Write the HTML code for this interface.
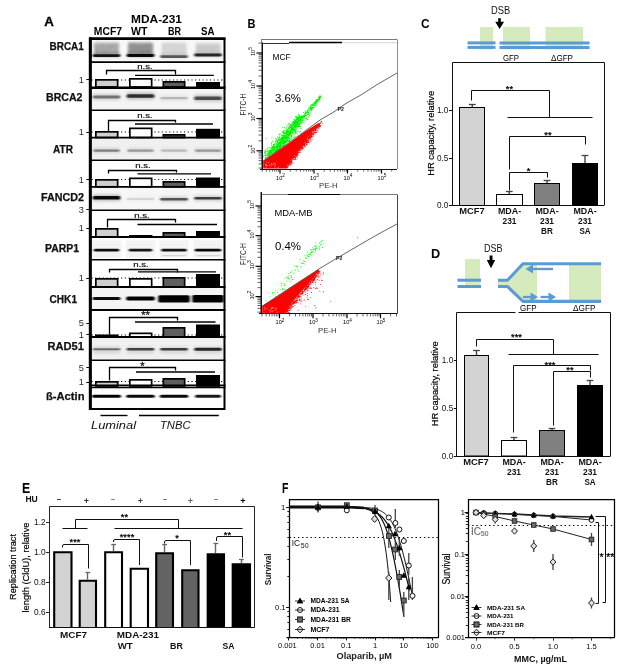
<!DOCTYPE html>
<html lang="en"><head><meta charset="utf-8"><title>Figure</title>
<style>
html,body{margin:0;padding:0;background:#fff;}
body{width:621px;height:668px;overflow:hidden;}
svg{display:block;font-family:"Liberation Sans",sans-serif;}
</style></head><body>
<svg width="621" height="668" viewBox="0 0 621 668">
<defs>
<filter id="b1" x="-20%" y="-100%" width="140%" height="300%"><feGaussianBlur stdDeviation="1.1 0.7"/></filter>
<filter id="b2" x="-20%" y="-100%" width="140%" height="300%"><feGaussianBlur stdDeviation="1.6 1.4"/></filter>
<filter id="nz" x="-5%" y="-10%" width="110%" height="120%"><feTurbulence type="fractalNoise" baseFrequency="0.55 0.9" numOctaves="2" seed="4" result="n"/><feColorMatrix in="n" type="matrix" values="0 0 0 0 0  0 0 0 0 0  0 0 0 0 0  2.6 0 0 0 -0.85" result="a"/><feComposite in="SourceGraphic" in2="a" operator="in"/><feGaussianBlur stdDeviation="0.85"/></filter>
<filter id="b3" x="-5%" y="-5%" width="110%" height="110%"><feGaussianBlur stdDeviation="0.35"/></filter>
</defs>
<rect width="621" height="668" fill="#fff"/>
<g id="panelA">
<text x="44.3" y="26.2" font-size="13.4" font-weight="bold" textLength="9.6" lengthAdjust="spacingAndGlyphs" stroke="#000" stroke-width="0.3">A</text>
<text x="131" y="23" font-size="11" font-weight="bold" textLength="51" lengthAdjust="spacingAndGlyphs">MDA-231</text>
<text x="93.8" y="35" font-size="10.3" font-weight="bold" textLength="28.2" lengthAdjust="spacingAndGlyphs">MCF7</text>
<text x="131" y="35" font-size="10.3" font-weight="bold" textLength="16.5" lengthAdjust="spacingAndGlyphs">WT</text>
<text x="168" y="35" font-size="10.3" font-weight="bold" textLength="13" lengthAdjust="spacingAndGlyphs">BR</text>
<text x="201" y="35" font-size="10.3" font-weight="bold" textLength="13.5" lengthAdjust="spacingAndGlyphs">SA</text>
<text x="49.5" y="50" font-size="10.6" font-weight="bold" fill="#111" textLength="34.3" lengthAdjust="spacingAndGlyphs" stroke="#111" stroke-width="0.25">BRCA1</text>
<rect x="90.5" y="39" width="134" height="22" fill="#f8f8f8"/>
<text x="46" y="101" font-size="10.6" font-weight="bold" fill="#111" textLength="36.5" lengthAdjust="spacingAndGlyphs" stroke="#111" stroke-width="0.25">BRCA2</text>
<rect x="90.5" y="88" width="134" height="21.5" fill="#f4f4f4"/>
<text x="53" y="152.5" font-size="10.6" font-weight="bold" fill="#111" textLength="20" lengthAdjust="spacingAndGlyphs" stroke="#111" stroke-width="0.25">ATR</text>
<rect x="90.5" y="138" width="134" height="21.5" fill="#f0f0f0"/>
<text x="41" y="201" font-size="10.6" font-weight="bold" fill="#111" textLength="43" lengthAdjust="spacingAndGlyphs" stroke="#111" stroke-width="0.25">FANCD2</text>
<rect x="90.5" y="187.5" width="134" height="22" fill="#f6f6f6"/>
<text x="45" y="252" font-size="10.6" font-weight="bold" fill="#111" textLength="34" lengthAdjust="spacingAndGlyphs" stroke="#111" stroke-width="0.25">PARP1</text>
<rect x="90.5" y="238" width="134" height="21" fill="#fcfcfc"/>
<text x="49.5" y="302.5" font-size="10.6" font-weight="bold" fill="#111" textLength="27.5" lengthAdjust="spacingAndGlyphs" stroke="#111" stroke-width="0.25">CHK1</text>
<rect x="90.5" y="288" width="134" height="21" fill="#f4f4f4"/>
<text x="47.5" y="350" font-size="10.6" font-weight="bold" fill="#111" textLength="36.5" lengthAdjust="spacingAndGlyphs" stroke="#111" stroke-width="0.25">RAD51</text>
<rect x="90.5" y="338" width="134" height="21.5" fill="#f0f0f0"/>
<text x="46" y="399.5" font-size="10.6" font-weight="bold" fill="#111" textLength="38.5" lengthAdjust="spacingAndGlyphs" stroke="#111" stroke-width="0.25">ß-Actin</text>
<rect x="90.5" y="387.5" width="134" height="20.5" fill="#fdfdfd"/>
<rect x="94" y="42.8" width="25" height="12" rx="1.5" fill="#000" opacity="0.24" filter="url(#b2)"/>
<rect x="94" y="42.5" width="25" height="12.5" fill="#000" opacity="0.22" filter="url(#nz)"/>
<rect x="92.75" y="54.2" width="27.5" height="2.8" rx="1.4" fill="#000" opacity="0.9" filter="url(#b1)"/>
<rect x="92.5" y="52.85" width="28" height="4.5" rx="1.5" fill="#000" opacity="0.23" filter="url(#b2)"/>
<rect x="128" y="42.8" width="25" height="12" rx="1.5" fill="#000" opacity="0.32" filter="url(#b2)"/>
<rect x="128" y="42.5" width="25" height="12.5" fill="#000" opacity="0.29" filter="url(#nz)"/>
<rect x="126.75" y="54.1" width="27.5" height="2.8" rx="1.4" fill="#000" opacity="0.95" filter="url(#b1)"/>
<rect x="126.5" y="52.75" width="28" height="4.5" rx="1.5" fill="#000" opacity="0.24" filter="url(#b2)"/>
<rect x="161.5" y="42.8" width="25" height="12" rx="1.5" fill="#000" opacity="0.1" filter="url(#b2)"/>
<rect x="161.5" y="42.5" width="25" height="12.5" fill="#000" opacity="0.09" filter="url(#nz)"/>
<rect x="160.25" y="55.2" width="27.5" height="2.8" rx="1.4" fill="#000" opacity="0.6" filter="url(#b1)"/>
<rect x="160" y="53.85" width="28" height="4.5" rx="1.5" fill="#000" opacity="0.15" filter="url(#b2)"/>
<rect x="195.5" y="42.8" width="25" height="12" rx="1.5" fill="#000" opacity="0.08" filter="url(#b2)"/>
<rect x="195.5" y="42.5" width="25" height="12.5" fill="#000" opacity="0.07" filter="url(#nz)"/>
<rect x="194.25" y="53.6" width="27.5" height="2.8" rx="1.4" fill="#000" opacity="0.8" filter="url(#b1)"/>
<rect x="194" y="52.25" width="28" height="4.5" rx="1.5" fill="#000" opacity="0.2" filter="url(#b2)"/>
<rect x="196" y="44.5" width="24" height="7" rx="1.5" fill="#000" opacity="0.08" filter="url(#b2)"/>
<rect x="92.75" y="95.6" width="27.5" height="2.8" rx="1.4" fill="#000" opacity="0.45" filter="url(#b1)"/>
<rect x="92.5" y="93.85" width="28" height="6.3" rx="1.5" fill="#000" opacity="0.14" filter="url(#b2)"/>
<rect x="126.75" y="94.2" width="27.5" height="3.6" rx="1.5" fill="#000" opacity="0.75" filter="url(#b1)"/>
<rect x="126.5" y="92.45" width="28" height="7.1" rx="1.5" fill="#000" opacity="0.22" filter="url(#b2)"/>
<rect x="160.25" y="97.1" width="27.5" height="2.2" rx="1.1" fill="#000" opacity="0.2" filter="url(#b1)"/>
<rect x="160" y="95.35" width="28" height="5.7" rx="1.5" fill="#000" opacity="0.06" filter="url(#b2)"/>
<rect x="194.25" y="96.5" width="27.5" height="3.4" rx="1.5" fill="#000" opacity="0.62" filter="url(#b1)"/>
<rect x="194" y="94.75" width="28" height="6.9" rx="1.5" fill="#000" opacity="0.19" filter="url(#b2)"/>
<rect x="93.5" y="149.4" width="26" height="2.4" rx="1.2" fill="#000" opacity="0.4" filter="url(#b1)"/>
<rect x="93" y="148.1" width="27" height="5" rx="1.5" fill="#000" opacity="0.12" filter="url(#b2)"/>
<rect x="127.5" y="149.4" width="26" height="2.4" rx="1.2" fill="#000" opacity="0.3" filter="url(#b1)"/>
<rect x="127" y="148.1" width="27" height="5" rx="1.5" fill="#000" opacity="0.09" filter="url(#b2)"/>
<rect x="161" y="149.4" width="26" height="2.4" rx="1.2" fill="#000" opacity="0.18" filter="url(#b1)"/>
<rect x="160.5" y="148.1" width="27" height="5" rx="1.5" fill="#000" opacity="0.05" filter="url(#b2)"/>
<rect x="195" y="149.4" width="26" height="2.4" rx="1.2" fill="#000" opacity="0.3" filter="url(#b1)"/>
<rect x="194.5" y="148.1" width="27" height="5" rx="1.5" fill="#000" opacity="0.09" filter="url(#b2)"/>
<rect x="92.75" y="196" width="27.5" height="3.6" rx="1.5" fill="#000" opacity="0.95" filter="url(#b1)"/>
<rect x="92.5" y="194.5" width="28" height="6.6" rx="1.5" fill="#000" opacity="0.24" filter="url(#b2)"/>
<rect x="126.75" y="198.1" width="27.5" height="1.8" rx="0.9" fill="#000" opacity="0.1" filter="url(#b1)"/>
<rect x="126.5" y="196.6" width="28" height="4.8" rx="1.5" fill="#000" opacity="0.03" filter="url(#b2)"/>
<rect x="160.25" y="198.1" width="27.5" height="2.4" rx="1.2" fill="#000" opacity="0.6" filter="url(#b1)"/>
<rect x="160" y="196.6" width="28" height="5.4" rx="1.5" fill="#000" opacity="0.15" filter="url(#b2)"/>
<rect x="194.25" y="196.9" width="27.5" height="2.6" rx="1.3" fill="#000" opacity="0.7" filter="url(#b1)"/>
<rect x="194" y="195.4" width="28" height="5.6" rx="1.5" fill="#000" opacity="0.17" filter="url(#b2)"/>
<rect x="92" y="240.5" width="29" height="17" fill="#f3f3f3"/>
<rect x="126" y="240.5" width="29" height="17" fill="#f3f3f3"/>
<rect x="159.5" y="240.5" width="29" height="17" fill="#f3f3f3"/>
<rect x="193.5" y="240.5" width="29" height="17" fill="#f3f3f3"/>
<rect x="93.75" y="248.8" width="25.5" height="2.8" rx="1.4" fill="#000" opacity="0.95" filter="url(#b1)"/>
<rect x="128.75" y="248.8" width="23.5" height="2.8" rx="1.4" fill="#000" opacity="0.9" filter="url(#b1)"/>
<rect x="161.25" y="248.8" width="25.5" height="2.8" rx="1.4" fill="#000" opacity="0.92" filter="url(#b1)"/>
<rect x="194.75" y="248.8" width="26.5" height="2.8" rx="1.4" fill="#000" opacity="0.97" filter="url(#b1)"/>
<rect x="162" y="255" width="24" height="1.2" rx="0.6" fill="#000" opacity="0.12" filter="url(#b1)"/>
<rect x="196" y="255" width="24" height="1.2" rx="0.6" fill="#000" opacity="0.12" filter="url(#b1)"/>
<rect x="92.5" y="297.1" width="28" height="3" rx="1.5" fill="#000" opacity="0.95" filter="url(#b1)"/>
<rect x="126.25" y="296.6" width="28.5" height="4" rx="1.5" fill="#000" opacity="1" filter="url(#b1)"/>
<rect x="158.25" y="295.2" width="31.5" height="7.2" rx="1.5" fill="#000" opacity="1" filter="url(#b1)"/>
<rect x="192.25" y="295" width="31.5" height="7.6" rx="1.5" fill="#000" opacity="1" filter="url(#b1)"/>
<rect x="92.75" y="348.2" width="27.5" height="2" rx="1" fill="#000" opacity="0.5" filter="url(#b1)"/>
<rect x="92.5" y="346.5" width="28" height="7" rx="1.5" fill="#000" opacity="0.1" filter="url(#b2)"/>
<rect x="126.75" y="347.9" width="27.5" height="2.6" rx="1.3" fill="#000" opacity="0.7" filter="url(#b1)"/>
<rect x="126.5" y="346.5" width="28" height="7" rx="1.5" fill="#000" opacity="0.1" filter="url(#b2)"/>
<rect x="160.25" y="347.9" width="27.5" height="2.6" rx="1.3" fill="#000" opacity="0.72" filter="url(#b1)"/>
<rect x="160" y="346.5" width="28" height="7" rx="1.5" fill="#000" opacity="0.1" filter="url(#b2)"/>
<rect x="194.25" y="347.7" width="27.5" height="3" rx="1.5" fill="#000" opacity="0.82" filter="url(#b1)"/>
<rect x="194" y="346.5" width="28" height="7" rx="1.5" fill="#000" opacity="0.1" filter="url(#b2)"/>
<rect x="92" y="394.8" width="29" height="3" rx="1.5" fill="#000" opacity="0.98" filter="url(#b1)"/>
<rect x="126.25" y="394.8" width="28.5" height="3" rx="1.5" fill="#000" opacity="0.96" filter="url(#b1)"/>
<rect x="159.75" y="394.8" width="28.5" height="3" rx="1.5" fill="#000" opacity="0.96" filter="url(#b1)"/>
<rect x="195" y="394.8" width="26" height="3" rx="1.5" fill="#000" opacity="0.9" filter="url(#b1)"/>
<rect x="90.5" y="62.5" width="134" height="24.5" fill="#fff"/>
<line x1="91.5" y1="80" x2="223.5" y2="80" stroke="#111" stroke-width="1.2" stroke-dasharray="1.2 2.5"/>
<rect x="95.85" y="79.85" width="21.8" height="7.15" fill="#cfcfcf" stroke="#000" stroke-width="1.7"/>
<rect x="129.85" y="78.85" width="21.8" height="8.15" fill="#fff" stroke="#000" stroke-width="1.7"/>
<rect x="163.35" y="81.85" width="21.3" height="5.15" fill="#5e5e5e" stroke="#000" stroke-width="1.7"/>
<rect x="196.85" y="82.85" width="22.3" height="4.15" fill="#000" stroke="#000" stroke-width="1.7"/>
<text x="83.8" y="82.7" font-size="9.2" text-anchor="end" fill="#2a2a2a">1</text>
<line x1="86.3" y1="79.5" x2="89.5" y2="79.5" stroke="#111" stroke-width="1"/>
<text x="145" y="68.8" font-size="7.6" text-anchor="middle" fill="#111" textLength="15.5" lengthAdjust="spacingAndGlyphs" stroke="#111" stroke-width="0.2">n.s.</text>
<path d="M106.5 74.5V70.5H175.5V74.5" fill="none" stroke="#000" stroke-width="1.3"/>
<line x1="135" y1="75.4" x2="213.8" y2="75.4" stroke="#000" stroke-width="1.3"/>
<rect x="90.5" y="111" width="134" height="26.5" fill="#fff"/>
<line x1="91.5" y1="132" x2="223.5" y2="132" stroke="#111" stroke-width="1.2" stroke-dasharray="1.2 2.5"/>
<rect x="95.85" y="131.85" width="21.8" height="5.65" fill="#cfcfcf" stroke="#000" stroke-width="1.7"/>
<rect x="129.85" y="128.35" width="21.8" height="9.15" fill="#fff" stroke="#000" stroke-width="1.7"/>
<rect x="163.35" y="134.85" width="21.3" height="2.65" fill="#5e5e5e" stroke="#000" stroke-width="1.7"/>
<rect x="196.85" y="129.65" width="22.3" height="7.85" fill="#000" stroke="#000" stroke-width="1.7"/>
<text x="83.8" y="135.2" font-size="9.2" text-anchor="end" fill="#2a2a2a">1</text>
<line x1="86.3" y1="132.5" x2="89.5" y2="132.5" stroke="#111" stroke-width="1"/>
<text x="145" y="117.6" font-size="7.6" text-anchor="middle" fill="#111" textLength="15.5" lengthAdjust="spacingAndGlyphs" stroke="#111" stroke-width="0.2">n.s.</text>
<path d="M108.5 131.5V120.5H175.5V122.5" fill="none" stroke="#000" stroke-width="1.3"/>
<line x1="135" y1="124" x2="213" y2="124" stroke="#000" stroke-width="1.3"/>
<rect x="90.5" y="161" width="134" height="25.8" fill="#fff"/>
<line x1="91.5" y1="179.5" x2="223.5" y2="179.5" stroke="#111" stroke-width="1.2" stroke-dasharray="1.2 2.5"/>
<rect x="95.85" y="179.85" width="21.8" height="6.95" fill="#cfcfcf" stroke="#000" stroke-width="1.7"/>
<rect x="129.85" y="178.35" width="21.8" height="8.45" fill="#fff" stroke="#000" stroke-width="1.7"/>
<rect x="163.35" y="181.85" width="21.3" height="4.95" fill="#5e5e5e" stroke="#000" stroke-width="1.7"/>
<rect x="196.85" y="178.35" width="22.3" height="8.45" fill="#000" stroke="#000" stroke-width="1.7"/>
<text x="83.8" y="182.7" font-size="9.2" text-anchor="end" fill="#2a2a2a">1</text>
<line x1="86.3" y1="179.5" x2="89.5" y2="179.5" stroke="#111" stroke-width="1"/>
<text x="143" y="167.6" font-size="7.6" text-anchor="middle" fill="#111" textLength="15.5" lengthAdjust="spacingAndGlyphs" stroke="#111" stroke-width="0.2">n.s.</text>
<path d="M108.5 173.5V170.5H176.5V172.5" fill="none" stroke="#000" stroke-width="1.3"/>
<line x1="137.5" y1="173.8" x2="211" y2="173.8" stroke="#000" stroke-width="1.3"/>
<rect x="90.5" y="211" width="134" height="26" fill="#fff"/>
<rect x="95.85" y="228.85" width="21.8" height="8.15" fill="#cfcfcf" stroke="#000" stroke-width="1.7"/>
<rect x="129.85" y="235.85" width="21.8" height="1.15" fill="#fff" stroke="#000" stroke-width="1.7"/>
<rect x="163.35" y="232.85" width="21.3" height="4.15" fill="#5e5e5e" stroke="#000" stroke-width="1.7"/>
<rect x="196.85" y="231.85" width="22.3" height="5.15" fill="#000" stroke="#000" stroke-width="1.7"/>
<text x="83.8" y="212.7" font-size="9.2" text-anchor="end" fill="#2a2a2a">3</text>
<line x1="86.3" y1="209.5" x2="89.5" y2="209.5" stroke="#111" stroke-width="1"/>
<text x="83.8" y="231.2" font-size="9.2" text-anchor="end" fill="#2a2a2a">1</text>
<line x1="86.3" y1="228.5" x2="89.5" y2="228.5" stroke="#111" stroke-width="1"/>
<text x="142" y="217.6" font-size="7.6" text-anchor="middle" fill="#111" textLength="15.5" lengthAdjust="spacingAndGlyphs" stroke="#111" stroke-width="0.2">n.s.</text>
<path d="M107.5 227.5V219.5H175.5V222.5" fill="none" stroke="#000" stroke-width="1.3"/>
<line x1="137.5" y1="224.5" x2="217" y2="224.5" stroke="#000" stroke-width="1.3"/>
<rect x="90.5" y="260.5" width="134" height="26.5" fill="#fff"/>
<line x1="91.5" y1="278" x2="223.5" y2="278" stroke="#111" stroke-width="1.2" stroke-dasharray="1.2 2.5"/>
<rect x="95.85" y="278.85" width="21.8" height="8.15" fill="#cfcfcf" stroke="#000" stroke-width="1.7"/>
<rect x="129.85" y="278.85" width="21.8" height="8.15" fill="#fff" stroke="#000" stroke-width="1.7"/>
<rect x="163.35" y="277.85" width="21.3" height="9.15" fill="#5e5e5e" stroke="#000" stroke-width="1.7"/>
<rect x="196.85" y="274.85" width="22.3" height="12.15" fill="#000" stroke="#000" stroke-width="1.7"/>
<text x="83.8" y="281.2" font-size="9.2" text-anchor="end" fill="#2a2a2a">1</text>
<line x1="86.3" y1="278.5" x2="89.5" y2="278.5" stroke="#111" stroke-width="1"/>
<text x="141" y="267.2" font-size="7.6" text-anchor="middle" fill="#111" textLength="15.5" lengthAdjust="spacingAndGlyphs" stroke="#111" stroke-width="0.2">n.s.</text>
<path d="M109.5 272.5V269.5H177.5V272.5" fill="none" stroke="#000" stroke-width="1.3"/>
<line x1="138" y1="271.8" x2="216" y2="271.8" stroke="#000" stroke-width="1.3"/>
<rect x="90.5" y="311" width="134" height="26" fill="#fff"/>
<line x1="91.5" y1="335" x2="223.5" y2="335" stroke="#111" stroke-width="1.2" stroke-dasharray="1.2 2.5"/>
<rect x="95.85" y="335.35" width="21.8" height="1.65" fill="#cfcfcf" stroke="#000" stroke-width="1.7"/>
<rect x="129.85" y="333.35" width="21.8" height="3.65" fill="#fff" stroke="#000" stroke-width="1.7"/>
<rect x="163.35" y="327.85" width="21.3" height="9.15" fill="#5e5e5e" stroke="#000" stroke-width="1.7"/>
<rect x="196.85" y="325.35" width="22.3" height="11.65" fill="#000" stroke="#000" stroke-width="1.7"/>
<text x="83.8" y="326.2" font-size="9.2" text-anchor="end" fill="#2a2a2a">5</text>
<line x1="86.3" y1="323.5" x2="89.5" y2="323.5" stroke="#111" stroke-width="1"/>
<text x="83.8" y="337.7" font-size="9.2" text-anchor="end" fill="#2a2a2a">1</text>
<line x1="86.3" y1="334.5" x2="89.5" y2="334.5" stroke="#111" stroke-width="1"/>
<text x="145.5" y="319.3" font-size="11" text-anchor="middle" fill="#111" stroke="#111" stroke-width="0.3">**</text>
<path d="M109.5 334.5V317.5H177.5V320.5" fill="none" stroke="#000" stroke-width="1.3"/>
<line x1="135" y1="322" x2="215.5" y2="322" stroke="#000" stroke-width="1.3"/>
<rect x="90.5" y="361" width="134" height="25" fill="#fff"/>
<line x1="91.5" y1="381.5" x2="223.5" y2="381.5" stroke="#111" stroke-width="1.2" stroke-dasharray="1.2 2.5"/>
<rect x="95.85" y="381.85" width="21.8" height="4.15" fill="#cfcfcf" stroke="#000" stroke-width="1.7"/>
<rect x="129.85" y="379.85" width="21.8" height="6.15" fill="#fff" stroke="#000" stroke-width="1.7"/>
<rect x="163.35" y="378.85" width="21.3" height="7.15" fill="#5e5e5e" stroke="#000" stroke-width="1.7"/>
<rect x="196.85" y="375.85" width="22.3" height="10.15" fill="#000" stroke="#000" stroke-width="1.7"/>
<text x="83.8" y="370.7" font-size="9.2" text-anchor="end" fill="#2a2a2a">5</text>
<line x1="86.3" y1="367.5" x2="89.5" y2="367.5" stroke="#111" stroke-width="1"/>
<text x="83.8" y="385.2" font-size="9.2" text-anchor="end" fill="#2a2a2a">1</text>
<line x1="86.3" y1="382.5" x2="89.5" y2="382.5" stroke="#111" stroke-width="1"/>
<text x="142.3" y="369.6" font-size="11" text-anchor="middle" fill="#111" stroke="#111" stroke-width="0.3">*</text>
<path d="M109.5 380.5V367.5H175.5V370.5" fill="none" stroke="#000" stroke-width="1.3"/>
<line x1="136" y1="372" x2="215" y2="372" stroke="#000" stroke-width="1.3"/>
<line x1="89.5" y1="62.1" x2="225.5" y2="62.1" stroke="#000" stroke-width="1.7"/>
<line x1="89.5" y1="87.7" x2="225.5" y2="87.7" stroke="#000" stroke-width="2.4"/>
<line x1="89.5" y1="110.2" x2="225.5" y2="110.2" stroke="#000" stroke-width="1.6"/>
<line x1="89.5" y1="137.6" x2="225.5" y2="137.6" stroke="#000" stroke-width="1.6"/>
<line x1="89.5" y1="160.2" x2="225.5" y2="160.2" stroke="#000" stroke-width="1.6"/>
<line x1="89.5" y1="186.8" x2="225.5" y2="186.8" stroke="#000" stroke-width="1.8"/>
<line x1="89.5" y1="210.2" x2="225.5" y2="210.2" stroke="#000" stroke-width="1.6"/>
<line x1="89.5" y1="237" x2="225.5" y2="237" stroke="#000" stroke-width="2"/>
<line x1="89.5" y1="259.8" x2="225.5" y2="259.8" stroke="#000" stroke-width="1.6"/>
<line x1="89.5" y1="287" x2="225.5" y2="287" stroke="#000" stroke-width="2"/>
<line x1="89.5" y1="310" x2="225.5" y2="310" stroke="#000" stroke-width="1.8"/>
<line x1="89.5" y1="337" x2="225.5" y2="337" stroke="#000" stroke-width="2"/>
<line x1="89.5" y1="360.2" x2="225.5" y2="360.2" stroke="#000" stroke-width="1.6"/>
<line x1="89.5" y1="385.4" x2="225.5" y2="385.4" stroke="#000" stroke-width="1.6"/>
<line x1="89.5" y1="387.5" x2="225.5" y2="387.5" stroke="#000" stroke-width="1.4"/>
<path d="M90.5 38.4H224.5V409H90.5Z" fill="none" stroke="#000" stroke-width="2"/>
<line x1="89" y1="38.7" x2="225.5" y2="38.7" stroke="#000" stroke-width="2.6"/>
<line x1="90.2" y1="37.4" x2="90.2" y2="410" stroke="#000" stroke-width="2.6"/>
<line x1="90.2" y1="37.4" x2="90.2" y2="410" stroke="#000" stroke-width="2.6"/>
<line x1="100.5" y1="415.5" x2="127.5" y2="415.5" stroke="#000" stroke-width="1.4"/>
<line x1="139" y1="415.5" x2="218.8" y2="415.5" stroke="#000" stroke-width="1.4"/>
<text x="91" y="429" font-size="11.6" fill="#111" textLength="45" lengthAdjust="spacingAndGlyphs" font-style="italic">Luminal</text>
<text x="160" y="428.5" font-size="11.6" fill="#111" textLength="30.5" lengthAdjust="spacingAndGlyphs" font-style="italic">TNBC</text>
</g>
<g id="panelB">
<text x="247.5" y="27.5" font-size="12.8" font-weight="bold" textLength="8" lengthAdjust="spacingAndGlyphs">B</text>
<rect x="261" y="39.5" width="136" height="129.5" fill="#fff"/>
<line x1="261" y1="39.5" x2="397" y2="39.5" stroke="#777" stroke-width="1"/>
<line x1="397.5" y1="39.5" x2="397.5" y2="169" stroke="#8c8c8c" stroke-width="1"/>
<line x1="261.5" y1="39.5" x2="261.5" y2="169" stroke="#8c8c8c" stroke-width="1"/>
<line x1="289" y1="42.7" x2="397" y2="42.7" stroke="#c8c8c8" stroke-width="0.8"/>
<line x1="262.5" y1="43.5" x2="289" y2="43.5" stroke="#333" stroke-width="1"/>
<line x1="289" y1="42.5" x2="342" y2="42.5" stroke="#000" stroke-width="1.4"/>
<line x1="262.5" y1="42.5" x2="262.5" y2="169" stroke="#111" stroke-width="1"/>
<line x1="260" y1="169.5" x2="397" y2="169.5" stroke="#111" stroke-width="1"/>
<line x1="256.5" y1="53" x2="262.5" y2="53" stroke="#000" stroke-width="1.2"/>
<line x1="258.5" y1="43.07" x2="262.5" y2="43.07" stroke="#222" stroke-width="0.7"/>
<text x="255" y="51.5" font-size="5.6" fill="#000" transform="rotate(-90 255 51.5)" text-anchor="middle">10<tspan dy="-2.8" font-size="5">5</tspan></text>
<line x1="256.5" y1="86" x2="262.5" y2="86" stroke="#000" stroke-width="1.2"/>
<line x1="258.5" y1="76.07" x2="262.5" y2="76.07" stroke="#222" stroke-width="0.7"/>
<line x1="258.5" y1="70.25" x2="262.5" y2="70.25" stroke="#222" stroke-width="0.7"/>
<line x1="258.5" y1="66.13" x2="262.5" y2="66.13" stroke="#222" stroke-width="0.7"/>
<line x1="258.5" y1="62.93" x2="262.5" y2="62.93" stroke="#222" stroke-width="0.7"/>
<line x1="258.5" y1="60.32" x2="262.5" y2="60.32" stroke="#222" stroke-width="0.7"/>
<line x1="258.5" y1="58.11" x2="262.5" y2="58.11" stroke="#222" stroke-width="0.7"/>
<line x1="258.5" y1="56.2" x2="262.5" y2="56.2" stroke="#222" stroke-width="0.7"/>
<line x1="258.5" y1="54.51" x2="262.5" y2="54.51" stroke="#222" stroke-width="0.7"/>
<text x="255" y="84.5" font-size="5.6" fill="#000" transform="rotate(-90 255 84.5)" text-anchor="middle">10<tspan dy="-2.8" font-size="5">4</tspan></text>
<line x1="256.5" y1="118.5" x2="262.5" y2="118.5" stroke="#000" stroke-width="1.2"/>
<line x1="258.5" y1="108.57" x2="262.5" y2="108.57" stroke="#222" stroke-width="0.7"/>
<line x1="258.5" y1="102.75" x2="262.5" y2="102.75" stroke="#222" stroke-width="0.7"/>
<line x1="258.5" y1="98.63" x2="262.5" y2="98.63" stroke="#222" stroke-width="0.7"/>
<line x1="258.5" y1="95.43" x2="262.5" y2="95.43" stroke="#222" stroke-width="0.7"/>
<line x1="258.5" y1="92.82" x2="262.5" y2="92.82" stroke="#222" stroke-width="0.7"/>
<line x1="258.5" y1="90.61" x2="262.5" y2="90.61" stroke="#222" stroke-width="0.7"/>
<line x1="258.5" y1="88.7" x2="262.5" y2="88.7" stroke="#222" stroke-width="0.7"/>
<line x1="258.5" y1="87.01" x2="262.5" y2="87.01" stroke="#222" stroke-width="0.7"/>
<text x="255" y="117" font-size="5.6" fill="#000" transform="rotate(-90 255 117)" text-anchor="middle">10<tspan dy="-2.8" font-size="5">3</tspan></text>
<line x1="256.5" y1="150.8" x2="262.5" y2="150.8" stroke="#000" stroke-width="1.2"/>
<line x1="258.5" y1="140.87" x2="262.5" y2="140.87" stroke="#222" stroke-width="0.7"/>
<line x1="258.5" y1="135.05" x2="262.5" y2="135.05" stroke="#222" stroke-width="0.7"/>
<line x1="258.5" y1="130.93" x2="262.5" y2="130.93" stroke="#222" stroke-width="0.7"/>
<line x1="258.5" y1="127.73" x2="262.5" y2="127.73" stroke="#222" stroke-width="0.7"/>
<line x1="258.5" y1="125.12" x2="262.5" y2="125.12" stroke="#222" stroke-width="0.7"/>
<line x1="258.5" y1="122.91" x2="262.5" y2="122.91" stroke="#222" stroke-width="0.7"/>
<line x1="258.5" y1="121" x2="262.5" y2="121" stroke="#222" stroke-width="0.7"/>
<line x1="258.5" y1="119.31" x2="262.5" y2="119.31" stroke="#222" stroke-width="0.7"/>
<text x="255" y="149.3" font-size="5.6" fill="#000" transform="rotate(-90 255 149.3)" text-anchor="middle">10<tspan dy="-2.8" font-size="5">2</tspan></text>
<line x1="258.5" y1="168.05" x2="262.5" y2="168.05" stroke="#222" stroke-width="0.7"/>
<line x1="258.5" y1="163.93" x2="262.5" y2="163.93" stroke="#222" stroke-width="0.7"/>
<line x1="258.5" y1="160.73" x2="262.5" y2="160.73" stroke="#222" stroke-width="0.7"/>
<line x1="258.5" y1="158.12" x2="262.5" y2="158.12" stroke="#222" stroke-width="0.7"/>
<line x1="258.5" y1="155.91" x2="262.5" y2="155.91" stroke="#222" stroke-width="0.7"/>
<line x1="258.5" y1="154" x2="262.5" y2="154" stroke="#222" stroke-width="0.7"/>
<line x1="258.5" y1="152.31" x2="262.5" y2="152.31" stroke="#222" stroke-width="0.7"/>
<line x1="280" y1="169" x2="280" y2="173.5" stroke="#000" stroke-width="1.2"/>
<line x1="290.24" y1="169" x2="290.24" y2="171.6" stroke="#222" stroke-width="0.7"/>
<line x1="296.22" y1="169" x2="296.22" y2="171.6" stroke="#222" stroke-width="0.7"/>
<line x1="300.47" y1="169" x2="300.47" y2="171.6" stroke="#222" stroke-width="0.7"/>
<line x1="303.76" y1="169" x2="303.76" y2="171.6" stroke="#222" stroke-width="0.7"/>
<line x1="306.46" y1="169" x2="306.46" y2="171.6" stroke="#222" stroke-width="0.7"/>
<line x1="308.73" y1="169" x2="308.73" y2="171.6" stroke="#222" stroke-width="0.7"/>
<line x1="310.71" y1="169" x2="310.71" y2="171.6" stroke="#222" stroke-width="0.7"/>
<line x1="312.44" y1="169" x2="312.44" y2="171.6" stroke="#222" stroke-width="0.7"/>
<text x="280.5" y="179.5" font-size="5.6" fill="#000" text-anchor="middle">10<tspan dy="-2.6" font-size="4.6">2</tspan></text>
<line x1="314" y1="169" x2="314" y2="173.5" stroke="#000" stroke-width="1.2"/>
<line x1="324.24" y1="169" x2="324.24" y2="171.6" stroke="#222" stroke-width="0.7"/>
<line x1="330.22" y1="169" x2="330.22" y2="171.6" stroke="#222" stroke-width="0.7"/>
<line x1="334.47" y1="169" x2="334.47" y2="171.6" stroke="#222" stroke-width="0.7"/>
<line x1="337.76" y1="169" x2="337.76" y2="171.6" stroke="#222" stroke-width="0.7"/>
<line x1="340.46" y1="169" x2="340.46" y2="171.6" stroke="#222" stroke-width="0.7"/>
<line x1="342.73" y1="169" x2="342.73" y2="171.6" stroke="#222" stroke-width="0.7"/>
<line x1="344.71" y1="169" x2="344.71" y2="171.6" stroke="#222" stroke-width="0.7"/>
<line x1="346.44" y1="169" x2="346.44" y2="171.6" stroke="#222" stroke-width="0.7"/>
<text x="314.5" y="179.5" font-size="5.6" fill="#000" text-anchor="middle">10<tspan dy="-2.6" font-size="4.6">3</tspan></text>
<line x1="347.5" y1="169" x2="347.5" y2="173.5" stroke="#000" stroke-width="1.2"/>
<line x1="357.74" y1="169" x2="357.74" y2="171.6" stroke="#222" stroke-width="0.7"/>
<line x1="363.72" y1="169" x2="363.72" y2="171.6" stroke="#222" stroke-width="0.7"/>
<line x1="367.97" y1="169" x2="367.97" y2="171.6" stroke="#222" stroke-width="0.7"/>
<line x1="371.26" y1="169" x2="371.26" y2="171.6" stroke="#222" stroke-width="0.7"/>
<line x1="373.96" y1="169" x2="373.96" y2="171.6" stroke="#222" stroke-width="0.7"/>
<line x1="376.23" y1="169" x2="376.23" y2="171.6" stroke="#222" stroke-width="0.7"/>
<line x1="378.21" y1="169" x2="378.21" y2="171.6" stroke="#222" stroke-width="0.7"/>
<line x1="379.94" y1="169" x2="379.94" y2="171.6" stroke="#222" stroke-width="0.7"/>
<text x="348" y="179.5" font-size="5.6" fill="#000" text-anchor="middle">10<tspan dy="-2.6" font-size="4.6">4</tspan></text>
<line x1="381.5" y1="169" x2="381.5" y2="173.5" stroke="#000" stroke-width="1.2"/>
<line x1="391.74" y1="169" x2="391.74" y2="171.6" stroke="#222" stroke-width="0.7"/>
<text x="382" y="179.5" font-size="5.6" fill="#000" text-anchor="middle">10<tspan dy="-2.6" font-size="4.6">5</tspan></text>
<line x1="262.22" y1="169" x2="262.22" y2="171.6" stroke="#222" stroke-width="0.7"/>
<line x1="266.47" y1="169" x2="266.47" y2="171.6" stroke="#222" stroke-width="0.7"/>
<line x1="269.76" y1="169" x2="269.76" y2="171.6" stroke="#222" stroke-width="0.7"/>
<line x1="272.46" y1="169" x2="272.46" y2="171.6" stroke="#222" stroke-width="0.7"/>
<line x1="274.73" y1="169" x2="274.73" y2="171.6" stroke="#222" stroke-width="0.7"/>
<line x1="276.71" y1="169" x2="276.71" y2="171.6" stroke="#222" stroke-width="0.7"/>
<line x1="278.44" y1="169" x2="278.44" y2="171.6" stroke="#222" stroke-width="0.7"/>
<clipPath id="cp39"><rect x="263.2" y="42.5" width="133.5" height="126.1"/></clipPath>
<g clip-path="url(#cp39)">
<path d="M272.75 147.8h0.85v0.85h-0.85zM287.8 136.83h0.85v0.85h-0.85zM284.75 137.78h0.85v0.85h-0.85zM280.06 143.45h0.85v0.85h-0.85zM290.09 126.96h0.85v0.85h-0.85zM280.72 147h0.85v0.85h-0.85zM317.8 97.27h0.85v0.85h-0.85zM272.1 150.45h0.85v0.85h-0.85zM266.05 156.83h0.85v0.85h-0.85zM305.37 112.56h0.85v0.85h-0.85zM287.04 134.73h0.85v0.85h-0.85zM298.06 126.3h0.85v0.85h-0.85zM289.3 131.8h0.85v0.85h-0.85zM284.05 143.53h0.85v0.85h-0.85zM294.45 120.74h0.85v0.85h-0.85zM311.19 108.21h0.85v0.85h-0.85zM301.05 121.83h0.85v0.85h-0.85zM280.39 144.42h0.85v0.85h-0.85zM286.07 141.06h0.85v0.85h-0.85zM293.22 136.63h0.85v0.85h-0.85zM311.27 108.22h0.85v0.85h-0.85zM287.33 129.05h0.85v0.85h-0.85zM294.51 136.81h0.85v0.85h-0.85zM315.77 100.81h0.85v0.85h-0.85zM284.09 141.17h0.85v0.85h-0.85zM298.5 123.72h0.85v0.85h-0.85zM290.15 124.37h0.85v0.85h-0.85zM279.12 146.83h0.85v0.85h-0.85zM283.42 142.04h0.85v0.85h-0.85zM302.26 117.18h0.85v0.85h-0.85zM309.3 107.24h0.85v0.85h-0.85zM310.88 106.65h0.85v0.85h-0.85zM305.68 112.34h0.85v0.85h-0.85zM271.03 142.95h0.85v0.85h-0.85zM282.06 138.24h0.85v0.85h-0.85zM290.49 132.32h0.85v0.85h-0.85zM280.23 144.2h0.85v0.85h-0.85zM299.15 125.79h0.85v0.85h-0.85zM289.06 140.35h0.85v0.85h-0.85zM312.18 105.16h0.85v0.85h-0.85zM307.68 117.22h0.85v0.85h-0.85zM280.35 147.15h0.85v0.85h-0.85zM292.76 128.24h0.85v0.85h-0.85zM276.44 149.26h0.85v0.85h-0.85zM310.39 107.68h0.85v0.85h-0.85zM291 129.48h0.85v0.85h-0.85zM274.75 147.15h0.85v0.85h-0.85zM272.97 144h0.85v0.85h-0.85zM319.56 95.9h0.85v0.85h-0.85zM284.36 142.32h0.85v0.85h-0.85zM277.23 149.66h0.85v0.85h-0.85zM284.39 133.13h0.85v0.85h-0.85zM318.75 97.67h0.85v0.85h-0.85zM310 109.09h0.85v0.85h-0.85zM305.3 118.07h0.85v0.85h-0.85zM274.93 149.03h0.85v0.85h-0.85zM318.64 96.52h0.85v0.85h-0.85zM308.17 109.25h0.85v0.85h-0.85zM303.62 122.44h0.85v0.85h-0.85zM295.79 122.75h0.85v0.85h-0.85zM318.3 100.95h0.85v0.85h-0.85zM319.33 96.56h0.85v0.85h-0.85zM317.2 100.29h0.85v0.85h-0.85zM269.51 153.7h0.85v0.85h-0.85zM268.85 155.49h0.85v0.85h-0.85zM311.4 104.39h0.85v0.85h-0.85zM309.73 112.42h0.85v0.85h-0.85zM304.66 114.47h0.85v0.85h-0.85zM306.48 118.56h0.85v0.85h-0.85zM302.38 119.93h0.85v0.85h-0.85zM304.03 115.53h0.85v0.85h-0.85zM273.22 147.35h0.85v0.85h-0.85zM274.66 141.52h0.85v0.85h-0.85zM302.97 112.05h0.85v0.85h-0.85zM263.45 154.57h0.85v0.85h-0.85zM300.25 131.29h0.85v0.85h-0.85zM318.56 98.79h0.85v0.85h-0.85zM315.9 102.72h0.85v0.85h-0.85zM277.27 140.13h0.85v0.85h-0.85zM288.53 131.06h0.85v0.85h-0.85zM313.13 104.26h0.85v0.85h-0.85zM312.6 104.74h0.85v0.85h-0.85zM277.35 141.65h0.85v0.85h-0.85zM288.52 137.92h0.85v0.85h-0.85zM283.48 134.8h0.85v0.85h-0.85zM285.26 142.2h0.85v0.85h-0.85zM301.08 122.47h0.85v0.85h-0.85zM286.98 138.3h0.85v0.85h-0.85zM288.1 134.65h0.85v0.85h-0.85zM289.87 135.49h0.85v0.85h-0.85zM280.71 134.43h0.85v0.85h-0.85zM288.4 134.1h0.85v0.85h-0.85zM294.79 132.8h0.85v0.85h-0.85zM297.39 124.04h0.85v0.85h-0.85zM316 101.52h0.85v0.85h-0.85zM294.44 120.7h0.85v0.85h-0.85zM283.95 130.73h0.85v0.85h-0.85zM313.71 106.81h0.85v0.85h-0.85zM310.55 106.47h0.85v0.85h-0.85zM316.81 100.38h0.85v0.85h-0.85zM307.07 111.46h0.85v0.85h-0.85zM274.72 147.94h0.85v0.85h-0.85zM288.75 135.35h0.85v0.85h-0.85zM275.85 149.61h0.85v0.85h-0.85zM293.54 130.27h0.85v0.85h-0.85zM319.39 97.1h0.85v0.85h-0.85zM303.41 115.13h0.85v0.85h-0.85zM275.72 140.13h0.85v0.85h-0.85zM264.2 154.98h0.85v0.85h-0.85zM299.07 124.33h0.85v0.85h-0.85zM279.15 142.62h0.85v0.85h-0.85zM305.84 115.14h0.85v0.85h-0.85zM310 109.17h0.85v0.85h-0.85zM284.47 143.81h0.85v0.85h-0.85zM313.87 102.18h0.85v0.85h-0.85zM270.11 150.75h0.85v0.85h-0.85zM268.64 152.04h0.85v0.85h-0.85zM268.41 147.4h0.85v0.85h-0.85zM283.9 137.96h0.85v0.85h-0.85zM266.42 149.21h0.85v0.85h-0.85zM287.69 134.85h0.85v0.85h-0.85zM307.77 114.11h0.85v0.85h-0.85zM306.93 111.02h0.85v0.85h-0.85zM319.18 97.38h0.85v0.85h-0.85zM273.96 146.96h0.85v0.85h-0.85zM296.56 131.14h0.85v0.85h-0.85zM280.38 145.86h0.85v0.85h-0.85zM299.34 128.72h0.85v0.85h-0.85zM280.21 139.67h0.85v0.85h-0.85zM317.34 99.29h0.85v0.85h-0.85zM318.69 98.61h0.85v0.85h-0.85zM317.9 99.11h0.85v0.85h-0.85zM275.17 151.15h0.85v0.85h-0.85zM278.45 146.71h0.85v0.85h-0.85zM285.57 142.32h0.85v0.85h-0.85zM285.36 138.6h0.85v0.85h-0.85zM278.08 144.53h0.85v0.85h-0.85zM294.32 135.92h0.85v0.85h-0.85zM295.58 127.41h0.85v0.85h-0.85zM297.58 120.91h0.85v0.85h-0.85zM318.97 96.82h0.85v0.85h-0.85zM291.1 125.68h0.85v0.85h-0.85zM297.09 132.72h0.85v0.85h-0.85zM299.81 120.18h0.85v0.85h-0.85zM287.84 138.35h0.85v0.85h-0.85zM282.69 136.46h0.85v0.85h-0.85zM308.93 113.91h0.85v0.85h-0.85zM287.2 130.27h0.85v0.85h-0.85zM299.22 125.45h0.85v0.85h-0.85zM269.66 153.57h0.85v0.85h-0.85zM277.16 147.8h0.85v0.85h-0.85zM264.77 158.1h0.85v0.85h-0.85zM295.47 131.34h0.85v0.85h-0.85zM293.98 130.32h0.85v0.85h-0.85zM304.8 114.88h0.85v0.85h-0.85zM290.34 139h0.85v0.85h-0.85zM291.84 124.1h0.85v0.85h-0.85zM270.09 152.09h0.85v0.85h-0.85zM264.46 151.24h0.85v0.85h-0.85zM298.59 118.31h0.85v0.85h-0.85zM279.2 147.23h0.85v0.85h-0.85zM285.87 142.06h0.85v0.85h-0.85zM295.91 133.13h0.85v0.85h-0.85zM292.83 127.16h0.85v0.85h-0.85zM271.65 153.21h0.85v0.85h-0.85zM301.59 120.29h0.85v0.85h-0.85zM294.34 121.6h0.85v0.85h-0.85zM296.78 125.9h0.85v0.85h-0.85zM279.52 138.5h0.85v0.85h-0.85zM278.45 137.43h0.85v0.85h-0.85zM264.9 152.05h0.85v0.85h-0.85zM318.73 97.72h0.85v0.85h-0.85zM282.92 141.95h0.85v0.85h-0.85zM305.01 111.69h0.85v0.85h-0.85zM268.38 154.1h0.85v0.85h-0.85zM290.56 133.37h0.85v0.85h-0.85zM309.21 115.09h0.85v0.85h-0.85zM298.26 123.26h0.85v0.85h-0.85zM268.2 152.25h0.85v0.85h-0.85zM274.52 151.31h0.85v0.85h-0.85zM307.08 110.27h0.85v0.85h-0.85zM315.01 103.16h0.85v0.85h-0.85zM284.83 127.67h0.85v0.85h-0.85zM315.86 102.36h0.85v0.85h-0.85zM265.48 153.22h0.85v0.85h-0.85zM271.45 141.82h0.85v0.85h-0.85zM306.61 114.21h0.85v0.85h-0.85zM288.53 125.23h0.85v0.85h-0.85zM291.24 138h0.85v0.85h-0.85zM296.32 119.36h0.85v0.85h-0.85zM280.73 141.07h0.85v0.85h-0.85zM302.36 119.55h0.85v0.85h-0.85zM314.09 102.35h0.85v0.85h-0.85zM273.88 146.8h0.85v0.85h-0.85zM295.69 127.71h0.85v0.85h-0.85zM275.25 142.75h0.85v0.85h-0.85zM312.53 104.42h0.85v0.85h-0.85zM283.71 138.16h0.85v0.85h-0.85zM319.6 95.37h0.85v0.85h-0.85zM280.92 141.33h0.85v0.85h-0.85zM274.45 147.44h0.85v0.85h-0.85zM271.33 152.57h0.85v0.85h-0.85zM286.01 131.14h0.85v0.85h-0.85zM276.93 149.84h0.85v0.85h-0.85zM278.86 140.1h0.85v0.85h-0.85zM316.16 99.61h0.85v0.85h-0.85zM287.88 130.43h0.85v0.85h-0.85zM314.67 102.82h0.85v0.85h-0.85zM304.73 110.59h0.85v0.85h-0.85zM264.76 157.87h0.85v0.85h-0.85zM294.55 123.19h0.85v0.85h-0.85zM316.01 101.53h0.85v0.85h-0.85zM304.68 119.67h0.85v0.85h-0.85zM283.43 142.55h0.85v0.85h-0.85zM303.79 116.35h0.85v0.85h-0.85zM266.96 151.14h0.85v0.85h-0.85zM294.94 121.2h0.85v0.85h-0.85zM263.14 156.37h0.85v0.85h-0.85zM288.77 131.71h0.85v0.85h-0.85zM278.16 145.8h0.85v0.85h-0.85zM292.7 126.81h0.85v0.85h-0.85zM312 107.51h0.85v0.85h-0.85zM317.51 99.63h0.85v0.85h-0.85zM286.31 140.15h0.85v0.85h-0.85zM294.24 124.97h0.85v0.85h-0.85zM267.62 154.37h0.85v0.85h-0.85zM304.86 115.02h0.85v0.85h-0.85zM318.47 98.89h0.85v0.85h-0.85zM265.16 149.8h0.85v0.85h-0.85zM317.17 100.78h0.85v0.85h-0.85zM284.01 138.57h0.85v0.85h-0.85zM278.32 142.84h0.85v0.85h-0.85zM294.32 125.32h0.85v0.85h-0.85zM279.76 146.54h0.85v0.85h-0.85zM268.9 154.28h0.85v0.85h-0.85zM309.98 105.89h0.85v0.85h-0.85zM295.98 117.2h0.85v0.85h-0.85zM276.12 150.05h0.85v0.85h-0.85zM264 152.32h0.85v0.85h-0.85zM296.87 127.53h0.85v0.85h-0.85zM273.77 147.88h0.85v0.85h-0.85zM266.21 155.29h0.85v0.85h-0.85zM277.01 148.6h0.85v0.85h-0.85zM315.92 99.16h0.85v0.85h-0.85zM263.77 150.51h0.85v0.85h-0.85zM274.56 146.07h0.85v0.85h-0.85zM313.97 103.42h0.85v0.85h-0.85zM278.01 143.25h0.85v0.85h-0.85zM269.55 151.23h0.85v0.85h-0.85zM299.88 118.29h0.85v0.85h-0.85zM317.47 100.07h0.85v0.85h-0.85zM299.94 122.75h0.85v0.85h-0.85zM275.44 150.71h0.85v0.85h-0.85zM301.59 118.47h0.85v0.85h-0.85zM315.12 104.86h0.85v0.85h-0.85zM316.62 99.99h0.85v0.85h-0.85zM278.84 146.52h0.85v0.85h-0.85zM281.61 136.86h0.85v0.85h-0.85zM314.24 102.26h0.85v0.85h-0.85zM297.63 117.72h0.85v0.85h-0.85zM306.39 112.39h0.85v0.85h-0.85zM319.1 97.68h0.85v0.85h-0.85zM310.51 106.33h0.85v0.85h-0.85zM281.99 142.54h0.85v0.85h-0.85zM294.6 124.34h0.85v0.85h-0.85zM299.74 118.08h0.85v0.85h-0.85zM308.43 111.29h0.85v0.85h-0.85zM273.95 143.91h0.85v0.85h-0.85zM300.06 119.78h0.85v0.85h-0.85zM269.58 152.24h0.85v0.85h-0.85zM264.96 155.34h0.85v0.85h-0.85zM275.42 142.71h0.85v0.85h-0.85zM308.01 115.89h0.85v0.85h-0.85zM281.2 138.72h0.85v0.85h-0.85zM315.09 105.17h0.85v0.85h-0.85zM268.24 155.51h0.85v0.85h-0.85zM319.32 99.07h0.85v0.85h-0.85zM310.72 109.24h0.85v0.85h-0.85zM302.95 116.33h0.85v0.85h-0.85zM315.52 100.44h0.85v0.85h-0.85zM290.51 128.31h0.85v0.85h-0.85zM269.09 155.13h0.85v0.85h-0.85zM264.74 152.96h0.85v0.85h-0.85zM273.36 149.41h0.85v0.85h-0.85zM283.39 131.7h0.85v0.85h-0.85zM286.47 133.97h0.85v0.85h-0.85zM292.58 127.44h0.85v0.85h-0.85zM296.86 123.22h0.85v0.85h-0.85zM280.6 145.49h0.85v0.85h-0.85zM316.29 99.85h0.85v0.85h-0.85zM281.6 145.59h0.85v0.85h-0.85zM308.76 107.92h0.85v0.85h-0.85zM299.71 120.93h0.85v0.85h-0.85zM312.6 105.16h0.85v0.85h-0.85zM279.39 142.98h0.85v0.85h-0.85zM312.13 107.77h0.85v0.85h-0.85zM282.54 141.41h0.85v0.85h-0.85zM287.74 134.84h0.85v0.85h-0.85zM292.99 127.58h0.85v0.85h-0.85zM293.13 130.16h0.85v0.85h-0.85zM285.11 136.42h0.85v0.85h-0.85zM285.12 140.1h0.85v0.85h-0.85zM304.4 113.48h0.85v0.85h-0.85zM315.24 100.64h0.85v0.85h-0.85zM315.84 103.88h0.85v0.85h-0.85zM289.21 127.19h0.85v0.85h-0.85zM305.56 111.43h0.85v0.85h-0.85zM265.66 150.91h0.85v0.85h-0.85zM276.29 142.52h0.85v0.85h-0.85zM276.31 144.75h0.85v0.85h-0.85zM310.9 104.46h0.85v0.85h-0.85zM306.58 110.18h0.85v0.85h-0.85zM285.63 133.29h0.85v0.85h-0.85zM293.74 130.01h0.85v0.85h-0.85zM287.61 130.8h0.85v0.85h-0.85zM282.74 145.52h0.85v0.85h-0.85zM301.96 117.62h0.85v0.85h-0.85zM282.29 139.79h0.85v0.85h-0.85zM280.12 142.83h0.85v0.85h-0.85zM290.34 125.97h0.85v0.85h-0.85zM302.07 115.63h0.85v0.85h-0.85zM282.58 135.52h0.85v0.85h-0.85zM277.05 145.95h0.85v0.85h-0.85zM315.83 99.84h0.85v0.85h-0.85zM319.79 95.58h0.85v0.85h-0.85zM299.59 120.25h0.85v0.85h-0.85zM319.35 97.63h0.85v0.85h-0.85zM278.37 134.4h0.85v0.85h-0.85zM303.6 115.29h0.85v0.85h-0.85zM277.57 149.11h0.85v0.85h-0.85zM299.85 116.97h0.85v0.85h-0.85zM266.94 147.53h0.85v0.85h-0.85zM305.13 112.44h0.85v0.85h-0.85zM313.41 102.9h0.85v0.85h-0.85zM271.32 147.08h0.85v0.85h-0.85zM315.07 101.59h0.85v0.85h-0.85zM295.44 124.25h0.85v0.85h-0.85zM304.4 116.47h0.85v0.85h-0.85zM278.4 148.9h0.85v0.85h-0.85zM311.74 109.01h0.85v0.85h-0.85zM311.64 107.41h0.85v0.85h-0.85zM279.42 146.18h0.85v0.85h-0.85zM305.19 115.2h0.85v0.85h-0.85zM282.07 126.92h0.85v0.85h-0.85zM277.16 147.84h0.85v0.85h-0.85zM297.82 117.14h0.85v0.85h-0.85zM270.55 152.34h0.85v0.85h-0.85zM290.75 125.93h0.85v0.85h-0.85zM295.62 126.6h0.85v0.85h-0.85zM274.28 150.12h0.85v0.85h-0.85zM294.76 132.31h0.85v0.85h-0.85zM311.76 105.45h0.85v0.85h-0.85zM276.06 147.25h0.85v0.85h-0.85zM293.93 130.59h0.85v0.85h-0.85zM315.4 101.82h0.85v0.85h-0.85zM271.21 153.72h0.85v0.85h-0.85zM292.83 127.77h0.85v0.85h-0.85zM310.12 107.94h0.85v0.85h-0.85zM299 131.84h0.85v0.85h-0.85zM298.71 119.32h0.85v0.85h-0.85zM271.49 153.54h0.85v0.85h-0.85zM287.38 137.02h0.85v0.85h-0.85zM279.74 145.2h0.85v0.85h-0.85zM302.87 116.11h0.85v0.85h-0.85zM295.53 129.53h0.85v0.85h-0.85zM305.41 113.01h0.85v0.85h-0.85zM271.89 149.31h0.85v0.85h-0.85zM300.97 123.77h0.85v0.85h-0.85zM301.92 120.77h0.85v0.85h-0.85zM268.42 152.35h0.85v0.85h-0.85zM300.93 118.81h0.85v0.85h-0.85zM295.73 122.34h0.85v0.85h-0.85zM292.53 138.49h0.85v0.85h-0.85zM284.52 135.68h0.85v0.85h-0.85zM310.24 106.65h0.85v0.85h-0.85zM298.21 117.41h0.85v0.85h-0.85zM311.36 107.56h0.85v0.85h-0.85zM312.6 104.22h0.85v0.85h-0.85zM294.33 130.01h0.85v0.85h-0.85zM319.48 98.19h0.85v0.85h-0.85zM280.83 139.02h0.85v0.85h-0.85zM310.74 110.6h0.85v0.85h-0.85zM282.14 143.76h0.85v0.85h-0.85zM313.64 104.55h0.85v0.85h-0.85zM314.79 102.56h0.85v0.85h-0.85zM276.21 148.6h0.85v0.85h-0.85zM299.34 125.65h0.85v0.85h-0.85zM302.41 121.89h0.85v0.85h-0.85zM306.94 113.63h0.85v0.85h-0.85zM306.03 112.58h0.85v0.85h-0.85zM310.31 108.64h0.85v0.85h-0.85zM313.33 103.72h0.85v0.85h-0.85zM305.28 113.11h0.85v0.85h-0.85zM291.93 127.57h0.85v0.85h-0.85zM266.93 153.29h0.85v0.85h-0.85zM318.67 100.02h0.85v0.85h-0.85zM292.45 130.12h0.85v0.85h-0.85zM302.11 116.34h0.85v0.85h-0.85zM307.93 107.56h0.85v0.85h-0.85zM265.49 154.62h0.85v0.85h-0.85zM318.07 97.23h0.85v0.85h-0.85zM304.62 114.87h0.85v0.85h-0.85zM307.29 111.74h0.85v0.85h-0.85zM270.06 151.34h0.85v0.85h-0.85zM298.71 124.17h0.85v0.85h-0.85zM293.52 128.57h0.85v0.85h-0.85zM306.25 117.68h0.85v0.85h-0.85zM294.4 130.43h0.85v0.85h-0.85zM276.62 143.85h0.85v0.85h-0.85zM310.13 104.92h0.85v0.85h-0.85zM279 133.81h0.85v0.85h-0.85zM276.64 145.46h0.85v0.85h-0.85zM284.28 142.84h0.85v0.85h-0.85zM286.79 136.53h0.85v0.85h-0.85zM297.86 130.81h0.85v0.85h-0.85zM307.56 110.23h0.85v0.85h-0.85zM295.3 126.56h0.85v0.85h-0.85zM283.48 144.68h0.85v0.85h-0.85zM303.73 117.61h0.85v0.85h-0.85zM283.62 142.17h0.85v0.85h-0.85zM311.35 106.77h0.85v0.85h-0.85zM272.37 149.59h0.85v0.85h-0.85zM297.41 122.59h0.85v0.85h-0.85zM264.84 154.74h0.85v0.85h-0.85zM272.38 147.09h0.85v0.85h-0.85zM295.28 117.19h0.85v0.85h-0.85zM279.06 146.94h0.85v0.85h-0.85zM319.09 97.07h0.85v0.85h-0.85zM275.66 143.72h0.85v0.85h-0.85zM303.98 115.21h0.85v0.85h-0.85zM300.15 126.2h0.85v0.85h-0.85zM282.96 141.48h0.85v0.85h-0.85zM301.75 120.75h0.85v0.85h-0.85zM314.18 105.45h0.85v0.85h-0.85zM300.32 118.39h0.85v0.85h-0.85zM279.95 143.73h0.85v0.85h-0.85zM309.43 105.99h0.85v0.85h-0.85zM304 117.75h0.85v0.85h-0.85zM300.21 128.18h0.85v0.85h-0.85zM295.71 129.69h0.85v0.85h-0.85zM292.42 128.77h0.85v0.85h-0.85zM297.14 120.95h0.85v0.85h-0.85zM293.08 129.13h0.85v0.85h-0.85zM279.3 139.4h0.85v0.85h-0.85zM295.48 132.17h0.85v0.85h-0.85zM314.36 102.02h0.85v0.85h-0.85zM283.66 138.97h0.85v0.85h-0.85zM287.75 135.86h0.85v0.85h-0.85zM267.26 156.73h0.85v0.85h-0.85zM300.06 122.76h0.85v0.85h-0.85zM289.14 140.82h0.85v0.85h-0.85zM277.97 143.27h0.85v0.85h-0.85zM297.18 125.03h0.85v0.85h-0.85zM278.99 146.02h0.85v0.85h-0.85zM319.53 97.32h0.85v0.85h-0.85zM274.69 146.3h0.85v0.85h-0.85zM278.59 144.92h0.85v0.85h-0.85zM296.69 122.69h0.85v0.85h-0.85zM277.32 148.79h0.85v0.85h-0.85zM299.49 118.81h0.85v0.85h-0.85zM316.18 101.92h0.85v0.85h-0.85zM305.23 114.66h0.85v0.85h-0.85zM278.69 145.82h0.85v0.85h-0.85zM302.45 116.09h0.85v0.85h-0.85zM306.7 114.64h0.85v0.85h-0.85zM290.95 136.16h0.85v0.85h-0.85zM268.03 152.54h0.85v0.85h-0.85zM294.15 128.78h0.85v0.85h-0.85zM305.74 112.47h0.85v0.85h-0.85zM284.38 132.49h0.85v0.85h-0.85zM272.64 144.68h0.85v0.85h-0.85zM308.88 110.13h0.85v0.85h-0.85zM269 151.08h0.85v0.85h-0.85zM280.81 143.89h0.85v0.85h-0.85zM299.2 121.41h0.85v0.85h-0.85zM281.37 138.3h0.85v0.85h-0.85zM314.67 102.51h0.85v0.85h-0.85zM307.38 112.41h0.85v0.85h-0.85zM312.92 104.76h0.85v0.85h-0.85zM307.97 112.37h0.85v0.85h-0.85zM292.97 128.56h0.85v0.85h-0.85zM316.66 100.38h0.85v0.85h-0.85zM294.82 127.01h0.85v0.85h-0.85zM312.74 104.89h0.85v0.85h-0.85zM312.42 106.69h0.85v0.85h-0.85zM291.01 130.24h0.85v0.85h-0.85zM313.42 107.07h0.85v0.85h-0.85zM303.55 115.3h0.85v0.85h-0.85zM298.43 124.88h0.85v0.85h-0.85zM287.02 136.81h0.85v0.85h-0.85zM312.26 107.9h0.85v0.85h-0.85zM288.52 135.04h0.85v0.85h-0.85zM265.52 156.7h0.85v0.85h-0.85zM281.62 136.92h0.85v0.85h-0.85zM309.67 108.88h0.85v0.85h-0.85zM291.25 136.34h0.85v0.85h-0.85zM294.34 125.34h0.85v0.85h-0.85zM316.7 98.96h0.85v0.85h-0.85zM292.04 127.41h0.85v0.85h-0.85zM315.73 102.92h0.85v0.85h-0.85zM271.89 146.46h0.85v0.85h-0.85zM284.56 140.32h0.85v0.85h-0.85zM310.97 104.48h0.85v0.85h-0.85zM292.02 128.84h0.85v0.85h-0.85zM274.3 147.64h0.85v0.85h-0.85zM285.74 142.47h0.85v0.85h-0.85zM286.31 136.87h0.85v0.85h-0.85zM283.52 145.11h0.85v0.85h-0.85zM308.27 113.17h0.85v0.85h-0.85zM270.9 151.07h0.85v0.85h-0.85zM281.35 135.11h0.85v0.85h-0.85zM304.7 115.66h0.85v0.85h-0.85zM288.39 130.94h0.85v0.85h-0.85zM293.28 128.6h0.85v0.85h-0.85zM299.9 121.86h0.85v0.85h-0.85zM311.73 107h0.85v0.85h-0.85zM286.73 126.69h0.85v0.85h-0.85zM293.81 125.9h0.85v0.85h-0.85zM296.95 134.67h0.85v0.85h-0.85zM294.76 132.23h0.85v0.85h-0.85zM293.62 133.96h0.85v0.85h-0.85zM295.8 124.37h0.85v0.85h-0.85zM278.27 138.25h0.85v0.85h-0.85zM301.41 117.3h0.85v0.85h-0.85zM301.13 115.32h0.85v0.85h-0.85zM306.25 112.3h0.85v0.85h-0.85zM279.85 142.6h0.85v0.85h-0.85zM293.19 127.59h0.85v0.85h-0.85zM289.46 134.24h0.85v0.85h-0.85zM286.47 130.79h0.85v0.85h-0.85zM314.15 103.71h0.85v0.85h-0.85zM278.66 146.31h0.85v0.85h-0.85zM284.27 126.85h0.85v0.85h-0.85zM276.47 141.82h0.85v0.85h-0.85zM267.65 153.32h0.85v0.85h-0.85zM296.68 124.7h0.85v0.85h-0.85zM310.29 108.35h0.85v0.85h-0.85zM299.94 120.33h0.85v0.85h-0.85zM302.59 116.59h0.85v0.85h-0.85zM296.88 120.68h0.85v0.85h-0.85zM293.66 129.73h0.85v0.85h-0.85zM315.87 102.9h0.85v0.85h-0.85zM266.84 149.26h0.85v0.85h-0.85zM310.2 109.62h0.85v0.85h-0.85zM281.66 137.75h0.85v0.85h-0.85zM288.69 132.66h0.85v0.85h-0.85zM282.35 143.76h0.85v0.85h-0.85zM305.48 115.49h0.85v0.85h-0.85zM276.98 145.07h0.85v0.85h-0.85zM307.37 118.94h0.85v0.85h-0.85zM289.31 134.2h0.85v0.85h-0.85zM318.31 98.07h0.85v0.85h-0.85zM297.23 122.42h0.85v0.85h-0.85zM293.43 132.57h0.85v0.85h-0.85zM318.46 97.61h0.85v0.85h-0.85zM278.7 141.89h0.85v0.85h-0.85zM298.04 125.67h0.85v0.85h-0.85zM287.8 128.47h0.85v0.85h-0.85zM287.72 130.37h0.85v0.85h-0.85zM305.84 112.97h0.85v0.85h-0.85zM307.67 111.84h0.85v0.85h-0.85zM304.63 112.62h0.85v0.85h-0.85zM308.18 109.48h0.85v0.85h-0.85zM314.79 105.02h0.85v0.85h-0.85zM273.07 145.82h0.85v0.85h-0.85zM303.83 114.13h0.85v0.85h-0.85zM292.78 131.89h0.85v0.85h-0.85zM285.7 129.62h0.85v0.85h-0.85zM289.8 140.19h0.85v0.85h-0.85zM285.32 141.89h0.85v0.85h-0.85zM291.26 136.1h0.85v0.85h-0.85zM320.47 95.98h0.85v0.85h-0.85zM292.52 128.25h0.85v0.85h-0.85zM302.9 114.87h0.85v0.85h-0.85zM272.87 145.85h0.85v0.85h-0.85zM285.47 136.93h0.85v0.85h-0.85zM319.8 96.55h0.85v0.85h-0.85zM311.32 109.73h0.85v0.85h-0.85zM306.76 119.25h0.85v0.85h-0.85zM300.82 116.14h0.85v0.85h-0.85zM305.36 112.14h0.85v0.85h-0.85zM286.5 133.09h0.85v0.85h-0.85zM316.8 101.24h0.85v0.85h-0.85zM312.31 103.6h0.85v0.85h-0.85zM277.65 144.4h0.85v0.85h-0.85zM264.83 157.31h0.85v0.85h-0.85zM289.43 134.6h0.85v0.85h-0.85zM290.61 125.62h0.85v0.85h-0.85zM280.48 147.17h0.85v0.85h-0.85zM277.83 138.97h0.85v0.85h-0.85zM319.13 95.79h0.85v0.85h-0.85zM268.48 153.25h0.85v0.85h-0.85zM276.45 148.09h0.85v0.85h-0.85zM311.41 104.01h0.85v0.85h-0.85zM304.5 116.33h0.85v0.85h-0.85zM319.95 97.51h0.85v0.85h-0.85zM314.8 100.88h0.85v0.85h-0.85zM297.06 125.97h0.85v0.85h-0.85zM299.78 116.66h0.85v0.85h-0.85zM265.19 157.36h0.85v0.85h-0.85zM282.91 139.36h0.85v0.85h-0.85zM265.98 156.84h0.85v0.85h-0.85zM293.03 122.56h0.85v0.85h-0.85zM315.46 102.3h0.85v0.85h-0.85zM309.53 108.17h0.85v0.85h-0.85zM283.14 143.45h0.85v0.85h-0.85zM294.9 130.79h0.85v0.85h-0.85zM279.11 136.68h0.85v0.85h-0.85zM291.97 128.41h0.85v0.85h-0.85zM299.75 123.01h0.85v0.85h-0.85zM310.48 108.32h0.85v0.85h-0.85zM272.23 152.21h0.85v0.85h-0.85zM308.28 111.37h0.85v0.85h-0.85zM283.01 138.31h0.85v0.85h-0.85zM274.03 149.41h0.85v0.85h-0.85zM318.97 97.84h0.85v0.85h-0.85zM284.26 140.92h0.85v0.85h-0.85zM267.65 154.13h0.85v0.85h-0.85zM265.74 138.06h0.85v0.85h-0.85zM314.68 103.11h0.85v0.85h-0.85zM265.36 150.74h0.85v0.85h-0.85zM293.44 128.06h0.85v0.85h-0.85zM295.1 124.06h0.85v0.85h-0.85zM296.4 123.38h0.85v0.85h-0.85zM283.33 139.5h0.85v0.85h-0.85zM297.5 119.02h0.85v0.85h-0.85zM270.34 149.18h0.85v0.85h-0.85zM274.64 149.63h0.85v0.85h-0.85zM268.69 151.79h0.85v0.85h-0.85zM283.42 135.65h0.85v0.85h-0.85zM277.14 145.39h0.85v0.85h-0.85zM289.17 126.12h0.85v0.85h-0.85zM295.7 124.21h0.85v0.85h-0.85zM294.66 128.56h0.85v0.85h-0.85zM268.77 153.39h0.85v0.85h-0.85zM296.31 124.72h0.85v0.85h-0.85zM293.89 119.44h0.85v0.85h-0.85zM280.15 133.4h0.85v0.85h-0.85zM283.91 137.24h0.85v0.85h-0.85zM296.73 121.05h0.85v0.85h-0.85zM294.37 121.93h0.85v0.85h-0.85zM279.79 141.31h0.85v0.85h-0.85zM286.4 131.4h0.85v0.85h-0.85zM285.87 136.16h0.85v0.85h-0.85zM299.16 123.27h0.85v0.85h-0.85zM280.13 144.55h0.85v0.85h-0.85zM294.52 127.25h0.85v0.85h-0.85zM266.46 151.31h0.85v0.85h-0.85zM288.78 139.66h0.85v0.85h-0.85zM288.11 137.96h0.85v0.85h-0.85zM299.45 116.86h0.85v0.85h-0.85zM271.01 151.98h0.85v0.85h-0.85zM277.1 146.89h0.85v0.85h-0.85zM291.15 128.16h0.85v0.85h-0.85zM287.83 132.17h0.85v0.85h-0.85zM290.58 135.69h0.85v0.85h-0.85zM296.65 121.15h0.85v0.85h-0.85zM286.65 138.16h0.85v0.85h-0.85zM280.15 139.07h0.85v0.85h-0.85zM294.74 120.29h0.85v0.85h-0.85zM293.75 121.83h0.85v0.85h-0.85zM283.5 140.58h0.85v0.85h-0.85zM297.18 123.48h0.85v0.85h-0.85zM299 118.23h0.85v0.85h-0.85zM294.34 125.45h0.85v0.85h-0.85zM278.45 142.39h0.85v0.85h-0.85zM279.04 136.31h0.85v0.85h-0.85zM298.2 119.49h0.85v0.85h-0.85zM294.56 123.14h0.85v0.85h-0.85zM286.21 136.3h0.85v0.85h-0.85zM298.35 116.67h0.85v0.85h-0.85zM283.38 140.38h0.85v0.85h-0.85zM290.77 132.18h0.85v0.85h-0.85zM269.07 152.71h0.85v0.85h-0.85zM283.49 139.76h0.85v0.85h-0.85zM273.94 151.76h0.85v0.85h-0.85zM299.14 116.49h0.85v0.85h-0.85zM293.68 134.29h0.85v0.85h-0.85zM292.17 121.76h0.85v0.85h-0.85zM289.77 130.86h0.85v0.85h-0.85zM274.26 143.3h0.85v0.85h-0.85zM283.83 132.92h0.85v0.85h-0.85zM279.01 148.29h0.85v0.85h-0.85zM290.48 139.26h0.85v0.85h-0.85zM276.01 143.68h0.85v0.85h-0.85zM279.82 145.33h0.85v0.85h-0.85zM288.83 133.23h0.85v0.85h-0.85zM300.31 118.24h0.85v0.85h-0.85zM284.21 138.12h0.85v0.85h-0.85zM285.51 134.71h0.85v0.85h-0.85zM272.52 151.23h0.85v0.85h-0.85zM280.42 146.54h0.85v0.85h-0.85zM275.96 146.5h0.85v0.85h-0.85zM289.59 132.78h0.85v0.85h-0.85zM288.07 134.24h0.85v0.85h-0.85zM292.59 128.48h0.85v0.85h-0.85zM286.81 140.4h0.85v0.85h-0.85zM285.04 138.57h0.85v0.85h-0.85zM279.14 144.5h0.85v0.85h-0.85zM283.98 134.97h0.85v0.85h-0.85zM281.79 141.74h0.85v0.85h-0.85zM280.72 142.93h0.85v0.85h-0.85zM296.18 121.3h0.85v0.85h-0.85zM282.08 134.93h0.85v0.85h-0.85zM276.32 144.08h0.85v0.85h-0.85zM293.65 125.25h0.85v0.85h-0.85zM269.44 147.2h0.85v0.85h-0.85zM281.38 137.75h0.85v0.85h-0.85zM291.18 125.81h0.85v0.85h-0.85zM271.87 152.19h0.85v0.85h-0.85zM288.15 123.37h0.85v0.85h-0.85zM289.06 128.15h0.85v0.85h-0.85zM286.58 130.15h0.85v0.85h-0.85zM288.84 138.2h0.85v0.85h-0.85zM292.63 126.66h0.85v0.85h-0.85zM288.04 140.37h0.85v0.85h-0.85zM294.88 125.33h0.85v0.85h-0.85zM294.02 119.13h0.85v0.85h-0.85zM287.67 132.93h0.85v0.85h-0.85zM282.3 134.67h0.85v0.85h-0.85zM283.25 140.56h0.85v0.85h-0.85zM292.31 123.52h0.85v0.85h-0.85zM283.68 143.37h0.85v0.85h-0.85zM287.08 141.16h0.85v0.85h-0.85zM277.63 144.52h0.85v0.85h-0.85zM283.88 142.79h0.85v0.85h-0.85zM280.41 144.69h0.85v0.85h-0.85zM292.86 123.7h0.85v0.85h-0.85zM285.51 140.53h0.85v0.85h-0.85zM275.81 150.23h0.85v0.85h-0.85zM286.37 132.64h0.85v0.85h-0.85zM283.78 130.33h0.85v0.85h-0.85zM276.74 141.86h0.85v0.85h-0.85zM293.68 120.65h0.85v0.85h-0.85zM282.54 139.48h0.85v0.85h-0.85zM291.7 137.26h0.85v0.85h-0.85zM293.51 125.07h0.85v0.85h-0.85zM283.78 133.12h0.85v0.85h-0.85zM285.66 135.89h0.85v0.85h-0.85zM292.17 129.8h0.85v0.85h-0.85zM286.84 131.74h0.85v0.85h-0.85zM277.06 140.32h0.85v0.85h-0.85zM286.9 136.29h0.85v0.85h-0.85zM285.53 132.94h0.85v0.85h-0.85zM283.59 130.68h0.85v0.85h-0.85zM288.54 140h0.85v0.85h-0.85zM285.52 134.95h0.85v0.85h-0.85zM280.84 145.26h0.85v0.85h-0.85zM299.2 115.97h0.85v0.85h-0.85zM298.33 120.77h0.85v0.85h-0.85zM302.54 117.67h0.85v0.85h-0.85zM297.89 120.86h0.85v0.85h-0.85zM277.89 144.91h0.85v0.85h-0.85zM286.84 137.13h0.85v0.85h-0.85zM275.31 149.98h0.85v0.85h-0.85zM290.57 132.19h0.85v0.85h-0.85zM301.14 116.4h0.85v0.85h-0.85zM287.43 129.46h0.85v0.85h-0.85zM293.57 124.19h0.85v0.85h-0.85zM279.19 144.78h0.85v0.85h-0.85zM279.24 144.96h0.85v0.85h-0.85zM297.69 123.7h0.85v0.85h-0.85zM286.64 137.87h0.85v0.85h-0.85zM290.14 130.8h0.85v0.85h-0.85zM283.33 133.25h0.85v0.85h-0.85zM282.4 140.37h0.85v0.85h-0.85zM270.75 150.56h0.85v0.85h-0.85zM268.92 150.18h0.85v0.85h-0.85zM271.05 152.17h0.85v0.85h-0.85zM293.42 121.77h0.85v0.85h-0.85zM288.36 131.67h0.85v0.85h-0.85zM294.67 126.11h0.85v0.85h-0.85zM277.15 140.21h0.85v0.85h-0.85zM274.98 150.58h0.85v0.85h-0.85zM296.96 119.15h0.85v0.85h-0.85zM288.93 134.09h0.85v0.85h-0.85zM279.47 139.86h0.85v0.85h-0.85zM268.31 153.1h0.85v0.85h-0.85zM300.49 118.14h0.85v0.85h-0.85zM284.47 140.05h0.85v0.85h-0.85zM297.71 117.95h0.85v0.85h-0.85zM298.47 120.59h0.85v0.85h-0.85zM295.61 123.87h0.85v0.85h-0.85zM297.62 116h0.85v0.85h-0.85zM283.43 135.66h0.85v0.85h-0.85zM282.23 141.63h0.85v0.85h-0.85zM291.6 127.22h0.85v0.85h-0.85zM295.46 119.9h0.85v0.85h-0.85zM284.18 136.94h0.85v0.85h-0.85zM278.23 140.71h0.85v0.85h-0.85zM272.43 140.83h0.85v0.85h-0.85zM285.11 132.62h0.85v0.85h-0.85zM279.64 139.99h0.85v0.85h-0.85zM281.01 139.86h0.85v0.85h-0.85zM294.87 122.67h0.85v0.85h-0.85zM280.44 142.81h0.85v0.85h-0.85zM276.75 144.48h0.85v0.85h-0.85zM273.19 144.86h0.85v0.85h-0.85zM279.4 142.68h0.85v0.85h-0.85zM274.76 151.3h0.85v0.85h-0.85zM279.04 147.07h0.85v0.85h-0.85zM294.3 121.66h0.85v0.85h-0.85zM294.3 121.57h0.85v0.85h-0.85zM293.73 123.19h0.85v0.85h-0.85zM290.61 126.23h0.85v0.85h-0.85zM279.72 140.62h0.85v0.85h-0.85zM299.32 117.84h0.85v0.85h-0.85zM284.91 136.15h0.85v0.85h-0.85zM270.63 149.86h0.85v0.85h-0.85zM291.76 128.12h0.85v0.85h-0.85zM283.53 129.76h0.85v0.85h-0.85zM280.93 142.09h0.85v0.85h-0.85zM272.56 146h0.85v0.85h-0.85zM295.35 120h0.85v0.85h-0.85zM284.68 133.53h0.85v0.85h-0.85zM277.64 145.99h0.85v0.85h-0.85zM291.82 131.34h0.85v0.85h-0.85zM287.95 134.31h0.85v0.85h-0.85zM269.62 152.03h0.85v0.85h-0.85zM273.67 149.12h0.85v0.85h-0.85zM291.47 130.74h0.85v0.85h-0.85zM285.89 137.16h0.85v0.85h-0.85zM276.83 143.67h0.85v0.85h-0.85zM275.71 147.42h0.85v0.85h-0.85zM283.95 142.02h0.85v0.85h-0.85zM297.31 119.08h0.85v0.85h-0.85zM299.42 123.73h0.85v0.85h-0.85zM273.81 152.13h0.85v0.85h-0.85zM290.22 128.73h0.85v0.85h-0.85zM291.32 130.58h0.85v0.85h-0.85zM288.47 128.77h0.85v0.85h-0.85zM291.24 128.21h0.85v0.85h-0.85zM275.85 139.37h0.85v0.85h-0.85zM288.7 130.9h0.85v0.85h-0.85zM297.25 118.79h0.85v0.85h-0.85zM292.47 126.86h0.85v0.85h-0.85zM273.88 150.25h0.85v0.85h-0.85zM279.5 140.21h0.85v0.85h-0.85zM271.59 147.41h0.85v0.85h-0.85zM297.87 124h0.85v0.85h-0.85zM279.24 148.19h0.85v0.85h-0.85zM283.92 139.95h0.85v0.85h-0.85zM295.25 122.4h0.85v0.85h-0.85zM296.45 122h0.85v0.85h-0.85zM277.68 147.71h0.85v0.85h-0.85zM272.55 152.56h0.85v0.85h-0.85zM298.9 119.89h0.85v0.85h-0.85zM290.56 124.44h0.85v0.85h-0.85zM279.95 139.7h0.85v0.85h-0.85zM292.11 125.71h0.85v0.85h-0.85zM301.77 119.94h0.85v0.85h-0.85zM289.11 127.13h0.85v0.85h-0.85zM291.32 125.71h0.85v0.85h-0.85zM286.39 140.62h0.85v0.85h-0.85zM287.6 137.68h0.85v0.85h-0.85zM296.71 117.39h0.85v0.85h-0.85zM267.37 153.12h0.85v0.85h-0.85zM290.9 127.73h0.85v0.85h-0.85zM288.05 135.77h0.85v0.85h-0.85zM300.74 117.69h0.85v0.85h-0.85zM273.7 147.56h0.85v0.85h-0.85zM276.69 142.68h0.85v0.85h-0.85zM288.18 127.82h0.85v0.85h-0.85zM276.81 147.49h0.85v0.85h-0.85zM280.69 136.91h0.85v0.85h-0.85zM299.31 118.81h0.85v0.85h-0.85zM296.02 119.7h0.85v0.85h-0.85zM295.44 123.77h0.85v0.85h-0.85zM286.51 134.51h0.85v0.85h-0.85zM291.4 130.44h0.85v0.85h-0.85zM291.44 134.87h0.85v0.85h-0.85zM294.72 122.21h0.85v0.85h-0.85zM273.56 147.13h0.85v0.85h-0.85zM290.18 127.27h0.85v0.85h-0.85zM281.98 137.67h0.85v0.85h-0.85zM282.85 136.98h0.85v0.85h-0.85zM280.4 142.02h0.85v0.85h-0.85zM300.35 115.93h0.85v0.85h-0.85zM292.58 128.03h0.85v0.85h-0.85zM300.57 116.86h0.85v0.85h-0.85zM285.16 137.37h0.85v0.85h-0.85zM282.01 138.59h0.85v0.85h-0.85zM266.36 154.67h0.85v0.85h-0.85zM299.34 119.89h0.85v0.85h-0.85zM300.14 119.46h0.85v0.85h-0.85zM289.84 130.2h0.85v0.85h-0.85zM271.81 150.24h0.85v0.85h-0.85zM300.41 120.22h0.85v0.85h-0.85zM273.71 149.71h0.85v0.85h-0.85zM295.8 128.78h0.85v0.85h-0.85zM277.9 142.53h0.85v0.85h-0.85zM275.31 141.04h0.85v0.85h-0.85zM283.19 143.72h0.85v0.85h-0.85zM295.85 123.03h0.85v0.85h-0.85zM273.77 145.14h0.85v0.85h-0.85zM288.43 130.74h0.85v0.85h-0.85zM295.97 123.88h0.85v0.85h-0.85zM301.78 120.04h0.85v0.85h-0.85zM286.19 137.77h0.85v0.85h-0.85zM278.88 145.01h0.85v0.85h-0.85zM284.93 131.21h0.85v0.85h-0.85zM272.66 149.24h0.85v0.85h-0.85zM282.38 138.28h0.85v0.85h-0.85zM281.91 138.17h0.85v0.85h-0.85zM265.19 154.16h0.85v0.85h-0.85zM293.98 121.04h0.85v0.85h-0.85zM285.95 142.07h0.85v0.85h-0.85zM279.98 146.89h0.85v0.85h-0.85zM285 141.64h0.85v0.85h-0.85zM294.32 122.25h0.85v0.85h-0.85zM297 119.17h0.85v0.85h-0.85zM281.72 137.79h0.85v0.85h-0.85zM287.84 134.51h0.85v0.85h-0.85zM270.69 152.89h0.85v0.85h-0.85zM296.82 118.74h0.85v0.85h-0.85zM292.59 118.42h0.85v0.85h-0.85zM289.61 132.15h0.85v0.85h-0.85zM292.49 121.87h0.85v0.85h-0.85zM287.4 131.21h0.85v0.85h-0.85zM286.84 139.13h0.85v0.85h-0.85zM290.2 130.8h0.85v0.85h-0.85zM295.74 119.47h0.85v0.85h-0.85zM268.79 155.19h0.85v0.85h-0.85zM280.33 136.5h0.85v0.85h-0.85zM289.25 134.42h0.85v0.85h-0.85zM285.42 142.26h0.85v0.85h-0.85zM282.45 141.37h0.85v0.85h-0.85zM270.64 150.95h0.85v0.85h-0.85zM282.65 131.67h0.85v0.85h-0.85zM271.68 151.85h0.85v0.85h-0.85zM286.08 135.32h0.85v0.85h-0.85zM284.39 132.57h0.85v0.85h-0.85zM277.78 148.94h0.85v0.85h-0.85zM285.97 136.39h0.85v0.85h-0.85zM286.05 131.56h0.85v0.85h-0.85zM270.45 153.46h0.85v0.85h-0.85zM281.36 137.76h0.85v0.85h-0.85zM293.46 128.84h0.85v0.85h-0.85zM289.14 122.91h0.85v0.85h-0.85zM288.4 124.66h0.85v0.85h-0.85zM271.4 152.3h0.85v0.85h-0.85zM301.52 118.87h0.85v0.85h-0.85zM292.51 124.15h0.85v0.85h-0.85zM280.53 141.51h0.85v0.85h-0.85zM279.86 145.72h0.85v0.85h-0.85zM294.89 130.37h0.85v0.85h-0.85zM287.03 130.16h0.85v0.85h-0.85zM299.75 123.27h0.85v0.85h-0.85zM297.89 121.99h0.85v0.85h-0.85zM274.88 150.6h0.85v0.85h-0.85zM294.82 126.67h0.85v0.85h-0.85zM290.27 128.7h0.85v0.85h-0.85zM282.24 142.73h0.85v0.85h-0.85zM289.82 124.69h0.85v0.85h-0.85zM286.3 130.75h0.85v0.85h-0.85zM293.29 122.98h0.85v0.85h-0.85zM269.33 150.07h0.85v0.85h-0.85zM279.24 148.2h0.85v0.85h-0.85zM286.36 132.25h0.85v0.85h-0.85zM271.77 151.83h0.85v0.85h-0.85zM294.32 123.89h0.85v0.85h-0.85zM291.41 129.11h0.85v0.85h-0.85zM278.44 139.41h0.85v0.85h-0.85zM282.94 132.51h0.85v0.85h-0.85zM289.39 127.47h0.85v0.85h-0.85zM278.54 141.99h0.85v0.85h-0.85zM295.22 119.86h0.85v0.85h-0.85zM293.4 123.24h0.85v0.85h-0.85zM294.74 123.07h0.85v0.85h-0.85zM292.3 130.27h0.85v0.85h-0.85zM272.56 149.51h0.85v0.85h-0.85zM298.28 123.93h0.85v0.85h-0.85zM286.06 130.12h0.85v0.85h-0.85zM296.41 119.39h0.85v0.85h-0.85zM286.69 131.99h0.85v0.85h-0.85zM280.4 142.15h0.85v0.85h-0.85zM286.04 139.38h0.85v0.85h-0.85zM281.67 143.56h0.85v0.85h-0.85zM283.17 137.81h0.85v0.85h-0.85zM274.19 151.53h0.85v0.85h-0.85zM290.61 129.57h0.85v0.85h-0.85zM283.4 135.34h0.85v0.85h-0.85zM299.97 117.92h0.85v0.85h-0.85zM298.73 114.73h0.85v0.85h-0.85zM293.04 124.88h0.85v0.85h-0.85zM296.32 120.72h0.85v0.85h-0.85zM291.96 132.93h0.85v0.85h-0.85zM281.69 142.98h0.85v0.85h-0.85zM294.03 119h0.85v0.85h-0.85zM299.19 118.54h0.85v0.85h-0.85zM294.58 126.51h0.85v0.85h-0.85zM294.99 128.36h0.85v0.85h-0.85zM280.65 143.02h0.85v0.85h-0.85zM287.28 134.92h0.85v0.85h-0.85zM279.57 143.08h0.85v0.85h-0.85zM276.81 141.95h0.85v0.85h-0.85zM281.18 142.32h0.85v0.85h-0.85zM276.92 147.21h0.85v0.85h-0.85zM271.24 150.01h0.85v0.85h-0.85zM267.55 155.62h0.85v0.85h-0.85zM285.2 140.21h0.85v0.85h-0.85zM287.63 134.01h0.85v0.85h-0.85zM269.99 153.58h0.85v0.85h-0.85zM280.39 146h0.85v0.85h-0.85zM283.59 132.16h0.85v0.85h-0.85zM300.35 119.48h0.85v0.85h-0.85zM283.87 130.28h0.85v0.85h-0.85zM270.44 153.03h0.85v0.85h-0.85zM298.66 114.98h0.85v0.85h-0.85zM280.28 142.32h0.85v0.85h-0.85zM298.1 122.3h0.85v0.85h-0.85zM277.62 145.62h0.85v0.85h-0.85zM276.06 145.66h0.85v0.85h-0.85zM277.69 146.18h0.85v0.85h-0.85zM291.08 127.75h0.85v0.85h-0.85zM273.17 147.23h0.85v0.85h-0.85zM286.42 130.89h0.85v0.85h-0.85zM290.04 125.07h0.85v0.85h-0.85zM293.65 122.83h0.85v0.85h-0.85zM290.33 131.39h0.85v0.85h-0.85zM297.91 118.62h0.85v0.85h-0.85zM291.34 125.03h0.85v0.85h-0.85zM292.08 132.09h0.85v0.85h-0.85zM278.02 141.9h0.85v0.85h-0.85zM288.71 131.07h0.85v0.85h-0.85zM277.44 146.71h0.85v0.85h-0.85zM278.94 134.43h0.85v0.85h-0.85zM286.69 133.61h0.85v0.85h-0.85zM298.52 114.87h0.85v0.85h-0.85zM291.21 126.57h0.85v0.85h-0.85zM278.62 142.9h0.85v0.85h-0.85zM273.13 150.95h0.85v0.85h-0.85zM290.76 123.45h0.85v0.85h-0.85zM280.48 138.17h0.85v0.85h-0.85zM288.55 136.64h0.85v0.85h-0.85zM291.24 130.92h0.85v0.85h-0.85zM289.83 133.5h0.85v0.85h-0.85zM273.9 144.05h0.85v0.85h-0.85zM291.4 127.53h0.85v0.85h-0.85zM291.72 123.8h0.85v0.85h-0.85zM278.62 146.2h0.85v0.85h-0.85zM284.78 134.85h0.85v0.85h-0.85zM286.47 139.18h0.85v0.85h-0.85zM299.98 115.82h0.85v0.85h-0.85zM267.62 150.31h0.85v0.85h-0.85zM284.59 136.11h0.85v0.85h-0.85zM284.79 132.78h0.85v0.85h-0.85zM275.79 138.45h0.85v0.85h-0.85zM272.24 149.86h0.85v0.85h-0.85zM296.07 117.36h0.85v0.85h-0.85zM269.95 147.35h0.85v0.85h-0.85zM276.3 146.81h0.85v0.85h-0.85zM301.93 117.73h0.85v0.85h-0.85zM280.25 143.13h0.85v0.85h-0.85zM295.82 125.01h0.85v0.85h-0.85zM297.29 119.42h0.85v0.85h-0.85zM290.3 131h0.85v0.85h-0.85zM281.52 140.33h0.85v0.85h-0.85zM287.63 134.3h0.85v0.85h-0.85zM277.45 136.8h0.85v0.85h-0.85zM291.3 132.93h0.85v0.85h-0.85zM276.57 148.21h0.85v0.85h-0.85zM281.28 138.08h0.85v0.85h-0.85zM275.49 146.94h0.85v0.85h-0.85zM286.45 128.33h0.85v0.85h-0.85zM277.11 143.78h0.85v0.85h-0.85zM287.31 133.72h0.85v0.85h-0.85zM270.85 148.35h0.85v0.85h-0.85zM292.28 125.58h0.85v0.85h-0.85zM281.66 144.99h0.85v0.85h-0.85zM283.65 136.47h0.85v0.85h-0.85zM291.46 129.43h0.85v0.85h-0.85zM290.62 134.34h0.85v0.85h-0.85zM296.4 120.1h0.85v0.85h-0.85zM274.24 147.41h0.85v0.85h-0.85zM294.83 125.63h0.85v0.85h-0.85zM295.11 120.41h0.85v0.85h-0.85zM298.08 114.08h0.85v0.85h-0.85zM277.62 144.21h0.85v0.85h-0.85zM299.71 116.6h0.85v0.85h-0.85zM292.94 127.08h0.85v0.85h-0.85zM270.51 151.95h0.85v0.85h-0.85zM268.61 151.02h0.85v0.85h-0.85zM276.76 140.86h0.85v0.85h-0.85zM298.1 121.41h0.85v0.85h-0.85zM299.02 115.76h0.85v0.85h-0.85zM293.91 124.15h0.85v0.85h-0.85zM288.87 127.09h0.85v0.85h-0.85zM276.05 147.33h0.85v0.85h-0.85zM282.58 139.25h0.85v0.85h-0.85zM300.15 115.87h0.85v0.85h-0.85zM278.51 143.64h0.85v0.85h-0.85zM285.47 137.69h0.85v0.85h-0.85zM290.35 128.44h0.85v0.85h-0.85zM274.43 151.56h0.85v0.85h-0.85zM280.31 142.83h0.85v0.85h-0.85zM270.9 144.6h0.85v0.85h-0.85zM293.01 127.42h0.85v0.85h-0.85zM277.18 145.48h0.85v0.85h-0.85zM269.7 153.2h0.85v0.85h-0.85zM286.97 134.31h0.85v0.85h-0.85zM277.2 139.68h0.85v0.85h-0.85zM289.65 130.03h0.85v0.85h-0.85zM289.49 136.99h0.85v0.85h-0.85zM300.66 116.79h0.85v0.85h-0.85zM297 121.11h0.85v0.85h-0.85zM281.91 146.03h0.85v0.85h-0.85zM280.36 138.35h0.85v0.85h-0.85zM281.94 141.7h0.85v0.85h-0.85zM277.16 136.58h0.85v0.85h-0.85zM287.09 131.08h0.85v0.85h-0.85zM289.21 132.44h0.85v0.85h-0.85zM281.19 141.7h0.85v0.85h-0.85zM271.33 151.34h0.85v0.85h-0.85zM295.01 121.66h0.85v0.85h-0.85zM292.3 129.31h0.85v0.85h-0.85zM283.96 132.58h0.85v0.85h-0.85zM279.28 144.27h0.85v0.85h-0.85zM292.75 126.27h0.85v0.85h-0.85zM298.12 123.27h0.85v0.85h-0.85zM300.55 115.9h0.85v0.85h-0.85zM284.18 143.78h0.85v0.85h-0.85zM293.39 128.95h0.85v0.85h-0.85zM287.11 130.77h0.85v0.85h-0.85zM291.73 130h0.85v0.85h-0.85zM283.8 132.85h0.85v0.85h-0.85zM298.51 119.98h0.85v0.85h-0.85zM284.75 138.07h0.85v0.85h-0.85zM287 139.52h0.85v0.85h-0.85zM272.67 145.52h0.85v0.85h-0.85zM282.24 132.62h0.85v0.85h-0.85zM289.65 138.41h0.85v0.85h-0.85zM277.82 148.18h0.85v0.85h-0.85zM273.62 149.39h0.85v0.85h-0.85zM291.36 132.11h0.85v0.85h-0.85zM292.74 121h0.85v0.85h-0.85zM279.27 140h0.85v0.85h-0.85zM274.38 151.15h0.85v0.85h-0.85zM279.54 141.8h0.85v0.85h-0.85zM296.27 125.17h0.85v0.85h-0.85zM278.27 138.33h0.85v0.85h-0.85zM283.59 138.78h0.85v0.85h-0.85zM283.33 136.7h0.85v0.85h-0.85zM292.18 130.14h0.85v0.85h-0.85zM274.62 145.89h0.85v0.85h-0.85zM282.34 142.95h0.85v0.85h-0.85zM267.68 155.03h0.85v0.85h-0.85zM276.66 149.78h0.85v0.85h-0.85zM275.53 150.4h0.85v0.85h-0.85zM292.11 127.61h0.85v0.85h-0.85zM274.82 145.77h0.85v0.85h-0.85zM293.58 121.18h0.85v0.85h-0.85zM295.04 120.65h0.85v0.85h-0.85zM287.15 130.47h0.85v0.85h-0.85zM278.65 140.17h0.85v0.85h-0.85zM280.28 141.66h0.85v0.85h-0.85zM292.2 128.05h0.85v0.85h-0.85zM287.83 129h0.85v0.85h-0.85zM295.69 124.25h0.85v0.85h-0.85zM285.95 132.12h0.85v0.85h-0.85zM296.91 117.76h0.85v0.85h-0.85zM287.23 124.42h0.85v0.85h-0.85zM282.22 142.75h0.85v0.85h-0.85zM294.55 126.97h0.85v0.85h-0.85zM283.18 135.41h0.85v0.85h-0.85zM297.53 119.73h0.85v0.85h-0.85zM288.43 133.04h0.85v0.85h-0.85zM288.06 141.22h0.85v0.85h-0.85zM281.43 139.41h0.85v0.85h-0.85zM282.46 136.36h0.85v0.85h-0.85zM286.31 138.06h0.85v0.85h-0.85zM284.03 135.04h0.85v0.85h-0.85zM294.86 128.2h0.85v0.85h-0.85zM278.66 138.23h0.85v0.85h-0.85zM285.99 133.76h0.85v0.85h-0.85zM293.34 125.21h0.85v0.85h-0.85zM277.75 149.3h0.85v0.85h-0.85zM293.48 126.35h0.85v0.85h-0.85zM290.95 129.18h0.85v0.85h-0.85zM292.24 128.18h0.85v0.85h-0.85zM290.96 128.53h0.85v0.85h-0.85zM297.78 125.4h0.85v0.85h-0.85zM295.8 120.37h0.85v0.85h-0.85zM284.15 134.72h0.85v0.85h-0.85zM267.38 155.57h0.85v0.85h-0.85zM277.88 146.69h0.85v0.85h-0.85zM279.46 144.57h0.85v0.85h-0.85zM282.76 131.26h0.85v0.85h-0.85zM286.05 136.59h0.85v0.85h-0.85zM278.65 144.53h0.85v0.85h-0.85zM295.51 120.49h0.85v0.85h-0.85zM272.73 146.8h0.85v0.85h-0.85zM280.24 141.2h0.85v0.85h-0.85zM286.92 140.26h0.85v0.85h-0.85zM280.72 142.08h0.85v0.85h-0.85zM293.32 123.11h0.85v0.85h-0.85zM282.45 131h0.85v0.85h-0.85zM279.66 138.49h0.85v0.85h-0.85zM287.84 134.41h0.85v0.85h-0.85zM293.11 123.3h0.85v0.85h-0.85zM279.75 146.17h0.85v0.85h-0.85zM291.43 135.3h0.85v0.85h-0.85zM281.47 136.87h0.85v0.85h-0.85zM297.47 121.2h0.85v0.85h-0.85zM269.42 154.29h0.85v0.85h-0.85zM294.49 120.01h0.85v0.85h-0.85zM273.59 148.86h0.85v0.85h-0.85zM300.56 120.61h0.85v0.85h-0.85zM286.49 137.74h0.85v0.85h-0.85zM291.19 129.82h0.85v0.85h-0.85zM293.45 120.82h0.85v0.85h-0.85zM271.3 145.43h0.85v0.85h-0.85zM268.61 150.33h0.85v0.85h-0.85zM297.72 116.66h0.85v0.85h-0.85zM283.42 140.89h0.85v0.85h-0.85zM298.62 120.25h0.85v0.85h-0.85zM290.51 128.53h0.85v0.85h-0.85zM290.65 128h0.85v0.85h-0.85zM269.63 154.91h0.85v0.85h-0.85zM288.72 133.95h0.85v0.85h-0.85zM271.17 148.77h0.85v0.85h-0.85zM299.11 120.22h0.85v0.85h-0.85zM269.59 147.74h0.85v0.85h-0.85zM292.76 122.83h0.85v0.85h-0.85zM282.44 142.43h0.85v0.85h-0.85zM287.66 135.52h0.85v0.85h-0.85zM282.11 138.95h0.85v0.85h-0.85zM288.04 127.16h0.85v0.85h-0.85zM269.92 149.91h0.85v0.85h-0.85zM294.86 116.34h0.85v0.85h-0.85zM286.04 135.58h0.85v0.85h-0.85zM282.06 134.58h0.85v0.85h-0.85zM297.07 117.55h0.85v0.85h-0.85zM295.42 120.6h0.85v0.85h-0.85zM288.96 133.1h0.85v0.85h-0.85zM274.15 143.37h0.85v0.85h-0.85zM296.39 117.38h0.85v0.85h-0.85zM299.22 116.7h0.85v0.85h-0.85zM276.95 140.68h0.85v0.85h-0.85zM281.68 144.9h0.85v0.85h-0.85zM292.21 126.12h0.85v0.85h-0.85zM274.61 149.69h0.85v0.85h-0.85zM284.79 132.53h0.85v0.85h-0.85zM292.84 123.63h0.85v0.85h-0.85zM288.57 132.96h0.85v0.85h-0.85zM285.38 135.94h0.85v0.85h-0.85zM288.37 133.96h0.85v0.85h-0.85zM283.04 144.63h0.85v0.85h-0.85zM271.82 148.61h0.85v0.85h-0.85zM272.58 148.79h0.85v0.85h-0.85zM296.21 122.59h0.85v0.85h-0.85zM297.53 121.54h0.85v0.85h-0.85zM295.55 119.72h0.85v0.85h-0.85zM284.57 133.88h0.85v0.85h-0.85zM285.95 134.92h0.85v0.85h-0.85zM286.26 137.02h0.85v0.85h-0.85zM280.97 139.8h0.85v0.85h-0.85zM274.53 148.04h0.85v0.85h-0.85zM295.82 120.4h0.85v0.85h-0.85zM284.87 136.31h0.85v0.85h-0.85zM299 118.09h0.85v0.85h-0.85zM284.02 136.56h0.85v0.85h-0.85zM293.25 130.36h0.85v0.85h-0.85zM276.71 147.97h0.85v0.85h-0.85zM279.27 147.6h0.85v0.85h-0.85zM276.76 143.95h0.85v0.85h-0.85zM295.53 118.96h0.85v0.85h-0.85zM275.12 146.49h0.85v0.85h-0.85zM287.39 132.11h0.85v0.85h-0.85zM290.04 132.58h0.85v0.85h-0.85zM298.26 126.16h0.85v0.85h-0.85zM268.33 155.96h0.85v0.85h-0.85zM299.96 119h0.85v0.85h-0.85zM270.79 152.77h0.85v0.85h-0.85zM277.59 147.61h0.85v0.85h-0.85zM279.25 142.38h0.85v0.85h-0.85zM275.06 147.38h0.85v0.85h-0.85zM271.55 137.56h0.85v0.85h-0.85zM294.99 124.98h0.85v0.85h-0.85zM288.27 140.26h0.85v0.85h-0.85zM297.71 119.43h0.85v0.85h-0.85zM293.64 126.59h0.85v0.85h-0.85zM289.95 132.06h0.85v0.85h-0.85zM295.66 121.96h0.85v0.85h-0.85zM292.6 128.03h0.85v0.85h-0.85zM277.14 140.51h0.85v0.85h-0.85zM286.35 126.32h0.85v0.85h-0.85zM290.57 124.7h0.85v0.85h-0.85zM296.69 116.79h0.85v0.85h-0.85zM297.74 119.66h0.85v0.85h-0.85zM297.55 126.18h0.85v0.85h-0.85zM291.33 135.33h0.85v0.85h-0.85zM292.69 123.75h0.85v0.85h-0.85zM297.76 121.89h0.85v0.85h-0.85zM280.99 131.51h0.85v0.85h-0.85zM296.21 115.87h0.85v0.85h-0.85zM291.12 122.39h0.85v0.85h-0.85zM276.42 146.29h0.85v0.85h-0.85zM283.58 138.21h0.85v0.85h-0.85zM296.07 118.22h0.85v0.85h-0.85zM291.3 129.15h0.85v0.85h-0.85zM295.51 125.86h0.85v0.85h-0.85zM295.81 125.45h0.85v0.85h-0.85zM298.65 125.47h0.85v0.85h-0.85zM279.32 138.42h0.85v0.85h-0.85zM294.34 121.6h0.85v0.85h-0.85zM295.94 125.59h0.85v0.85h-0.85zM296.7 124.89h0.85v0.85h-0.85zM282.3 137.29h0.85v0.85h-0.85zM279.48 143.13h0.85v0.85h-0.85zM294.36 121.08h0.85v0.85h-0.85zM289.02 131.75h0.85v0.85h-0.85zM276.95 145.44h0.85v0.85h-0.85zM293.82 129.98h0.85v0.85h-0.85zM293.77 123.07h0.85v0.85h-0.85zM295.53 123.35h0.85v0.85h-0.85zM274.88 137.98h0.85v0.85h-0.85zM273.77 146.13h0.85v0.85h-0.85zM298.6 121.01h0.85v0.85h-0.85zM285.3 136.31h0.85v0.85h-0.85z" fill="#00f000"/>
<polygon points="262.5,161.7 275,152.9 290,142.4 305,131.6 318,123.2 319,123.8 314,129.8 308.6,136.6 302.8,145.2 295.6,154 289.8,161.2 284.7,168.3 284,169 262.5,169" fill="#ff0000" stroke="none" stroke-width="1"/>
<path d="M285.01 168.08h0.85v0.85h-0.85zM314.77 132.1h0.85v0.85h-0.85zM300.84 147.38h0.85v0.85h-0.85zM285.69 165.49h0.85v0.85h-0.85zM302.93 143.82h0.85v0.85h-0.85zM306.97 139.65h0.85v0.85h-0.85zM317.04 129.49h0.85v0.85h-0.85zM301.33 146.81h0.85v0.85h-0.85zM307.56 141.84h0.85v0.85h-0.85zM296.39 153.88h0.85v0.85h-0.85zM316.58 127.35h0.85v0.85h-0.85zM286.15 166.76h0.85v0.85h-0.85zM306.69 140.11h0.85v0.85h-0.85zM306.74 141.15h0.85v0.85h-0.85zM301.43 147.48h0.85v0.85h-0.85zM303.42 147.31h0.85v0.85h-0.85zM306.14 139.82h0.85v0.85h-0.85zM289.55 160.61h0.85v0.85h-0.85zM295.92 154.74h0.85v0.85h-0.85zM292.83 157.18h0.85v0.85h-0.85zM287.81 163.28h0.85v0.85h-0.85zM319.04 126.33h0.85v0.85h-0.85zM308.98 139.26h0.85v0.85h-0.85zM289.76 164.81h0.85v0.85h-0.85zM314.63 130.73h0.85v0.85h-0.85zM317.49 125.96h0.85v0.85h-0.85zM304.78 140.8h0.85v0.85h-0.85zM310.3 137.12h0.85v0.85h-0.85zM292.36 157.63h0.85v0.85h-0.85zM305.21 143.17h0.85v0.85h-0.85zM285.82 167.96h0.85v0.85h-0.85zM296.68 154.82h0.85v0.85h-0.85zM306.98 141.66h0.85v0.85h-0.85zM294.88 154.46h0.85v0.85h-0.85zM309.53 136.28h0.85v0.85h-0.85zM291.12 161.19h0.85v0.85h-0.85zM291.28 159.02h0.85v0.85h-0.85zM301.02 146.73h0.85v0.85h-0.85zM289.04 163.26h0.85v0.85h-0.85zM314.05 132.16h0.85v0.85h-0.85zM308.47 137.92h0.85v0.85h-0.85zM305.4 140.62h0.85v0.85h-0.85zM285.67 167.05h0.85v0.85h-0.85zM307.79 137.22h0.85v0.85h-0.85zM286.07 165.7h0.85v0.85h-0.85zM304.15 143.6h0.85v0.85h-0.85zM314.62 128.16h0.85v0.85h-0.85zM306.17 141.4h0.85v0.85h-0.85zM285.13 166.39h0.85v0.85h-0.85zM287.73 164.49h0.85v0.85h-0.85zM303.63 144.05h0.85v0.85h-0.85zM292.87 159.17h0.85v0.85h-0.85zM308.58 138.21h0.85v0.85h-0.85zM303.7 145.53h0.85v0.85h-0.85zM299.96 148.96h0.85v0.85h-0.85zM310.53 136.91h0.85v0.85h-0.85zM307.04 140.44h0.85v0.85h-0.85zM309.06 136.7h0.85v0.85h-0.85zM296.67 151.52h0.85v0.85h-0.85zM318.9 126.67h0.85v0.85h-0.85zM290.78 160.98h0.85v0.85h-0.85zM286.31 165.61h0.85v0.85h-0.85zM309.15 135.13h0.85v0.85h-0.85zM299.81 148.12h0.85v0.85h-0.85zM292.82 157.36h0.85v0.85h-0.85zM291.52 160.21h0.85v0.85h-0.85zM315.05 128.69h0.85v0.85h-0.85zM286.52 167.72h0.85v0.85h-0.85zM297.15 152.15h0.85v0.85h-0.85zM306.59 142.36h0.85v0.85h-0.85zM285.9 165.32h0.85v0.85h-0.85zM305.83 141.64h0.85v0.85h-0.85zM290.94 159.61h0.85v0.85h-0.85zM288.83 162.69h0.85v0.85h-0.85zM301.69 148.37h0.85v0.85h-0.85zM287.42 163.73h0.85v0.85h-0.85zM313.91 129.4h0.85v0.85h-0.85zM304.4 142.01h0.85v0.85h-0.85zM302.02 146.51h0.85v0.85h-0.85zM299.77 150.17h0.85v0.85h-0.85zM305.21 141.95h0.85v0.85h-0.85zM289.57 161.34h0.85v0.85h-0.85zM291.44 158.77h0.85v0.85h-0.85zM295.7 153.71h0.85v0.85h-0.85zM294.81 158.92h0.85v0.85h-0.85zM287.29 163.43h0.85v0.85h-0.85zM293.39 157.03h0.85v0.85h-0.85zM289.52 163.72h0.85v0.85h-0.85zM314.29 129.52h0.85v0.85h-0.85zM298.94 151.99h0.85v0.85h-0.85zM310.27 136.68h0.85v0.85h-0.85zM290.51 160.61h0.85v0.85h-0.85zM309.06 135.6h0.85v0.85h-0.85zM315.87 128.08h0.85v0.85h-0.85zM297.08 155.1h0.85v0.85h-0.85zM306.21 139.59h0.85v0.85h-0.85zM296.2 156.09h0.85v0.85h-0.85zM308.06 138.55h0.85v0.85h-0.85zM318.62 123.75h0.85v0.85h-0.85zM309.27 135.91h0.85v0.85h-0.85zM317.67 126.99h0.85v0.85h-0.85zM290.94 159.73h0.85v0.85h-0.85zM317.19 125.23h0.85v0.85h-0.85zM311.05 133.68h0.85v0.85h-0.85zM297.14 151.83h0.85v0.85h-0.85zM299.57 149.35h0.85v0.85h-0.85zM310.99 133.16h0.85v0.85h-0.85zM290.11 161.38h0.85v0.85h-0.85zM290.67 159.62h0.85v0.85h-0.85zM291.51 158.08h0.85v0.85h-0.85zM318.56 125.48h0.85v0.85h-0.85zM316.15 126.1h0.85v0.85h-0.85zM296.8 151.61h0.85v0.85h-0.85zM306.04 142.34h0.85v0.85h-0.85zM301.34 146.7h0.85v0.85h-0.85zM288.8 162.38h0.85v0.85h-0.85zM284.95 168.54h0.85v0.85h-0.85zM309.78 140.18h0.85v0.85h-0.85zM285.48 168.28h0.85v0.85h-0.85zM314.26 129.68h0.85v0.85h-0.85zM303.39 144.13h0.85v0.85h-0.85zM304.3 144.89h0.85v0.85h-0.85zM306.94 138.87h0.85v0.85h-0.85zM309.66 136.75h0.85v0.85h-0.85zM311.71 132.03h0.85v0.85h-0.85zM304.58 143.96h0.85v0.85h-0.85zM311.69 132.26h0.85v0.85h-0.85zM309.88 135.7h0.85v0.85h-0.85zM299.92 149.04h0.85v0.85h-0.85zM295.54 159.02h0.85v0.85h-0.85zM287.24 166.93h0.85v0.85h-0.85zM294.38 156.12h0.85v0.85h-0.85zM316.18 126.09h0.85v0.85h-0.85zM288.68 161.99h0.85v0.85h-0.85zM294.01 156.01h0.85v0.85h-0.85zM306.71 139.66h0.85v0.85h-0.85zM315.11 132.47h0.85v0.85h-0.85zM310.45 139.01h0.85v0.85h-0.85zM317.27 125.62h0.85v0.85h-0.85zM288.26 164.2h0.85v0.85h-0.85zM291.06 159.62h0.85v0.85h-0.85zM314.76 128.14h0.85v0.85h-0.85zM313.21 130.31h0.85v0.85h-0.85zM285.43 168.55h0.85v0.85h-0.85zM287.21 164.29h0.85v0.85h-0.85zM291.23 160.99h0.85v0.85h-0.85zM315.05 129.9h0.85v0.85h-0.85zM301.73 146.7h0.85v0.85h-0.85zM311.07 132.61h0.85v0.85h-0.85zM287.18 164.07h0.85v0.85h-0.85zM296.92 157.42h0.85v0.85h-0.85zM304.34 143.64h0.85v0.85h-0.85zM294.64 157.24h0.85v0.85h-0.85zM290.7 161.97h0.85v0.85h-0.85zM314.49 129.87h0.85v0.85h-0.85zM298.16 149.47h0.85v0.85h-0.85zM307.45 141.91h0.85v0.85h-0.85zM291.3 158.49h0.85v0.85h-0.85zM304.69 145.83h0.85v0.85h-0.85zM300.53 147.64h0.85v0.85h-0.85zM316.58 126.99h0.85v0.85h-0.85zM289.23 163.97h0.85v0.85h-0.85zM302.09 145.31h0.85v0.85h-0.85zM310.51 134.61h0.85v0.85h-0.85zM287.45 164.06h0.85v0.85h-0.85zM298.26 149.97h0.85v0.85h-0.85zM314.34 129.21h0.85v0.85h-0.85zM299.33 150.39h0.85v0.85h-0.85zM296.67 151.96h0.85v0.85h-0.85zM317.19 127.22h0.85v0.85h-0.85zM294.56 156.61h0.85v0.85h-0.85zM304.92 141.48h0.85v0.85h-0.85zM295.27 153.48h0.85v0.85h-0.85zM296.74 152.95h0.85v0.85h-0.85zM295.06 154.68h0.85v0.85h-0.85zM287.04 163.97h0.85v0.85h-0.85zM298.43 150.65h0.85v0.85h-0.85zM284.58 167.62h0.85v0.85h-0.85zM312.03 134.73h0.85v0.85h-0.85zM291.18 161.09h0.85v0.85h-0.85zM296.44 151.6h0.85v0.85h-0.85zM315.38 127.7h0.85v0.85h-0.85zM284.72 166.97h0.85v0.85h-0.85zM316.92 125.67h0.85v0.85h-0.85zM310.75 134.58h0.85v0.85h-0.85zM295.46 153.56h0.85v0.85h-0.85zM287.91 166.16h0.85v0.85h-0.85zM311.25 136.58h0.85v0.85h-0.85zM314.98 131.64h0.85v0.85h-0.85zM314.93 128.07h0.85v0.85h-0.85zM284.9 166.9h0.85v0.85h-0.85zM291.18 159.9h0.85v0.85h-0.85zM313.23 130.96h0.85v0.85h-0.85zM291.18 158.46h0.85v0.85h-0.85zM287.66 163.07h0.85v0.85h-0.85zM288.95 161.34h0.85v0.85h-0.85zM299.72 148.57h0.85v0.85h-0.85zM298.17 151.93h0.85v0.85h-0.85zM297.92 149.94h0.85v0.85h-0.85zM316.87 126.03h0.85v0.85h-0.85zM299.77 147.87h0.85v0.85h-0.85zM319.18 124.48h0.85v0.85h-0.85zM294.79 158.26h0.85v0.85h-0.85zM290.63 159.79h0.85v0.85h-0.85zM303.73 144.68h0.85v0.85h-0.85zM312.34 133.43h0.85v0.85h-0.85zM305.99 144.36h0.85v0.85h-0.85zM301.53 149.27h0.85v0.85h-0.85zM307.72 140.24h0.85v0.85h-0.85zM290.04 162.06h0.85v0.85h-0.85zM289.93 161.88h0.85v0.85h-0.85zM308.52 137.3h0.85v0.85h-0.85zM292.96 158.08h0.85v0.85h-0.85zM285.83 167.99h0.85v0.85h-0.85zM292.23 157.98h0.85v0.85h-0.85zM314.39 128.35h0.85v0.85h-0.85zM295.57 155.11h0.85v0.85h-0.85zM303.41 144.26h0.85v0.85h-0.85zM305.55 142.48h0.85v0.85h-0.85zM287.77 165.06h0.85v0.85h-0.85zM293.77 156.59h0.85v0.85h-0.85zM291.92 162.61h0.85v0.85h-0.85zM295.32 156.64h0.85v0.85h-0.85zM289.31 161.51h0.85v0.85h-0.85zM303.96 142.92h0.85v0.85h-0.85zM286.28 165.79h0.85v0.85h-0.85zM303.29 143.18h0.85v0.85h-0.85zM308.79 137.36h0.85v0.85h-0.85zM306.5 139.01h0.85v0.85h-0.85zM303.48 143.41h0.85v0.85h-0.85zM286.01 168.3h0.85v0.85h-0.85zM294.26 159.08h0.85v0.85h-0.85zM291.4 162.19h0.85v0.85h-0.85zM308.9 135.56h0.85v0.85h-0.85zM309.88 134.57h0.85v0.85h-0.85zM310.45 133.66h0.85v0.85h-0.85zM288.64 163.59h0.85v0.85h-0.85zM292.21 158.08h0.85v0.85h-0.85zM293.18 159.15h0.85v0.85h-0.85zM301.28 148.07h0.85v0.85h-0.85zM315.14 128.3h0.85v0.85h-0.85zM297.57 151.98h0.85v0.85h-0.85zM308.62 141.98h0.85v0.85h-0.85zM313.44 131h0.85v0.85h-0.85zM300.84 147.65h0.85v0.85h-0.85zM287.12 166.1h0.85v0.85h-0.85zM305.79 142.67h0.85v0.85h-0.85zM285.85 167.22h0.85v0.85h-0.85zM315.42 127.43h0.85v0.85h-0.85zM287.96 164.51h0.85v0.85h-0.85zM317.94 123.95h0.85v0.85h-0.85zM286.02 168.94h0.85v0.85h-0.85zM313.88 132.42h0.85v0.85h-0.85zM295.15 154.65h0.85v0.85h-0.85zM292.57 156.61h0.85v0.85h-0.85zM310.31 135.44h0.85v0.85h-0.85zM317.63 124.71h0.85v0.85h-0.85zM310.09 135.44h0.85v0.85h-0.85zM286.01 167.12h0.85v0.85h-0.85zM296.9 153.54h0.85v0.85h-0.85zM298 150.24h0.85v0.85h-0.85zM317.03 126.84h0.85v0.85h-0.85zM317.1 127.11h0.85v0.85h-0.85zM313.48 129.69h0.85v0.85h-0.85zM317.53 130.72h0.85v0.85h-0.85zM294.69 154.08h0.85v0.85h-0.85zM308.94 135.54h0.85v0.85h-0.85zM315.57 128.29h0.85v0.85h-0.85zM309.36 137.98h0.85v0.85h-0.85zM303.92 143.9h0.85v0.85h-0.85zM295.44 157.57h0.85v0.85h-0.85zM308.02 139.75h0.85v0.85h-0.85zM291.76 162.14h0.85v0.85h-0.85zM310.91 133.69h0.85v0.85h-0.85zM289.37 161.91h0.85v0.85h-0.85zM310.38 136.95h0.85v0.85h-0.85zM318.9 124.42h0.85v0.85h-0.85zM315.23 132.16h0.85v0.85h-0.85zM297.04 153.87h0.85v0.85h-0.85zM312.96 132.02h0.85v0.85h-0.85zM316.1 131.81h0.85v0.85h-0.85zM307.01 141.87h0.85v0.85h-0.85zM296.55 152.99h0.85v0.85h-0.85zM316.41 126.42h0.85v0.85h-0.85zM318.15 124.2h0.85v0.85h-0.85zM285.56 166.69h0.85v0.85h-0.85zM305.85 139.59h0.85v0.85h-0.85zM291.74 158.97h0.85v0.85h-0.85zM310.57 135.24h0.85v0.85h-0.85zM315.52 129.06h0.85v0.85h-0.85zM310 134.56h0.85v0.85h-0.85zM306.08 140.99h0.85v0.85h-0.85zM292.03 157.53h0.85v0.85h-0.85zM311.5 133.63h0.85v0.85h-0.85zM306.16 141.29h0.85v0.85h-0.85zM303.28 145.32h0.85v0.85h-0.85zM289.95 163.41h0.85v0.85h-0.85zM289.98 161.06h0.85v0.85h-0.85zM311.44 134.71h0.85v0.85h-0.85zM314.53 128.61h0.85v0.85h-0.85zM302.55 143.91h0.85v0.85h-0.85zM314.74 128.91h0.85v0.85h-0.85zM302.14 144.99h0.85v0.85h-0.85zM303.86 143.52h0.85v0.85h-0.85zM315.23 129.33h0.85v0.85h-0.85zM302.57 144.58h0.85v0.85h-0.85zM286.41 165.45h0.85v0.85h-0.85zM310.77 133.31h0.85v0.85h-0.85zM294.83 158.23h0.85v0.85h-0.85zM286.01 166.98h0.85v0.85h-0.85zM290.88 163.29h0.85v0.85h-0.85zM302 148.11h0.85v0.85h-0.85zM311.15 134.84h0.85v0.85h-0.85zM313.05 134.35h0.85v0.85h-0.85zM315.68 127.16h0.85v0.85h-0.85zM305.07 145.93h0.85v0.85h-0.85zM294.22 156.84h0.85v0.85h-0.85zM307.91 137.91h0.85v0.85h-0.85zM311.79 132.88h0.85v0.85h-0.85zM315.12 129.34h0.85v0.85h-0.85zM285.08 167.82h0.85v0.85h-0.85zM318 123.8h0.85v0.85h-0.85zM296.02 152.64h0.85v0.85h-0.85zM302.09 144.29h0.85v0.85h-0.85zM293.59 157h0.85v0.85h-0.85zM301.27 145.71h0.85v0.85h-0.85zM297.8 150.59h0.85v0.85h-0.85zM291.1 159.59h0.85v0.85h-0.85zM285.81 165.63h0.85v0.85h-0.85zM307.94 141.49h0.85v0.85h-0.85zM287.5 163.88h0.85v0.85h-0.85zM298.43 150.58h0.85v0.85h-0.85zM287.91 164.11h0.85v0.85h-0.85zM317.46 125.17h0.85v0.85h-0.85zM303.63 143.25h0.85v0.85h-0.85zM293.05 157.19h0.85v0.85h-0.85zM299.28 150.19h0.85v0.85h-0.85zM295.31 153.95h0.85v0.85h-0.85zM318.67 124.45h0.85v0.85h-0.85zM302.1 144.79h0.85v0.85h-0.85zM301.95 147.13h0.85v0.85h-0.85zM284.51 167.93h0.85v0.85h-0.85zM297.33 151.38h0.85v0.85h-0.85zM313.52 133.97h0.85v0.85h-0.85zM284.62 168.56h0.85v0.85h-0.85zM285.35 166.39h0.85v0.85h-0.85zM308.09 138.33h0.85v0.85h-0.85zM295.82 153.6h0.85v0.85h-0.85zM317.99 124.66h0.85v0.85h-0.85zM290.22 160.65h0.85v0.85h-0.85zM319 123.81h0.85v0.85h-0.85zM303.19 143.99h0.85v0.85h-0.85zM299.06 148.48h0.85v0.85h-0.85zM310.62 134.48h0.85v0.85h-0.85zM314.78 129.14h0.85v0.85h-0.85zM313.73 129.51h0.85v0.85h-0.85zM302.43 148.26h0.85v0.85h-0.85zM317.54 126.73h0.85v0.85h-0.85zM310.98 134.33h0.85v0.85h-0.85zM304.05 144.53h0.85v0.85h-0.85zM305.52 142.56h0.85v0.85h-0.85zM289.74 162.57h0.85v0.85h-0.85zM285.61 166.28h0.85v0.85h-0.85zM307.03 143.65h0.85v0.85h-0.85zM316.99 125.93h0.85v0.85h-0.85zM317.97 124.25h0.85v0.85h-0.85zM309.05 136.78h0.85v0.85h-0.85zM291.26 164.48h0.85v0.85h-0.85zM306.06 143.78h0.85v0.85h-0.85zM290.87 159.65h0.85v0.85h-0.85zM296.33 152.91h0.85v0.85h-0.85zM309.93 134.18h0.85v0.85h-0.85zM297.41 154.08h0.85v0.85h-0.85zM288.38 164.28h0.85v0.85h-0.85zM285.25 166.4h0.85v0.85h-0.85zM287.76 163.71h0.85v0.85h-0.85zM299.37 149.33h0.85v0.85h-0.85zM311.12 135.96h0.85v0.85h-0.85zM311.09 134.57h0.85v0.85h-0.85zM295.99 154.36h0.85v0.85h-0.85zM315.85 126.6h0.85v0.85h-0.85zM303.67 145.61h0.85v0.85h-0.85zM295.15 153.33h0.85v0.85h-0.85zM302.05 144.62h0.85v0.85h-0.85zM295.33 153.89h0.85v0.85h-0.85zM313.73 132.59h0.85v0.85h-0.85zM285.41 166.24h0.85v0.85h-0.85zM304.27 143.15h0.85v0.85h-0.85zM285.56 166.32h0.85v0.85h-0.85zM286.29 167.14h0.85v0.85h-0.85zM287.45 163.65h0.85v0.85h-0.85zM307.8 140.81h0.85v0.85h-0.85zM295.47 152.95h0.85v0.85h-0.85zM311.23 133.68h0.85v0.85h-0.85zM310.9 132.88h0.85v0.85h-0.85zM313.91 129.57h0.85v0.85h-0.85zM304.7 141.73h0.85v0.85h-0.85zM298.42 149.46h0.85v0.85h-0.85zM286.76 166.14h0.85v0.85h-0.85zM294.5 155.14h0.85v0.85h-0.85zM303.82 143.27h0.85v0.85h-0.85zM318.89 124.97h0.85v0.85h-0.85zM295.57 153.93h0.85v0.85h-0.85zM286.05 167.02h0.85v0.85h-0.85zM292.71 158.2h0.85v0.85h-0.85zM297.86 152.74h0.85v0.85h-0.85zM294.74 155.35h0.85v0.85h-0.85zM292.02 157.63h0.85v0.85h-0.85zM307.99 136.76h0.85v0.85h-0.85zM299.75 151.82h0.85v0.85h-0.85zM290.09 162.09h0.85v0.85h-0.85zM312.56 132.98h0.85v0.85h-0.85zM319.63 125.36h0.85v0.85h-0.85zM309.3 135.75h0.85v0.85h-0.85zM316.6 126.95h0.85v0.85h-0.85zM294.3 154.37h0.85v0.85h-0.85zM318.27 123.52h0.85v0.85h-0.85zM294.68 155.75h0.85v0.85h-0.85zM284.81 167.83h0.85v0.85h-0.85zM286.11 165.08h0.85v0.85h-0.85zM306.71 141.51h0.85v0.85h-0.85zM314.21 131.9h0.85v0.85h-0.85zM317.91 127.8h0.85v0.85h-0.85zM318.14 125.89h0.85v0.85h-0.85zM321.31 121.35h0.85v0.85h-0.85zM320.34 121.87h0.85v0.85h-0.85zM311.74 133.53h0.85v0.85h-0.85zM309.92 137.84h0.85v0.85h-0.85zM310.74 136.32h0.85v0.85h-0.85zM319.99 124.88h0.85v0.85h-0.85zM306.94 140.3h0.85v0.85h-0.85zM319.02 123.01h0.85v0.85h-0.85zM312.31 136.25h0.85v0.85h-0.85zM319.47 125.88h0.85v0.85h-0.85zM308.77 137.19h0.85v0.85h-0.85zM312.64 132.91h0.85v0.85h-0.85zM319.05 124.29h0.85v0.85h-0.85zM311.71 139.13h0.85v0.85h-0.85zM319.76 126.15h0.85v0.85h-0.85zM313.68 132.96h0.85v0.85h-0.85zM319.89 123.11h0.85v0.85h-0.85zM321.75 123.45h0.85v0.85h-0.85zM311.21 133.47h0.85v0.85h-0.85zM315.87 129.79h0.85v0.85h-0.85zM312.81 131.25h0.85v0.85h-0.85zM310.12 135.73h0.85v0.85h-0.85zM318.38 124.8h0.85v0.85h-0.85zM312.67 136.47h0.85v0.85h-0.85zM312.42 133.71h0.85v0.85h-0.85zM316.99 126.82h0.85v0.85h-0.85zM310.74 134.1h0.85v0.85h-0.85zM318.69 125.2h0.85v0.85h-0.85zM310.24 137.4h0.85v0.85h-0.85zM308.43 142.38h0.85v0.85h-0.85zM309.13 137.36h0.85v0.85h-0.85zM311.17 136.39h0.85v0.85h-0.85zM320.98 121.13h0.85v0.85h-0.85zM320.97 120.9h0.85v0.85h-0.85zM315.45 132.52h0.85v0.85h-0.85zM310.59 141.21h0.85v0.85h-0.85z" fill="#ff0000"/>
<path d="M270.96 163.19h0.7v0.7h-0.7zM266.17 165.04h0.7v0.7h-0.7zM271.8 164.18h0.7v0.7h-0.7zM274.53 165.18h0.7v0.7h-0.7zM275.36 162.64h0.7v0.7h-0.7zM265.48 164.32h0.7v0.7h-0.7zM271.27 163.52h0.7v0.7h-0.7zM273.86 163.33h0.7v0.7h-0.7zM268.96 164.86h0.7v0.7h-0.7zM274.47 166.62h0.7v0.7h-0.7zM269.7 164.68h0.7v0.7h-0.7zM277.49 167.6h0.7v0.7h-0.7zM273.16 162.63h0.7v0.7h-0.7zM270.88 165.82h0.7v0.7h-0.7zM268.4 162.22h0.7v0.7h-0.7zM278.24 167.46h0.7v0.7h-0.7zM266.31 164.8h0.7v0.7h-0.7zM273.17 163.8h0.7v0.7h-0.7zM265.46 166.5h0.7v0.7h-0.7zM275.29 164.62h0.7v0.7h-0.7zM265.7 164.36h0.7v0.7h-0.7zM265.82 167.78h0.7v0.7h-0.7zM265.22 163.73h0.7v0.7h-0.7zM275.25 162.81h0.7v0.7h-0.7zM265.99 162.42h0.7v0.7h-0.7zM266.8 165.19h0.7v0.7h-0.7z" fill="#ffd0d0"/>
</g>
<path d="M261 162.5L275 152.5L290 142L305 131L320 120L333 112.5L345 104L360 95.5L378 84L397 73" fill="none" stroke="#222" stroke-width="0.7"/>
<text x="337.5" y="111" font-size="5.2" font-weight="bold" fill="#111">P2</text>
<text x="272.5" y="60" font-size="8.3" textLength="18" lengthAdjust="spacingAndGlyphs">MCF</text>
<text x="275" y="102" font-size="11.4" textLength="26" lengthAdjust="spacingAndGlyphs">3.6%</text>
<text x="246" y="104.5" font-size="8.8" text-anchor="middle" fill="#333" textLength="21.8" lengthAdjust="spacingAndGlyphs" transform="rotate(-90 246 104.5)">FITC-H</text>
<text x="319" y="187.5" font-size="7.2" fill="#333" textLength="18.5" lengthAdjust="spacingAndGlyphs">PE-H</text>
<rect x="260" y="194.5" width="137" height="119.3" fill="#fff"/>
<line x1="260" y1="194.5" x2="397" y2="194.5" stroke="#777" stroke-width="1"/>
<line x1="288" y1="194.5" x2="340" y2="194.5" stroke="#000" stroke-width="1.2"/>
<line x1="397.5" y1="194.5" x2="397.5" y2="313.8" stroke="#444" stroke-width="1"/>
<line x1="260.5" y1="192" x2="260.5" y2="313.8" stroke="#8c8c8c" stroke-width="1"/>
<line x1="261.5" y1="192" x2="261.5" y2="313.8" stroke="#111" stroke-width="1"/>
<line x1="259" y1="313.5" x2="397" y2="313.5" stroke="#111" stroke-width="1"/>
<line x1="255.5" y1="206" x2="261.5" y2="206" stroke="#000" stroke-width="1.2"/>
<text x="254" y="204.5" font-size="5.6" fill="#000" transform="rotate(-90 254 204.5)" text-anchor="middle">10<tspan dy="-2.8" font-size="5">5</tspan></text>
<line x1="255.5" y1="235.7" x2="261.5" y2="235.7" stroke="#000" stroke-width="1.2"/>
<line x1="257.5" y1="226.76" x2="261.5" y2="226.76" stroke="#222" stroke-width="0.7"/>
<line x1="257.5" y1="221.53" x2="261.5" y2="221.53" stroke="#222" stroke-width="0.7"/>
<line x1="257.5" y1="217.82" x2="261.5" y2="217.82" stroke="#222" stroke-width="0.7"/>
<line x1="257.5" y1="214.94" x2="261.5" y2="214.94" stroke="#222" stroke-width="0.7"/>
<line x1="257.5" y1="212.59" x2="261.5" y2="212.59" stroke="#222" stroke-width="0.7"/>
<line x1="257.5" y1="210.6" x2="261.5" y2="210.6" stroke="#222" stroke-width="0.7"/>
<line x1="257.5" y1="208.88" x2="261.5" y2="208.88" stroke="#222" stroke-width="0.7"/>
<line x1="257.5" y1="207.36" x2="261.5" y2="207.36" stroke="#222" stroke-width="0.7"/>
<text x="254" y="234.2" font-size="5.6" fill="#000" transform="rotate(-90 254 234.2)" text-anchor="middle">10<tspan dy="-2.8" font-size="5">4</tspan></text>
<line x1="255.5" y1="266.3" x2="261.5" y2="266.3" stroke="#000" stroke-width="1.2"/>
<line x1="257.5" y1="257.36" x2="261.5" y2="257.36" stroke="#222" stroke-width="0.7"/>
<line x1="257.5" y1="252.13" x2="261.5" y2="252.13" stroke="#222" stroke-width="0.7"/>
<line x1="257.5" y1="248.42" x2="261.5" y2="248.42" stroke="#222" stroke-width="0.7"/>
<line x1="257.5" y1="245.54" x2="261.5" y2="245.54" stroke="#222" stroke-width="0.7"/>
<line x1="257.5" y1="243.19" x2="261.5" y2="243.19" stroke="#222" stroke-width="0.7"/>
<line x1="257.5" y1="241.2" x2="261.5" y2="241.2" stroke="#222" stroke-width="0.7"/>
<line x1="257.5" y1="239.48" x2="261.5" y2="239.48" stroke="#222" stroke-width="0.7"/>
<line x1="257.5" y1="237.96" x2="261.5" y2="237.96" stroke="#222" stroke-width="0.7"/>
<text x="254" y="264.8" font-size="5.6" fill="#000" transform="rotate(-90 254 264.8)" text-anchor="middle">10<tspan dy="-2.8" font-size="5">3</tspan></text>
<line x1="255.5" y1="296.6" x2="261.5" y2="296.6" stroke="#000" stroke-width="1.2"/>
<line x1="257.5" y1="287.66" x2="261.5" y2="287.66" stroke="#222" stroke-width="0.7"/>
<line x1="257.5" y1="282.43" x2="261.5" y2="282.43" stroke="#222" stroke-width="0.7"/>
<line x1="257.5" y1="278.72" x2="261.5" y2="278.72" stroke="#222" stroke-width="0.7"/>
<line x1="257.5" y1="275.84" x2="261.5" y2="275.84" stroke="#222" stroke-width="0.7"/>
<line x1="257.5" y1="273.49" x2="261.5" y2="273.49" stroke="#222" stroke-width="0.7"/>
<line x1="257.5" y1="271.5" x2="261.5" y2="271.5" stroke="#222" stroke-width="0.7"/>
<line x1="257.5" y1="269.78" x2="261.5" y2="269.78" stroke="#222" stroke-width="0.7"/>
<line x1="257.5" y1="268.26" x2="261.5" y2="268.26" stroke="#222" stroke-width="0.7"/>
<text x="254" y="295.1" font-size="5.6" fill="#000" transform="rotate(-90 254 295.1)" text-anchor="middle">10<tspan dy="-2.8" font-size="5">2</tspan></text>
<line x1="257.5" y1="312.13" x2="261.5" y2="312.13" stroke="#222" stroke-width="0.7"/>
<line x1="257.5" y1="308.42" x2="261.5" y2="308.42" stroke="#222" stroke-width="0.7"/>
<line x1="257.5" y1="305.54" x2="261.5" y2="305.54" stroke="#222" stroke-width="0.7"/>
<line x1="257.5" y1="303.19" x2="261.5" y2="303.19" stroke="#222" stroke-width="0.7"/>
<line x1="257.5" y1="301.2" x2="261.5" y2="301.2" stroke="#222" stroke-width="0.7"/>
<line x1="257.5" y1="299.48" x2="261.5" y2="299.48" stroke="#222" stroke-width="0.7"/>
<line x1="257.5" y1="297.96" x2="261.5" y2="297.96" stroke="#222" stroke-width="0.7"/>
<line x1="279.5" y1="313.8" x2="279.5" y2="318.3" stroke="#000" stroke-width="1.2"/>
<line x1="289.58" y1="313.8" x2="289.58" y2="316.4" stroke="#222" stroke-width="0.7"/>
<line x1="295.48" y1="313.8" x2="295.48" y2="316.4" stroke="#222" stroke-width="0.7"/>
<line x1="299.67" y1="313.8" x2="299.67" y2="316.4" stroke="#222" stroke-width="0.7"/>
<line x1="302.92" y1="313.8" x2="302.92" y2="316.4" stroke="#222" stroke-width="0.7"/>
<line x1="305.57" y1="313.8" x2="305.57" y2="316.4" stroke="#222" stroke-width="0.7"/>
<line x1="307.81" y1="313.8" x2="307.81" y2="316.4" stroke="#222" stroke-width="0.7"/>
<line x1="309.75" y1="313.8" x2="309.75" y2="316.4" stroke="#222" stroke-width="0.7"/>
<line x1="311.47" y1="313.8" x2="311.47" y2="316.4" stroke="#222" stroke-width="0.7"/>
<text x="280" y="324.3" font-size="5.6" fill="#000" text-anchor="middle">10<tspan dy="-2.6" font-size="4.6">2</tspan></text>
<line x1="313" y1="313.8" x2="313" y2="318.3" stroke="#000" stroke-width="1.2"/>
<line x1="323.08" y1="313.8" x2="323.08" y2="316.4" stroke="#222" stroke-width="0.7"/>
<line x1="328.98" y1="313.8" x2="328.98" y2="316.4" stroke="#222" stroke-width="0.7"/>
<line x1="333.17" y1="313.8" x2="333.17" y2="316.4" stroke="#222" stroke-width="0.7"/>
<line x1="336.42" y1="313.8" x2="336.42" y2="316.4" stroke="#222" stroke-width="0.7"/>
<line x1="339.07" y1="313.8" x2="339.07" y2="316.4" stroke="#222" stroke-width="0.7"/>
<line x1="341.31" y1="313.8" x2="341.31" y2="316.4" stroke="#222" stroke-width="0.7"/>
<line x1="343.25" y1="313.8" x2="343.25" y2="316.4" stroke="#222" stroke-width="0.7"/>
<line x1="344.97" y1="313.8" x2="344.97" y2="316.4" stroke="#222" stroke-width="0.7"/>
<text x="313.5" y="324.3" font-size="5.6" fill="#000" text-anchor="middle">10<tspan dy="-2.6" font-size="4.6">3</tspan></text>
<line x1="347" y1="313.8" x2="347" y2="318.3" stroke="#000" stroke-width="1.2"/>
<line x1="357.08" y1="313.8" x2="357.08" y2="316.4" stroke="#222" stroke-width="0.7"/>
<line x1="362.98" y1="313.8" x2="362.98" y2="316.4" stroke="#222" stroke-width="0.7"/>
<line x1="367.17" y1="313.8" x2="367.17" y2="316.4" stroke="#222" stroke-width="0.7"/>
<line x1="370.42" y1="313.8" x2="370.42" y2="316.4" stroke="#222" stroke-width="0.7"/>
<line x1="373.07" y1="313.8" x2="373.07" y2="316.4" stroke="#222" stroke-width="0.7"/>
<line x1="375.31" y1="313.8" x2="375.31" y2="316.4" stroke="#222" stroke-width="0.7"/>
<line x1="377.25" y1="313.8" x2="377.25" y2="316.4" stroke="#222" stroke-width="0.7"/>
<line x1="378.97" y1="313.8" x2="378.97" y2="316.4" stroke="#222" stroke-width="0.7"/>
<text x="347.5" y="324.3" font-size="5.6" fill="#000" text-anchor="middle">10<tspan dy="-2.6" font-size="4.6">4</tspan></text>
<line x1="380.5" y1="313.8" x2="380.5" y2="318.3" stroke="#000" stroke-width="1.2"/>
<line x1="390.58" y1="313.8" x2="390.58" y2="316.4" stroke="#222" stroke-width="0.7"/>
<line x1="396.48" y1="313.8" x2="396.48" y2="316.4" stroke="#222" stroke-width="0.7"/>
<text x="381" y="324.3" font-size="5.6" fill="#000" text-anchor="middle">10<tspan dy="-2.6" font-size="4.6">5</tspan></text>
<line x1="261.98" y1="313.8" x2="261.98" y2="316.4" stroke="#222" stroke-width="0.7"/>
<line x1="266.17" y1="313.8" x2="266.17" y2="316.4" stroke="#222" stroke-width="0.7"/>
<line x1="269.42" y1="313.8" x2="269.42" y2="316.4" stroke="#222" stroke-width="0.7"/>
<line x1="272.07" y1="313.8" x2="272.07" y2="316.4" stroke="#222" stroke-width="0.7"/>
<line x1="274.31" y1="313.8" x2="274.31" y2="316.4" stroke="#222" stroke-width="0.7"/>
<line x1="276.25" y1="313.8" x2="276.25" y2="316.4" stroke="#222" stroke-width="0.7"/>
<line x1="277.97" y1="313.8" x2="277.97" y2="316.4" stroke="#222" stroke-width="0.7"/>
<clipPath id="cp194"><rect x="262.2" y="197.5" width="134.5" height="115.9"/></clipPath>
<g clip-path="url(#cp194)">
<path d="M313.34 249.39h0.85v0.85h-0.85zM309.7 252.7h0.85v0.85h-0.85zM293.34 272.94h0.85v0.85h-0.85zM281.48 283.39h0.85v0.85h-0.85zM319.63 241.94h0.85v0.85h-0.85zM308.52 254.02h0.85v0.85h-0.85zM315.4 245.64h0.85v0.85h-0.85zM320.3 244h0.85v0.85h-0.85zM302.75 262.54h0.85v0.85h-0.85zM306.51 254.63h0.85v0.85h-0.85zM308.28 254.46h0.85v0.85h-0.85zM319.11 242.73h0.85v0.85h-0.85zM272.59 293.32h0.85v0.85h-0.85zM284.16 285.21h0.85v0.85h-0.85zM275.06 289.73h0.85v0.85h-0.85zM315.08 248.91h0.85v0.85h-0.85zM308.67 253.76h0.85v0.85h-0.85zM287.47 277.07h0.85v0.85h-0.85zM311.95 249.22h0.85v0.85h-0.85zM315.31 248.3h0.85v0.85h-0.85zM310.42 253.51h0.85v0.85h-0.85zM299.55 259.36h0.85v0.85h-0.85zM289.89 280.97h0.85v0.85h-0.85zM314.05 248.55h0.85v0.85h-0.85zM290.77 277.32h0.85v0.85h-0.85zM291.05 276.57h0.85v0.85h-0.85zM271.96 292.28h0.85v0.85h-0.85zM279.69 283.71h0.85v0.85h-0.85zM304.77 261.13h0.85v0.85h-0.85zM316.28 246.86h0.85v0.85h-0.85zM318.72 246.03h0.85v0.85h-0.85zM310.25 249.37h0.85v0.85h-0.85zM310.04 254.01h0.85v0.85h-0.85zM312.79 250.83h0.85v0.85h-0.85zM287.9 273h0.85v0.85h-0.85zM312.99 248.43h0.85v0.85h-0.85zM286.24 276.56h0.85v0.85h-0.85zM314.49 251.65h0.85v0.85h-0.85zM312.45 247.14h0.85v0.85h-0.85zM314.06 245.65h0.85v0.85h-0.85zM306.97 252.25h0.85v0.85h-0.85zM306.3 258.36h0.85v0.85h-0.85zM315.81 248.07h0.85v0.85h-0.85zM300.77 266.59h0.85v0.85h-0.85zM310.96 252.09h0.85v0.85h-0.85zM310.63 251.86h0.85v0.85h-0.85zM288.98 278.59h0.85v0.85h-0.85zM281.36 282.48h0.85v0.85h-0.85zM265.6 300.14h0.85v0.85h-0.85zM311.88 251.6h0.85v0.85h-0.85zM269.53 296.52h0.85v0.85h-0.85zM308.76 254.2h0.85v0.85h-0.85zM289.79 272.36h0.85v0.85h-0.85zM311.17 250.38h0.85v0.85h-0.85zM304.15 260.92h0.85v0.85h-0.85zM319.19 248.82h0.85v0.85h-0.85zM308.34 254.54h0.85v0.85h-0.85zM284.78 278.13h0.85v0.85h-0.85zM275.11 295.79h0.85v0.85h-0.85zM300.64 262.32h0.85v0.85h-0.85zM297.75 270.61h0.85v0.85h-0.85zM290.58 271.45h0.85v0.85h-0.85zM282.03 288.28h0.85v0.85h-0.85zM292.19 279.01h0.85v0.85h-0.85zM304.35 254.67h0.85v0.85h-0.85zM274.12 292.16h0.85v0.85h-0.85zM301.88 263.1h0.85v0.85h-0.85zM293.61 272.46h0.85v0.85h-0.85zM296.99 265.68h0.85v0.85h-0.85zM291.78 279.29h0.85v0.85h-0.85zM281.13 285.63h0.85v0.85h-0.85zM284.2 288.86h0.85v0.85h-0.85zM314.82 245.93h0.85v0.85h-0.85zM290.47 275.36h0.85v0.85h-0.85zM306.86 255.57h0.85v0.85h-0.85zM286.35 280.72h0.85v0.85h-0.85zM287.56 278.62h0.85v0.85h-0.85zM300.37 266.31h0.85v0.85h-0.85zM297.36 268.5h0.85v0.85h-0.85zM320.14 243.82h0.85v0.85h-0.85zM323.43 242.77h0.85v0.85h-0.85zM279.82 289.43h0.85v0.85h-0.85zM319.3 247.44h0.85v0.85h-0.85zM316.07 248.47h0.85v0.85h-0.85zM288.27 275.5h0.85v0.85h-0.85zM294.32 265.5h0.85v0.85h-0.85zM320.97 244.74h0.85v0.85h-0.85zM295.65 265.83h0.85v0.85h-0.85zM276.93 292.1h0.85v0.85h-0.85zM303.23 260.2h0.85v0.85h-0.85zM303.72 263.62h0.85v0.85h-0.85zM283.6 283.33h0.85v0.85h-0.85zM296 265.89h0.85v0.85h-0.85zM295.07 269.86h0.85v0.85h-0.85zM287.98 277.7h0.85v0.85h-0.85zM308.05 255.95h0.85v0.85h-0.85zM284.43 284.52h0.85v0.85h-0.85zM296.84 266.28h0.85v0.85h-0.85zM315.66 244.7h0.85v0.85h-0.85zM282.35 289.33h0.85v0.85h-0.85zM310.73 255.19h0.85v0.85h-0.85zM308.07 256.45h0.85v0.85h-0.85zM314.94 250.34h0.85v0.85h-0.85zM315.43 242.5h0.85v0.85h-0.85zM292.54 270.35h0.85v0.85h-0.85zM268.44 292.61h0.85v0.85h-0.85zM305.02 257.12h0.85v0.85h-0.85zM278.52 293.77h0.85v0.85h-0.85zM321.1 240.86h0.85v0.85h-0.85zM287.7 277.94h0.85v0.85h-0.85z" fill="#00f000"/>
<polygon points="261.5,306.7 275,297.9 290,288 305,278.2 318.5,269.5 319.2,270.6 313,277.9 304.3,288 295.6,298.2 291.2,304 286.2,311 284,313.8 261.5,313.8" fill="#ff0000" stroke="none" stroke-width="1"/>
<path d="M312.37 279.33h0.85v0.85h-0.85zM314.19 278.11h0.85v0.85h-0.85zM308.69 283.83h0.85v0.85h-0.85zM312.9 277.11h0.85v0.85h-0.85zM312.18 278.77h0.85v0.85h-0.85zM308.13 284.28h0.85v0.85h-0.85zM301.64 290.77h0.85v0.85h-0.85zM304.34 290.11h0.85v0.85h-0.85zM285.47 311.03h0.85v0.85h-0.85zM302.41 290.8h0.85v0.85h-0.85zM314.89 277.48h0.85v0.85h-0.85zM314.17 278.66h0.85v0.85h-0.85zM285.27 312.46h0.85v0.85h-0.85zM305.05 288.06h0.85v0.85h-0.85zM307.08 286.03h0.85v0.85h-0.85zM294.71 300.29h0.85v0.85h-0.85zM288.5 307.71h0.85v0.85h-0.85zM300.61 296.61h0.85v0.85h-0.85zM292.95 301.58h0.85v0.85h-0.85zM307.82 286.8h0.85v0.85h-0.85zM306.27 288.94h0.85v0.85h-0.85zM303.72 289.08h0.85v0.85h-0.85zM296.58 299.81h0.85v0.85h-0.85zM293.25 302.29h0.85v0.85h-0.85zM305.83 286h0.85v0.85h-0.85zM288.92 307.14h0.85v0.85h-0.85zM296.16 300.51h0.85v0.85h-0.85zM307.91 285.85h0.85v0.85h-0.85zM304.83 287.83h0.85v0.85h-0.85zM313.94 279.43h0.85v0.85h-0.85zM291.97 305.95h0.85v0.85h-0.85zM318.15 271.67h0.85v0.85h-0.85zM302.24 292.42h0.85v0.85h-0.85zM306.56 286.43h0.85v0.85h-0.85zM300.44 293.55h0.85v0.85h-0.85zM286.64 310.87h0.85v0.85h-0.85zM307.81 285.23h0.85v0.85h-0.85zM306.46 288.04h0.85v0.85h-0.85zM310.62 282.34h0.85v0.85h-0.85zM306.3 286.72h0.85v0.85h-0.85zM287.08 310.06h0.85v0.85h-0.85zM299.7 293.45h0.85v0.85h-0.85zM290.62 306.36h0.85v0.85h-0.85zM312.95 277.03h0.85v0.85h-0.85zM311.93 278.56h0.85v0.85h-0.85zM316.63 272.78h0.85v0.85h-0.85zM311.09 280.38h0.85v0.85h-0.85zM316.64 272.65h0.85v0.85h-0.85zM295.04 302.68h0.85v0.85h-0.85zM287.85 310.49h0.85v0.85h-0.85zM286.53 310.25h0.85v0.85h-0.85zM316.45 274.8h0.85v0.85h-0.85zM312.27 278.82h0.85v0.85h-0.85zM292.89 302.94h0.85v0.85h-0.85zM316.11 274.78h0.85v0.85h-0.85zM287.81 307.77h0.85v0.85h-0.85zM285.69 313.51h0.85v0.85h-0.85zM317.72 272.14h0.85v0.85h-0.85zM317.94 271.14h0.85v0.85h-0.85zM293.96 300.95h0.85v0.85h-0.85zM313.21 277.37h0.85v0.85h-0.85zM313.48 278.94h0.85v0.85h-0.85zM285.48 312.81h0.85v0.85h-0.85zM307.04 286.61h0.85v0.85h-0.85zM304.91 287.05h0.85v0.85h-0.85zM309.93 281.25h0.85v0.85h-0.85zM286.62 315.56h0.85v0.85h-0.85zM293.99 300.8h0.85v0.85h-0.85zM313.8 277.14h0.85v0.85h-0.85zM306.18 285.22h0.85v0.85h-0.85zM300.24 293.27h0.85v0.85h-0.85zM295.77 300.44h0.85v0.85h-0.85zM290.92 304.41h0.85v0.85h-0.85zM300.53 296.77h0.85v0.85h-0.85zM298.07 296.58h0.85v0.85h-0.85zM308.85 286.39h0.85v0.85h-0.85zM289.95 308.54h0.85v0.85h-0.85zM286.9 310.04h0.85v0.85h-0.85zM312.58 277.79h0.85v0.85h-0.85zM305.05 286.62h0.85v0.85h-0.85zM290.37 304.77h0.85v0.85h-0.85zM290.96 304.09h0.85v0.85h-0.85zM290.42 304.52h0.85v0.85h-0.85zM304.66 288.52h0.85v0.85h-0.85zM294.18 302.57h0.85v0.85h-0.85zM306.92 289.98h0.85v0.85h-0.85zM286.53 310.75h0.85v0.85h-0.85zM297.31 296.98h0.85v0.85h-0.85zM310.07 282.49h0.85v0.85h-0.85zM287.23 309.51h0.85v0.85h-0.85zM291.57 307.12h0.85v0.85h-0.85zM284.01 313.15h0.85v0.85h-0.85zM292.78 303.53h0.85v0.85h-0.85zM309.79 281.79h0.85v0.85h-0.85zM288.75 307.44h0.85v0.85h-0.85zM301.71 291.48h0.85v0.85h-0.85zM318.18 275.73h0.85v0.85h-0.85zM285.79 310.24h0.85v0.85h-0.85zM292.37 303.45h0.85v0.85h-0.85zM299.61 295.85h0.85v0.85h-0.85zM304.31 289.18h0.85v0.85h-0.85zM287.37 311.75h0.85v0.85h-0.85zM315.93 275.33h0.85v0.85h-0.85zM310.54 283.43h0.85v0.85h-0.85zM304.49 290.37h0.85v0.85h-0.85zM293.01 301.47h0.85v0.85h-0.85zM297.55 299.59h0.85v0.85h-0.85zM316.93 275.76h0.85v0.85h-0.85zM311.02 279.36h0.85v0.85h-0.85zM295.67 298.46h0.85v0.85h-0.85zM287.22 310.67h0.85v0.85h-0.85zM286.53 311.77h0.85v0.85h-0.85zM298.39 294.74h0.85v0.85h-0.85zM290.11 305.01h0.85v0.85h-0.85zM289.39 308.38h0.85v0.85h-0.85zM305.63 288.39h0.85v0.85h-0.85zM314.73 275.49h0.85v0.85h-0.85zM293.21 303.27h0.85v0.85h-0.85zM318 273.47h0.85v0.85h-0.85zM285.56 314.23h0.85v0.85h-0.85zM314.37 276.09h0.85v0.85h-0.85zM296.71 298.06h0.85v0.85h-0.85zM290.43 305.74h0.85v0.85h-0.85zM317.82 271.87h0.85v0.85h-0.85zM288.6 306.87h0.85v0.85h-0.85zM288.33 309.65h0.85v0.85h-0.85zM302.27 290.52h0.85v0.85h-0.85zM293.34 301.19h0.85v0.85h-0.85zM286.73 311.19h0.85v0.85h-0.85zM313.38 279.17h0.85v0.85h-0.85zM315.89 276.54h0.85v0.85h-0.85zM313.01 278.92h0.85v0.85h-0.85zM312.74 277.11h0.85v0.85h-0.85zM287.78 311.84h0.85v0.85h-0.85zM310.03 281.11h0.85v0.85h-0.85zM286.83 309.83h0.85v0.85h-0.85zM299.42 298.54h0.85v0.85h-0.85zM284.54 312.16h0.85v0.85h-0.85zM301.37 294.38h0.85v0.85h-0.85zM288.91 307.36h0.85v0.85h-0.85zM286.52 309.66h0.85v0.85h-0.85zM290.94 305.48h0.85v0.85h-0.85zM312.08 281.48h0.85v0.85h-0.85zM303.51 291.12h0.85v0.85h-0.85zM288.67 312.09h0.85v0.85h-0.85zM313.45 277.45h0.85v0.85h-0.85zM305.59 288.64h0.85v0.85h-0.85zM313.45 277.97h0.85v0.85h-0.85zM302.14 292.15h0.85v0.85h-0.85zM310.07 282.41h0.85v0.85h-0.85zM292.78 303.83h0.85v0.85h-0.85zM299.03 296.53h0.85v0.85h-0.85zM307.62 287.6h0.85v0.85h-0.85zM285.35 312.01h0.85v0.85h-0.85zM298.08 295.25h0.85v0.85h-0.85zM285.57 312.69h0.85v0.85h-0.85zM308.42 284.38h0.85v0.85h-0.85zM317.66 271.41h0.85v0.85h-0.85zM309.07 282.78h0.85v0.85h-0.85zM298.96 299.35h0.85v0.85h-0.85zM295.47 300.53h0.85v0.85h-0.85zM307.31 286.96h0.85v0.85h-0.85zM299.9 293.92h0.85v0.85h-0.85zM288.67 307.73h0.85v0.85h-0.85zM298.18 296.94h0.85v0.85h-0.85zM308.79 283.7h0.85v0.85h-0.85zM284.42 312.2h0.85v0.85h-0.85zM317.71 274.01h0.85v0.85h-0.85zM311.35 279h0.85v0.85h-0.85zM302.27 293.28h0.85v0.85h-0.85zM296.45 300.15h0.85v0.85h-0.85zM297.66 302.23h0.85v0.85h-0.85zM296.24 300.64h0.85v0.85h-0.85zM293.77 301.14h0.85v0.85h-0.85zM303.49 288.46h0.85v0.85h-0.85zM284.97 312.37h0.85v0.85h-0.85zM319.58 271.55h0.85v0.85h-0.85zM305.14 289.03h0.85v0.85h-0.85zM290.38 306.37h0.85v0.85h-0.85zM318.26 270.77h0.85v0.85h-0.85zM289.9 306.56h0.85v0.85h-0.85zM315.76 275.1h0.85v0.85h-0.85zM287.89 308.38h0.85v0.85h-0.85zM301.7 293.4h0.85v0.85h-0.85zM306.96 289.74h0.85v0.85h-0.85zM295.95 301.79h0.85v0.85h-0.85zM284.86 313.15h0.85v0.85h-0.85zM314.63 274.82h0.85v0.85h-0.85zM314.22 277.17h0.85v0.85h-0.85zM307.2 287h0.85v0.85h-0.85zM285.97 314.97h0.85v0.85h-0.85zM284.74 313.94h0.85v0.85h-0.85zM314.01 277.96h0.85v0.85h-0.85zM293.99 302.25h0.85v0.85h-0.85zM287.17 309.2h0.85v0.85h-0.85zM309.95 281.4h0.85v0.85h-0.85zM313.77 276.92h0.85v0.85h-0.85zM298 295.63h0.85v0.85h-0.85zM301.46 292.28h0.85v0.85h-0.85zM299.4 295.75h0.85v0.85h-0.85zM299.81 293.88h0.85v0.85h-0.85zM319.11 271.61h0.85v0.85h-0.85zM310.6 280.61h0.85v0.85h-0.85zM291.97 302.82h0.85v0.85h-0.85zM312.17 282.23h0.85v0.85h-0.85zM316.38 274.96h0.85v0.85h-0.85zM306.85 284.66h0.85v0.85h-0.85zM291.87 303.33h0.85v0.85h-0.85zM290.83 307.48h0.85v0.85h-0.85zM305.21 291.73h0.85v0.85h-0.85zM297.29 296.17h0.85v0.85h-0.85zM312.57 278.2h0.85v0.85h-0.85zM307.03 284.52h0.85v0.85h-0.85zM316.1 274.46h0.85v0.85h-0.85zM308.62 284.16h0.85v0.85h-0.85zM301.28 292.81h0.85v0.85h-0.85zM313.39 276.99h0.85v0.85h-0.85zM308.9 284.16h0.85v0.85h-0.85zM295.92 302.4h0.85v0.85h-0.85zM303.59 288.7h0.85v0.85h-0.85zM314.5 275.57h0.85v0.85h-0.85zM289.08 306.97h0.85v0.85h-0.85zM297.04 297.48h0.85v0.85h-0.85zM317.5 273.41h0.85v0.85h-0.85zM314.94 274.49h0.85v0.85h-0.85zM292.65 302.34h0.85v0.85h-0.85zM313.95 278.4h0.85v0.85h-0.85zM296.5 300.23h0.85v0.85h-0.85zM315.98 274.55h0.85v0.85h-0.85zM287.56 309.7h0.85v0.85h-0.85zM304.5 287.26h0.85v0.85h-0.85zM313.03 279.83h0.85v0.85h-0.85zM284.45 313.72h0.85v0.85h-0.85zM306.89 284.65h0.85v0.85h-0.85zM312.39 281.05h0.85v0.85h-0.85zM304.86 287.72h0.85v0.85h-0.85zM314.16 277.69h0.85v0.85h-0.85zM319.45 275.87h0.85v0.85h-0.85zM287.07 310.55h0.85v0.85h-0.85zM316.33 275.44h0.85v0.85h-0.85zM311.69 278.43h0.85v0.85h-0.85zM297.04 300.69h0.85v0.85h-0.85zM308.28 282.69h0.85v0.85h-0.85zM286.15 310.8h0.85v0.85h-0.85zM314.74 277.12h0.85v0.85h-0.85zM302.71 291.93h0.85v0.85h-0.85zM295.22 301.19h0.85v0.85h-0.85zM298.5 295.29h0.85v0.85h-0.85zM293.38 300.97h0.85v0.85h-0.85zM291.09 305.26h0.85v0.85h-0.85zM317.28 272.9h0.85v0.85h-0.85zM298.16 295.37h0.85v0.85h-0.85zM295.08 300.94h0.85v0.85h-0.85zM305.81 286.05h0.85v0.85h-0.85zM284.98 313.03h0.85v0.85h-0.85zM303.6 289.37h0.85v0.85h-0.85zM292.95 301.41h0.85v0.85h-0.85zM288.51 307.75h0.85v0.85h-0.85zM288.32 308.12h0.85v0.85h-0.85zM294.12 301.69h0.85v0.85h-0.85zM295.62 299.65h0.85v0.85h-0.85zM319.42 271.04h0.85v0.85h-0.85zM288 308.05h0.85v0.85h-0.85zM284.49 313.94h0.85v0.85h-0.85zM293.15 305.88h0.85v0.85h-0.85zM290.66 309.53h0.85v0.85h-0.85zM297.45 299.17h0.85v0.85h-0.85zM285.84 311.55h0.85v0.85h-0.85zM300.55 292.69h0.85v0.85h-0.85zM302.09 291.37h0.85v0.85h-0.85zM301.49 292.87h0.85v0.85h-0.85zM297.96 295.57h0.85v0.85h-0.85zM301.72 292.51h0.85v0.85h-0.85zM302.26 293.02h0.85v0.85h-0.85zM312.81 278.73h0.85v0.85h-0.85zM300.1 293.27h0.85v0.85h-0.85zM295.7 302.03h0.85v0.85h-0.85zM291.88 304.48h0.85v0.85h-0.85zM286.02 310.1h0.85v0.85h-0.85zM301.2 292.65h0.85v0.85h-0.85zM305.03 287.95h0.85v0.85h-0.85zM294.11 301.1h0.85v0.85h-0.85zM293.98 302.6h0.85v0.85h-0.85zM312.05 280.08h0.85v0.85h-0.85zM308.04 283.53h0.85v0.85h-0.85zM305.91 285.61h0.85v0.85h-0.85zM313.09 280.53h0.85v0.85h-0.85zM310.64 280.43h0.85v0.85h-0.85zM296.36 300.59h0.85v0.85h-0.85zM296.46 297.74h0.85v0.85h-0.85zM317.23 273.37h0.85v0.85h-0.85zM308.72 287.98h0.85v0.85h-0.85zM300.63 293.19h0.85v0.85h-0.85zM296.97 300.66h0.85v0.85h-0.85zM310.87 280.29h0.85v0.85h-0.85zM308.25 285.9h0.85v0.85h-0.85zM293.86 302.94h0.85v0.85h-0.85zM301.96 291.61h0.85v0.85h-0.85zM302.03 291.63h0.85v0.85h-0.85zM295.23 302.25h0.85v0.85h-0.85zM289.34 308.64h0.85v0.85h-0.85zM303.93 289.73h0.85v0.85h-0.85zM284.69 312.51h0.85v0.85h-0.85zM312.56 278.37h0.85v0.85h-0.85zM286.84 310.51h0.85v0.85h-0.85zM289.6 307.78h0.85v0.85h-0.85zM289.13 310.12h0.85v0.85h-0.85zM304.17 289.07h0.85v0.85h-0.85zM307.19 287.74h0.85v0.85h-0.85zM315.33 276.02h0.85v0.85h-0.85zM305.23 287.79h0.85v0.85h-0.85zM297.56 295.75h0.85v0.85h-0.85zM305.01 287.07h0.85v0.85h-0.85zM306.27 287.33h0.85v0.85h-0.85zM291.78 302.98h0.85v0.85h-0.85zM307.48 284.98h0.85v0.85h-0.85zM313.34 279.37h0.85v0.85h-0.85zM318.52 271.51h0.85v0.85h-0.85zM309.58 283.88h0.85v0.85h-0.85zM313.02 279.96h0.85v0.85h-0.85zM312.3 281.75h0.85v0.85h-0.85zM298.79 296.09h0.85v0.85h-0.85zM317.68 271.98h0.85v0.85h-0.85zM308.02 284.88h0.85v0.85h-0.85zM301.79 293.08h0.85v0.85h-0.85zM314.43 275.51h0.85v0.85h-0.85zM304.82 288.82h0.85v0.85h-0.85zM306.19 286.11h0.85v0.85h-0.85zM284.11 312.91h0.85v0.85h-0.85zM310.58 280.86h0.85v0.85h-0.85zM306.84 293.19h0.85v0.85h-0.85zM319.32 290.77h0.85v0.85h-0.85zM299.26 300.49h0.85v0.85h-0.85zM314.24 279.95h0.85v0.85h-0.85zM297.76 310.01h0.85v0.85h-0.85zM322.5 273.73h0.85v0.85h-0.85zM305.2 294.12h0.85v0.85h-0.85zM301.68 300.52h0.85v0.85h-0.85zM315.37 288.09h0.85v0.85h-0.85zM300.62 300.96h0.85v0.85h-0.85zM301.28 298.65h0.85v0.85h-0.85zM310.44 287.23h0.85v0.85h-0.85zM307.56 286.14h0.85v0.85h-0.85zM317.32 279.06h0.85v0.85h-0.85zM318.61 272.73h0.85v0.85h-0.85zM316.08 287.57h0.85v0.85h-0.85zM315.26 282.03h0.85v0.85h-0.85zM315.4 307.32h0.85v0.85h-0.85zM317.77 276.8h0.85v0.85h-0.85zM311.17 292.12h0.85v0.85h-0.85zM295.68 300.6h0.85v0.85h-0.85zM318.66 280h0.85v0.85h-0.85zM314.76 284.43h0.85v0.85h-0.85zM306.92 294.93h0.85v0.85h-0.85zM320.48 273.88h0.85v0.85h-0.85zM294.46 305.32h0.85v0.85h-0.85zM303.55 294.67h0.85v0.85h-0.85zM307.6 290.45h0.85v0.85h-0.85zM300.2 303.38h0.85v0.85h-0.85zM322.86 291.37h0.85v0.85h-0.85zM317.17 287.99h0.85v0.85h-0.85zM313.41 287.37h0.85v0.85h-0.85zM308.11 298.98h0.85v0.85h-0.85zM311.17 288.2h0.85v0.85h-0.85zM299.79 299.68h0.85v0.85h-0.85zM310.16 288.02h0.85v0.85h-0.85zM303.84 299.61h0.85v0.85h-0.85zM323.03 272.62h0.85v0.85h-0.85zM314.27 305.18h0.85v0.85h-0.85zM307.12 298.82h0.85v0.85h-0.85zM315.5 276.63h0.85v0.85h-0.85zM321.18 279.87h0.85v0.85h-0.85zM320.09 284.19h0.85v0.85h-0.85zM306.83 296.68h0.85v0.85h-0.85zM321.75 280.26h0.85v0.85h-0.85z" fill="#ff0000"/>
<path d="M270.63 308.68h0.7v0.7h-0.7zM271.21 307.6h0.7v0.7h-0.7zM270.27 310.5h0.7v0.7h-0.7zM265.39 308.65h0.7v0.7h-0.7zM273 310.08h0.7v0.7h-0.7zM272.13 311.48h0.7v0.7h-0.7zM271.5 308.13h0.7v0.7h-0.7zM269.7 311.78h0.7v0.7h-0.7zM271.43 311.32h0.7v0.7h-0.7zM268.6 309.49h0.7v0.7h-0.7zM277.08 311.73h0.7v0.7h-0.7zM272.64 307.44h0.7v0.7h-0.7zM272.07 307h0.7v0.7h-0.7zM276.57 312.63h0.7v0.7h-0.7zM273.69 308.41h0.7v0.7h-0.7zM275.34 307.86h0.7v0.7h-0.7zM275.09 309.92h0.7v0.7h-0.7zM263.72 312.14h0.7v0.7h-0.7zM269.66 311.78h0.7v0.7h-0.7zM273.14 310h0.7v0.7h-0.7zM275.57 308.02h0.7v0.7h-0.7zM276.08 308.83h0.7v0.7h-0.7zM263.86 308.82h0.7v0.7h-0.7zM264.43 307.23h0.7v0.7h-0.7zM272.24 307.52h0.7v0.7h-0.7zM265.74 308.56h0.7v0.7h-0.7z" fill="#ffd0d0"/>
</g>
<path d="M260 307.5L275 297.7L290 287.8L305 278L320 268.3L335 259.3L350 250.5L368 240L383 231.5L397 224" fill="none" stroke="#222" stroke-width="0.7"/>
<text x="336" y="260" font-size="5.2" font-weight="bold" fill="#111">P2</text>
<text x="274.5" y="216" font-size="8.3" textLength="38" lengthAdjust="spacingAndGlyphs">MDA-MB</text>
<text x="275" y="250.2" font-size="11.4" textLength="26" lengthAdjust="spacingAndGlyphs">0.4%</text>
<text x="245.6" y="254" font-size="8.8" text-anchor="middle" fill="#333" textLength="21.8" lengthAdjust="spacingAndGlyphs" transform="rotate(-90 245.6 254)">FITC-H</text>
<text x="318" y="332.5" font-size="7.2" fill="#333" textLength="18.5" lengthAdjust="spacingAndGlyphs">PE-H</text>
<path d="M357.5 237.5h0.8v0.8h-0.8zM322 247h0.8v0.8h-0.8zM314 305h0.8v0.8h-0.8zM330 301h0.8v0.8h-0.8zM310 297h0.8v0.8h-0.8zM305 306h0.8v0.8h-0.8z" fill="#ff3030"/>
<path d="M357 237h0.8v0.8h-0.8zM316 248h0.8v0.8h-0.8zM322 240h0.8v0.8h-0.8z" fill="#00f000"/>
</g>
<g id="panelC">
<text x="421" y="28" font-size="12.8" font-weight="bold" textLength="8.6" lengthAdjust="spacingAndGlyphs">C</text>
<text x="491" y="14" font-size="10.6" fill="#111" textLength="19.2" lengthAdjust="spacingAndGlyphs">DSB</text>
<rect x="498.2" y="18.2" width="2.6" height="5" fill="#000"/>
<polygon points="495.2,21.8 504.1,21.8 499.6,28.9" fill="#000" stroke="none" stroke-width="1"/>
<rect x="480" y="27" width="13" height="22.5" fill="#d6ebbd"/>
<rect x="503" y="27" width="27" height="22.5" fill="#d6ebbd"/>
<rect x="545.5" y="27" width="37.5" height="22.5" fill="#d6ebbd"/>
<line x1="467.5" y1="42.9" x2="495.5" y2="42.9" stroke="#5b9bd5" stroke-width="3"/>
<line x1="499.5" y1="42.9" x2="589.5" y2="42.9" stroke="#5b9bd5" stroke-width="3"/>
<line x1="467.5" y1="47.4" x2="495.5" y2="47.4" stroke="#5b9bd5" stroke-width="3"/>
<line x1="499.5" y1="47.4" x2="589.5" y2="47.4" stroke="#5b9bd5" stroke-width="3"/>
<path d="M452.5 205.5V62.5H604.5V205.5" fill="none" stroke="#111" stroke-width="1"/>
<line x1="449" y1="205.5" x2="604" y2="205.5" stroke="#111" stroke-width="1.2"/>
<line x1="449" y1="110.5" x2="452" y2="110.5" stroke="#111" stroke-width="1"/>
<text x="448.4" y="112.6" font-size="8.3" text-anchor="end" fill="#111" textLength="11.4" lengthAdjust="spacingAndGlyphs">1.0</text>
<line x1="449" y1="158.5" x2="452" y2="158.5" stroke="#111" stroke-width="1"/>
<text x="448.4" y="160.6" font-size="8.3" text-anchor="end" fill="#111" textLength="11.4" lengthAdjust="spacingAndGlyphs">0.5</text>
<line x1="449" y1="205.5" x2="452" y2="205.5" stroke="#111" stroke-width="1"/>
<text x="448.4" y="208.1" font-size="8.3" text-anchor="end" fill="#111" textLength="11.4" lengthAdjust="spacingAndGlyphs">0.0</text>
<text x="434" y="133.25" font-size="9" text-anchor="middle" textLength="85" lengthAdjust="spacingAndGlyphs" transform="rotate(-90 434 133.25)" stroke="#000" stroke-width="0.18">HR capacity, relative</text>
<line x1="472.25" y1="104" x2="472.25" y2="107.5" stroke="#444" stroke-width="1.4"/>
<line x1="468.85" y1="104.5" x2="475.65" y2="104.5" stroke="#444" stroke-width="1.3"/>
<rect x="459.5" y="107.5" width="25" height="98" fill="#d3d3d3" stroke="#000" stroke-width="1"/>
<line x1="509.25" y1="191" x2="509.25" y2="194" stroke="#444" stroke-width="1.4"/>
<line x1="505.85" y1="191.5" x2="512.65" y2="191.5" stroke="#444" stroke-width="1.3"/>
<rect x="496.5" y="194.5" width="26" height="11" fill="#fff" stroke="#000" stroke-width="1"/>
<line x1="547" y1="180.5" x2="547" y2="183" stroke="#444" stroke-width="1.4"/>
<line x1="543.6" y1="180.5" x2="550.4" y2="180.5" stroke="#444" stroke-width="1.3"/>
<rect x="534.5" y="183.5" width="25" height="22" fill="#808080" stroke="#000" stroke-width="1"/>
<line x1="585" y1="155.5" x2="585" y2="163" stroke="#444" stroke-width="1.4"/>
<line x1="581.6" y1="155.5" x2="588.4" y2="155.5" stroke="#444" stroke-width="1.3"/>
<rect x="572.5" y="163.5" width="25" height="42" fill="#000" stroke="#000" stroke-width="1"/>
<text x="472" y="214.2" font-size="9" font-weight="bold" text-anchor="middle" fill="#111" textLength="25.5" lengthAdjust="spacingAndGlyphs">MCF7</text>
<text x="509.5" y="214.2" font-size="9" font-weight="bold" text-anchor="middle" fill="#111" textLength="23.2" lengthAdjust="spacingAndGlyphs">MDA-</text>
<text x="509.5" y="224.2" font-size="9" font-weight="bold" text-anchor="middle" fill="#111" textLength="14" lengthAdjust="spacingAndGlyphs">231</text>
<text x="547" y="214.2" font-size="9" font-weight="bold" text-anchor="middle" fill="#111" textLength="23.2" lengthAdjust="spacingAndGlyphs">MDA-</text>
<text x="547" y="224.2" font-size="9" font-weight="bold" text-anchor="middle" fill="#111" textLength="14" lengthAdjust="spacingAndGlyphs">231</text>
<text x="547" y="234.2" font-size="9" font-weight="bold" text-anchor="middle" fill="#111" textLength="11.8" lengthAdjust="spacingAndGlyphs">BR</text>
<text x="585" y="214.2" font-size="9" font-weight="bold" text-anchor="middle" fill="#111" textLength="23.2" lengthAdjust="spacingAndGlyphs">MDA-</text>
<text x="585" y="224.2" font-size="9" font-weight="bold" text-anchor="middle" fill="#111" textLength="14" lengthAdjust="spacingAndGlyphs">231</text>
<text x="585" y="234.2" font-size="9" font-weight="bold" text-anchor="middle" fill="#111" textLength="11.2" lengthAdjust="spacingAndGlyphs">SA</text>
<path d="M471.5 100.5V90.5H549.5V117.5M507.5 117.5H592.5" fill="none" stroke="#111" stroke-width="1"/>
<text x="503" y="60.6" font-size="8.2" textLength="16" lengthAdjust="spacingAndGlyphs">GFP</text>
<text x="551" y="60.6" font-size="8.2" textLength="22" lengthAdjust="spacingAndGlyphs">ΔGFP</text>
<text x="509.5" y="92.05" font-size="9.4" text-anchor="middle" stroke="#000" stroke-width="0.25">**</text>
<path d="M509.5 169.5V136.5H585.5V144.5" fill="none" stroke="#111" stroke-width="1"/>
<text x="548" y="138.05" font-size="9.4" text-anchor="middle" stroke="#000" stroke-width="0.25">**</text>
<path d="M509.5 190.5V172.5H547.5V177.5" fill="none" stroke="#111" stroke-width="1"/>
<text x="528.5" y="174.25" font-size="9.4" text-anchor="middle" stroke="#000" stroke-width="0.25">*</text>
</g>
<g id="panelD">
<text x="431" y="258" font-size="13.6" font-weight="bold" textLength="9.2" lengthAdjust="spacingAndGlyphs">D</text>
<text x="484" y="252" font-size="10.6" fill="#111" textLength="18.6" lengthAdjust="spacingAndGlyphs">DSB</text>
<rect x="489.6" y="255.5" width="2.9" height="6" fill="#000"/>
<polygon points="486.8,260 495.2,260 491,268.2" fill="#000" stroke="none" stroke-width="1"/>
<rect x="465" y="259" width="15" height="28.5" fill="#d6ebbd"/>
<polygon points="498,279 507.5,279 523,263 537,263 537,302 523,302 507.5,287.6 498,287.6" fill="#d6ebbd" stroke="none" stroke-width="1"/>
<rect x="569" y="264" width="32" height="37.5" fill="#d6ebbd"/>
<line x1="457.5" y1="280.2" x2="481" y2="280.2" stroke="#5b9bd5" stroke-width="3"/>
<line x1="457.5" y1="286.5" x2="481" y2="286.5" stroke="#5b9bd5" stroke-width="3"/>
<path d="M498 280.2H507.5L523 263.7H601" fill="none" stroke="#5b9bd5" stroke-width="3.1" stroke-linejoin="round"/>
<path d="M498 286.5H507.5L523 301.4H601" fill="none" stroke="#5b9bd5" stroke-width="3.1" stroke-linejoin="round"/>
<line x1="531" y1="269" x2="553" y2="269" stroke="#5b9bd5" stroke-width="2.3"/>
<polygon points="525.5,269 533,264.4 533,273.6" fill="#5b9bd5" stroke="none" stroke-width="1"/>
<line x1="523" y1="297" x2="532" y2="297" stroke="#5b9bd5" stroke-width="2.3"/>
<polygon points="538,297 530.5,292.4 530.5,301.6" fill="#5b9bd5" stroke="none" stroke-width="1"/>
<line x1="540.5" y1="297" x2="550" y2="297" stroke="#5b9bd5" stroke-width="2.3"/>
<polygon points="556,297 548.5,292.4 548.5,301.6" fill="#5b9bd5" stroke="none" stroke-width="1"/>
<path d="M456.5 456.5V312.5H515.5M518.5 312.5H610.5V456.5" fill="none" stroke="#111" stroke-width="1"/>
<line x1="453.8" y1="456.5" x2="610" y2="456.5" stroke="#111" stroke-width="1.2"/>
<line x1="453.8" y1="360.5" x2="456.8" y2="360.5" stroke="#111" stroke-width="1"/>
<text x="453.2" y="363.1" font-size="8.3" text-anchor="end" fill="#111" textLength="11.4" lengthAdjust="spacingAndGlyphs">1.0</text>
<line x1="453.8" y1="408.5" x2="456.8" y2="408.5" stroke="#111" stroke-width="1"/>
<text x="453.2" y="410.6" font-size="8.3" text-anchor="end" fill="#111" textLength="11.4" lengthAdjust="spacingAndGlyphs">0.5</text>
<line x1="453.8" y1="456.5" x2="456.8" y2="456.5" stroke="#111" stroke-width="1"/>
<text x="453.2" y="458.6" font-size="8.3" text-anchor="end" fill="#111" textLength="11.4" lengthAdjust="spacingAndGlyphs">0.0</text>
<text x="438" y="383.75" font-size="9" text-anchor="middle" textLength="85" lengthAdjust="spacingAndGlyphs" transform="rotate(-90 438 383.75)" stroke="#000" stroke-width="0.18">HR capacity, relative</text>
<line x1="476.5" y1="350.5" x2="476.5" y2="355.5" stroke="#444" stroke-width="1.4"/>
<line x1="473.1" y1="350.5" x2="479.9" y2="350.5" stroke="#444" stroke-width="1.3"/>
<rect x="464.5" y="355.5" width="24" height="100.5" fill="#d3d3d3" stroke="#000" stroke-width="1"/>
<line x1="514" y1="437.5" x2="514" y2="440.5" stroke="#444" stroke-width="1.4"/>
<line x1="510.6" y1="437.5" x2="517.4" y2="437.5" stroke="#444" stroke-width="1.3"/>
<rect x="501.5" y="440.5" width="25" height="15.5" fill="#fff" stroke="#000" stroke-width="1"/>
<line x1="552" y1="428" x2="552" y2="430.5" stroke="#444" stroke-width="1.4"/>
<line x1="548.6" y1="428.5" x2="555.4" y2="428.5" stroke="#444" stroke-width="1.3"/>
<rect x="539.5" y="430.5" width="25" height="25.5" fill="#808080" stroke="#000" stroke-width="1"/>
<line x1="590" y1="380.5" x2="590" y2="385" stroke="#444" stroke-width="1.4"/>
<line x1="586.6" y1="380.5" x2="593.4" y2="380.5" stroke="#444" stroke-width="1.3"/>
<rect x="577.5" y="385.5" width="25" height="70.5" fill="#000" stroke="#000" stroke-width="1"/>
<text x="476" y="465.2" font-size="9" font-weight="bold" text-anchor="middle" fill="#111" textLength="25.5" lengthAdjust="spacingAndGlyphs">MCF7</text>
<text x="514" y="465.2" font-size="9" font-weight="bold" text-anchor="middle" fill="#111" textLength="23.2" lengthAdjust="spacingAndGlyphs">MDA-</text>
<text x="514" y="475.2" font-size="9" font-weight="bold" text-anchor="middle" fill="#111" textLength="14" lengthAdjust="spacingAndGlyphs">231</text>
<text x="552" y="465.2" font-size="9" font-weight="bold" text-anchor="middle" fill="#111" textLength="23.2" lengthAdjust="spacingAndGlyphs">MDA-</text>
<text x="552" y="475.2" font-size="9" font-weight="bold" text-anchor="middle" fill="#111" textLength="14" lengthAdjust="spacingAndGlyphs">231</text>
<text x="552" y="485.2" font-size="9" font-weight="bold" text-anchor="middle" fill="#111" textLength="11.8" lengthAdjust="spacingAndGlyphs">BR</text>
<text x="590" y="465.2" font-size="9" font-weight="bold" text-anchor="middle" fill="#111" textLength="23.2" lengthAdjust="spacingAndGlyphs">MDA-</text>
<text x="590" y="475.2" font-size="9" font-weight="bold" text-anchor="middle" fill="#111" textLength="14" lengthAdjust="spacingAndGlyphs">231</text>
<text x="590" y="485.2" font-size="9" font-weight="bold" text-anchor="middle" fill="#111" textLength="11.2" lengthAdjust="spacingAndGlyphs">SA</text>
<path d="M476.5 346.5V339.5H553.5V354.5M508.5 354.5H598.5" fill="none" stroke="#111" stroke-width="1"/>
<text x="520" y="310.8" font-size="8.2" textLength="16.5" lengthAdjust="spacingAndGlyphs">GFP</text>
<text x="573" y="310.8" font-size="8.2" textLength="22.5" lengthAdjust="spacingAndGlyphs">ΔGFP</text>
<text x="516.5" y="340.05" font-size="9.4" text-anchor="middle" stroke="#000" stroke-width="0.25">***</text>
<path d="M513.5 432.5V365.5H590.5V370.5" fill="none" stroke="#111" stroke-width="1"/>
<text x="550" y="367.55" font-size="9.4" text-anchor="middle" stroke="#000" stroke-width="0.25">***</text>
<path d="M553.5 425.5V371.5H590.5V377.5" fill="none" stroke="#111" stroke-width="1"/>
<text x="570" y="372.85" font-size="9.4" text-anchor="middle" stroke="#000" stroke-width="0.25">**</text>
</g>
<g id="panelE">
<text x="22" y="493" font-size="14.6" font-weight="bold" textLength="8.2" lengthAdjust="spacingAndGlyphs">E</text>
<text x="25.4" y="502.3" font-size="9.4" font-weight="bold" fill="#111" textLength="12.4" lengthAdjust="spacingAndGlyphs">HU</text>
<text x="59" y="502.3" font-size="8.5" font-weight="bold" text-anchor="middle" fill="#222" textLength="4" lengthAdjust="spacingAndGlyphs">–</text>
<text x="86.4" y="504.3" font-size="9" font-weight="bold" text-anchor="middle" fill="#333">+</text>
<text x="113" y="502.3" font-size="8.5" font-weight="bold" text-anchor="middle" fill="#777" textLength="4" lengthAdjust="spacingAndGlyphs">–</text>
<text x="140.4" y="504.3" font-size="9" font-weight="bold" text-anchor="middle" fill="#444">+</text>
<text x="165" y="502.3" font-size="8.5" font-weight="bold" text-anchor="middle" fill="#666" textLength="4" lengthAdjust="spacingAndGlyphs">–</text>
<text x="190.4" y="504.3" font-size="9" font-weight="bold" text-anchor="middle" fill="#666">+</text>
<text x="216" y="502.3" font-size="8.5" font-weight="bold" text-anchor="middle" fill="#666" textLength="4" lengthAdjust="spacingAndGlyphs">–</text>
<text x="242.9" y="504.3" font-size="9" font-weight="bold" text-anchor="middle">+</text>
<path d="M49.5 627.5V506.5H254.5V627.5Z" fill="none" stroke="#222" stroke-width="1"/>
<line x1="46" y1="522.5" x2="49" y2="522.5" stroke="#222" stroke-width="1"/>
<text x="45.6" y="525" font-size="8.3" text-anchor="end" fill="#111" textLength="11.6" lengthAdjust="spacingAndGlyphs">1.2</text>
<line x1="46" y1="552.5" x2="49" y2="552.5" stroke="#222" stroke-width="1"/>
<text x="45.6" y="555" font-size="8.3" text-anchor="end" fill="#111" textLength="11.6" lengthAdjust="spacingAndGlyphs">1.0</text>
<line x1="46" y1="582.5" x2="49" y2="582.5" stroke="#222" stroke-width="1"/>
<text x="45.6" y="585" font-size="8.3" text-anchor="end" fill="#111" textLength="11.6" lengthAdjust="spacingAndGlyphs">0.8</text>
<line x1="46" y1="612.5" x2="49" y2="612.5" stroke="#222" stroke-width="1"/>
<text x="45.6" y="615" font-size="8.3" text-anchor="end" fill="#111" textLength="11.6" lengthAdjust="spacingAndGlyphs">0.6</text>
<text x="16" y="567" font-size="9" text-anchor="middle" textLength="66" lengthAdjust="spacingAndGlyphs" transform="rotate(-90 16 567)" stroke="#000" stroke-width="0.18">Replication tract</text>
<text x="29" y="567.5" font-size="9" text-anchor="middle" textLength="90" lengthAdjust="spacingAndGlyphs" transform="rotate(-90 29 567.5)" stroke="#000" stroke-width="0.18">length (CldU), relative</text>
<rect x="54.2" y="552" width="17.3" height="75.5" fill="#d3d3d3"/>
<path d="M54.2 627.5V552.2H71.5V627.5" fill="none" stroke="#000" stroke-width="2.1"/>
<line x1="87.5" y1="572.5" x2="87.5" y2="579.5" stroke="#666" stroke-width="1.4"/>
<line x1="85.45" y1="572.5" x2="90.25" y2="572.5" stroke="#666" stroke-width="1.3"/>
<rect x="79.7" y="580.5" width="16.3" height="47" fill="#d3d3d3"/>
<path d="M79.7 627.5V580.7H96V627.5" fill="none" stroke="#000" stroke-width="2.1"/>
<line x1="113.5" y1="544.5" x2="113.5" y2="551" stroke="#666" stroke-width="1.4"/>
<line x1="111.2" y1="544.5" x2="116" y2="544.5" stroke="#666" stroke-width="1.3"/>
<rect x="105.2" y="552" width="16.8" height="75.5" fill="#fff"/>
<path d="M105.2 627.5V552.2H122V627.5" fill="none" stroke="#000" stroke-width="2.1"/>
<rect x="130.7" y="568.5" width="17.3" height="59" fill="#fff"/>
<path d="M130.7 627.5V568.7H148V627.5" fill="none" stroke="#000" stroke-width="2.1"/>
<line x1="164.5" y1="544.5" x2="164.5" y2="552" stroke="#666" stroke-width="1.4"/>
<line x1="162.2" y1="544.5" x2="167" y2="544.5" stroke="#666" stroke-width="1.3"/>
<rect x="156.2" y="553" width="16.8" height="74.5" fill="#636363"/>
<path d="M156.2 627.5V553.2H173V627.5" fill="none" stroke="#000" stroke-width="2.1"/>
<rect x="182.2" y="570" width="16.3" height="57.5" fill="#636363"/>
<path d="M182.2 627.5V570.2H198.5V627.5" fill="none" stroke="#000" stroke-width="2.1"/>
<line x1="215.5" y1="543" x2="215.5" y2="553" stroke="#666" stroke-width="1.4"/>
<line x1="213.45" y1="543.5" x2="218.25" y2="543.5" stroke="#666" stroke-width="1.3"/>
<rect x="207.7" y="554" width="16.3" height="73.5" fill="#000"/>
<path d="M207.7 627.5V554.2H224V627.5" fill="none" stroke="#000" stroke-width="2.1"/>
<line x1="241.5" y1="559.5" x2="241.5" y2="563" stroke="#666" stroke-width="1.4"/>
<line x1="238.95" y1="559.5" x2="243.75" y2="559.5" stroke="#666" stroke-width="1.3"/>
<rect x="232.7" y="564" width="17.3" height="63.5" fill="#000"/>
<path d="M232.7 627.5V564.2H250V627.5" fill="none" stroke="#000" stroke-width="2.1"/>
<line x1="49" y1="627.5" x2="254.5" y2="627.5" stroke="#111" stroke-width="1.2"/>
<path d="M75.5 528.5V519.5H178.5V528.5M62.5 528.5H87.5M114.5 528.5H242.5" fill="none" stroke="#111" stroke-width="1"/>
<text x="124.5" y="520.25" font-size="9.4" text-anchor="middle" stroke="#000" stroke-width="0.25">**</text>
<path d="M62.5 547.5V546Q62.5 544.5 64 544.5H88.5V568.5" fill="none" stroke="#111" stroke-width="1"/>
<text x="75" y="545.45" font-size="9.4" text-anchor="middle" stroke="#000" stroke-width="0.25">***</text>
<path d="M113.5 542V541Q113.5 539.5 115 539.5H139.5V565" fill="none" stroke="#111" stroke-width="1"/>
<text x="127" y="540.25" font-size="9.4" text-anchor="middle" stroke="#000" stroke-width="0.25">****</text>
<path d="M164.5 543.5V542Q164.5 540.5 166 540.5H190.5V565" fill="none" stroke="#111" stroke-width="1"/>
<text x="177" y="541.05" font-size="9.4" text-anchor="middle" stroke="#000" stroke-width="0.25">*</text>
<path d="M216.5 541V538Q216.5 536.5 218 536.5H242.5V557.5" fill="none" stroke="#111" stroke-width="1"/>
<text x="227.5" y="538.05" font-size="9.4" text-anchor="middle" stroke="#000" stroke-width="0.25">**</text>
<text x="60" y="637.6" font-size="9.9" font-weight="bold" fill="#111" textLength="27" lengthAdjust="spacingAndGlyphs">MCF7</text>
<text x="116.8" y="637.6" font-size="9.9" font-weight="bold" fill="#111" textLength="42.3" lengthAdjust="spacingAndGlyphs">MDA-231</text>
<text x="117.7" y="649.4" font-size="9.7" font-weight="bold" fill="#111" textLength="15" lengthAdjust="spacingAndGlyphs">WT</text>
<text x="170" y="649.4" font-size="9.7" font-weight="bold" fill="#111" textLength="12.8" lengthAdjust="spacingAndGlyphs">BR</text>
<text x="222.5" y="649.4" font-size="9.7" font-weight="bold" fill="#111" textLength="12" lengthAdjust="spacingAndGlyphs">SA</text>
</g>
<g id="panelF">
<text x="282" y="493" font-size="14.6" font-weight="bold" textLength="6.4" lengthAdjust="spacingAndGlyphs">F</text>
<path d="M289.5 637.5V499.5H438.5V637.5" fill="none" stroke="#000" stroke-width="1.25"/>
<line x1="286.5" y1="637.5" x2="438.8" y2="637.5" stroke="#000" stroke-width="1.25"/>
<line x1="288.5" y1="637" x2="288.5" y2="640.4" stroke="#111" stroke-width="1"/>
<line x1="297.54" y1="637" x2="297.54" y2="639" stroke="#111" stroke-width="0.7"/>
<line x1="302.59" y1="637" x2="302.59" y2="639" stroke="#111" stroke-width="0.7"/>
<line x1="306.18" y1="637" x2="306.18" y2="639" stroke="#111" stroke-width="0.7"/>
<line x1="308.96" y1="637" x2="308.96" y2="639" stroke="#111" stroke-width="0.7"/>
<line x1="311.23" y1="637" x2="311.23" y2="639" stroke="#111" stroke-width="0.7"/>
<line x1="313.15" y1="637" x2="313.15" y2="639" stroke="#111" stroke-width="0.7"/>
<line x1="314.82" y1="637" x2="314.82" y2="639" stroke="#111" stroke-width="0.7"/>
<line x1="316.29" y1="637" x2="316.29" y2="639" stroke="#111" stroke-width="0.7"/>
<line x1="317.5" y1="637" x2="317.5" y2="640.4" stroke="#111" stroke-width="1"/>
<line x1="326.24" y1="637" x2="326.24" y2="639" stroke="#111" stroke-width="0.7"/>
<line x1="331.29" y1="637" x2="331.29" y2="639" stroke="#111" stroke-width="0.7"/>
<line x1="334.88" y1="637" x2="334.88" y2="639" stroke="#111" stroke-width="0.7"/>
<line x1="337.66" y1="637" x2="337.66" y2="639" stroke="#111" stroke-width="0.7"/>
<line x1="339.93" y1="637" x2="339.93" y2="639" stroke="#111" stroke-width="0.7"/>
<line x1="341.85" y1="637" x2="341.85" y2="639" stroke="#111" stroke-width="0.7"/>
<line x1="343.52" y1="637" x2="343.52" y2="639" stroke="#111" stroke-width="0.7"/>
<line x1="344.99" y1="637" x2="344.99" y2="639" stroke="#111" stroke-width="0.7"/>
<line x1="346.5" y1="637" x2="346.5" y2="640.4" stroke="#111" stroke-width="1"/>
<line x1="354.94" y1="637" x2="354.94" y2="639" stroke="#111" stroke-width="0.7"/>
<line x1="359.99" y1="637" x2="359.99" y2="639" stroke="#111" stroke-width="0.7"/>
<line x1="363.58" y1="637" x2="363.58" y2="639" stroke="#111" stroke-width="0.7"/>
<line x1="366.36" y1="637" x2="366.36" y2="639" stroke="#111" stroke-width="0.7"/>
<line x1="368.63" y1="637" x2="368.63" y2="639" stroke="#111" stroke-width="0.7"/>
<line x1="370.55" y1="637" x2="370.55" y2="639" stroke="#111" stroke-width="0.7"/>
<line x1="372.22" y1="637" x2="372.22" y2="639" stroke="#111" stroke-width="0.7"/>
<line x1="373.69" y1="637" x2="373.69" y2="639" stroke="#111" stroke-width="0.7"/>
<line x1="375.5" y1="637" x2="375.5" y2="640.4" stroke="#111" stroke-width="1"/>
<line x1="383.64" y1="637" x2="383.64" y2="639" stroke="#111" stroke-width="0.7"/>
<line x1="388.69" y1="637" x2="388.69" y2="639" stroke="#111" stroke-width="0.7"/>
<line x1="392.28" y1="637" x2="392.28" y2="639" stroke="#111" stroke-width="0.7"/>
<line x1="395.06" y1="637" x2="395.06" y2="639" stroke="#111" stroke-width="0.7"/>
<line x1="397.33" y1="637" x2="397.33" y2="639" stroke="#111" stroke-width="0.7"/>
<line x1="399.25" y1="637" x2="399.25" y2="639" stroke="#111" stroke-width="0.7"/>
<line x1="400.92" y1="637" x2="400.92" y2="639" stroke="#111" stroke-width="0.7"/>
<line x1="402.39" y1="637" x2="402.39" y2="639" stroke="#111" stroke-width="0.7"/>
<line x1="403.5" y1="637" x2="403.5" y2="640.4" stroke="#111" stroke-width="1"/>
<line x1="412.34" y1="637" x2="412.34" y2="639" stroke="#111" stroke-width="0.7"/>
<line x1="417.39" y1="637" x2="417.39" y2="639" stroke="#111" stroke-width="0.7"/>
<line x1="420.98" y1="637" x2="420.98" y2="639" stroke="#111" stroke-width="0.7"/>
<line x1="423.76" y1="637" x2="423.76" y2="639" stroke="#111" stroke-width="0.7"/>
<line x1="426.03" y1="637" x2="426.03" y2="639" stroke="#111" stroke-width="0.7"/>
<line x1="427.95" y1="637" x2="427.95" y2="639" stroke="#111" stroke-width="0.7"/>
<line x1="429.62" y1="637" x2="429.62" y2="639" stroke="#111" stroke-width="0.7"/>
<line x1="431.09" y1="637" x2="431.09" y2="639" stroke="#111" stroke-width="0.7"/>
<line x1="432.5" y1="637" x2="432.5" y2="640.4" stroke="#111" stroke-width="1"/>
<text x="287.4" y="647.5" font-size="7.5" text-anchor="middle">0.001</text>
<text x="317.6" y="647.5" font-size="7.5" text-anchor="middle">0.01</text>
<text x="346.3" y="647.5" font-size="7.5" text-anchor="middle">0.1</text>
<text x="375" y="647.5" font-size="7.5" text-anchor="middle">1</text>
<text x="403.7" y="647.5" font-size="7.5" text-anchor="middle">10</text>
<text x="432.4" y="647.5" font-size="7.5" text-anchor="middle">100</text>
<line x1="286.1" y1="507.5" x2="289.5" y2="507.5" stroke="#111" stroke-width="1"/>
<line x1="286.1" y1="607.5" x2="289.5" y2="607.5" stroke="#111" stroke-width="1"/>
<line x1="287.3" y1="576.5" x2="289.5" y2="576.5" stroke="#111" stroke-width="0.9"/>
<line x1="287.3" y1="559.5" x2="289.5" y2="559.5" stroke="#111" stroke-width="0.9"/>
<line x1="287.3" y1="546.5" x2="289.5" y2="546.5" stroke="#111" stroke-width="0.9"/>
<line x1="287.3" y1="537.5" x2="289.5" y2="537.5" stroke="#111" stroke-width="0.9"/>
<line x1="287.3" y1="529.5" x2="289.5" y2="529.5" stroke="#111" stroke-width="0.9"/>
<line x1="287.3" y1="522.5" x2="289.5" y2="522.5" stroke="#111" stroke-width="0.9"/>
<line x1="287.3" y1="516.5" x2="289.5" y2="516.5" stroke="#111" stroke-width="0.9"/>
<line x1="287.3" y1="511.5" x2="289.5" y2="511.5" stroke="#111" stroke-width="0.9"/>
<line x1="287.3" y1="629.5" x2="289.5" y2="629.5" stroke="#111" stroke-width="0.9"/>
<line x1="287.3" y1="622.5" x2="289.5" y2="622.5" stroke="#111" stroke-width="0.9"/>
<line x1="287.3" y1="616.5" x2="289.5" y2="616.5" stroke="#111" stroke-width="0.9"/>
<line x1="287.3" y1="611.5" x2="289.5" y2="611.5" stroke="#111" stroke-width="0.9"/>
<text x="285.3" y="509.7" font-size="7.6" text-anchor="end">1</text>
<text x="285.6" y="609.6" font-size="7.6" text-anchor="end">0.1</text>
<line x1="289.5" y1="537.5" x2="438.5" y2="537.5" stroke="#000" stroke-width="1.15" stroke-dasharray="1.4 2.8"/>
<text x="291.8" y="546.2" font-size="8.4" fill="#111">IC<tspan font-size="7" dy="2" dx="0.6">50</tspan></text>
<text x="271" y="569.3" font-size="8.2" font-weight="bold" text-anchor="middle" fill="#222" textLength="31.8" lengthAdjust="spacingAndGlyphs" transform="rotate(-90 271 569.3)">Survival</text>
<text x="336.5" y="658.5" font-size="8.6" font-weight="bold" fill="#222" textLength="55.5" lengthAdjust="spacingAndGlyphs">Olaparib, µM</text>
<clipPath id="cpL"><rect x="289.5" y="499" width="149.3" height="138"/></clipPath><g clip-path="url(#cpL)">
<line x1="289.5" y1="507" x2="350" y2="507" stroke="#000" stroke-width="3.1"/>
<line x1="350" y1="507.3" x2="364" y2="508" stroke="#000" stroke-width="2.4"/>
<path d="M288.9 507L289.51 507L290.12 507L290.72 507L291.33 507L291.94 507L292.55 507L293.16 507L293.77 507L294.37 507L294.98 507L295.59 507L296.2 507L296.81 507L297.41 507L298.02 507L298.63 507L299.24 507L299.85 507L300.45 507L301.06 507L301.67 507L302.28 507L302.89 507L303.5 507L304.1 507L304.71 507L305.32 507L305.93 507L306.54 507L307.14 507L307.75 507L308.36 507L308.97 507L309.58 507L310.18 507L310.79 507L311.4 507L312.01 507L312.62 507L313.23 507L313.83 507L314.44 507L315.05 507L315.66 507L316.27 507L316.87 507L317.48 507L318.09 507L318.7 507L319.31 507L319.91 507L320.52 507L321.13 507L321.74 507L322.35 507L322.96 507L323.56 507L324.17 507L324.78 507L325.39 507L326 507L326.6 507L327.21 507L327.82 507L328.43 507L329.04 507L329.64 507.01L330.25 507.01L330.86 507.01L331.47 507.01L332.08 507.01L332.69 507.01L333.29 507.01L333.9 507.01L334.51 507.01L335.12 507.01L335.73 507.01L336.33 507.02L336.94 507.02L337.55 507.02L338.16 507.02L338.77 507.02L339.38 507.03L339.98 507.03L340.59 507.03L341.2 507.03L341.81 507.04L342.42 507.04L343.02 507.05L343.63 507.05L344.24 507.06L344.85 507.06L345.46 507.07L346.06 507.07L346.67 507.08L347.28 507.09L347.89 507.1L348.5 507.11L349.11 507.12L349.71 507.13L350.32 507.15L350.93 507.16L351.54 507.18L352.15 507.2L352.75 507.22L353.36 507.24L353.97 507.26L354.58 507.29L355.19 507.32L355.79 507.35L356.4 507.39L357.01 507.43L357.62 507.47L358.23 507.52L358.84 507.57L359.44 507.63L360.05 507.7L360.66 507.77L361.27 507.85L361.88 507.93L362.48 508.03L363.09 508.13L363.7 508.25L364.31 508.38L364.92 508.52L365.52 508.68L366.13 508.85L366.74 509.04L367.35 509.25L367.96 509.48L368.57 509.73L369.17 510.01L369.78 510.32L370.39 510.66L371 511.03L371.61 511.45L372.21 511.9L372.82 512.41L373.43 512.96L374.04 513.57L374.65 514.24L375.25 514.99L375.86 515.81L376.47 516.71L377.08 517.7L377.69 518.8L378.3 520.01L378.9 521.34L379.51 522.81L380.12 524.43L380.73 526.22L381.34 528.19L381.94 530.36L382.55 532.76L383.16 535.4L383.77 538.31L384.38 541.52L384.98 545.06L385.59 548.96L386.2 553.26L386.81 558L387.42 563.23L388.03 568.99L388.63 575.35L389.24 582.35L389.85 590.08L390.46 598.59L390.69 602" fill="none" stroke="#111" stroke-width="1"/>
<path d="M288.9 507L289.63 507L290.35 507L291.08 507L291.81 507L292.53 507L293.26 507L293.98 507L294.71 507L295.44 507L296.16 507L296.89 507L297.62 507L298.34 507L299.07 507L299.79 507L300.52 507L301.25 507L301.97 507L302.7 507L303.43 507L304.15 507L304.88 507L305.6 507L306.33 507L307.06 507L307.78 507L308.51 507L309.24 507L309.96 507L310.69 507L311.41 507L312.14 507L312.87 507L313.59 507L314.32 507L315.05 507L315.77 507L316.5 507L317.22 507L317.95 507L318.68 507L319.4 507L320.13 507L320.86 507L321.58 507L322.31 507L323.04 507L323.76 507L324.49 507L325.21 507L325.94 507L326.67 507L327.39 507L328.12 507L328.85 507L329.57 507L330.3 507L331.02 507L331.75 507L332.48 507.01L333.2 507.01L333.93 507.01L334.66 507.01L335.38 507.01L336.11 507.01L336.83 507.01L337.56 507.01L338.29 507.01L339.01 507.01L339.74 507.02L340.47 507.02L341.19 507.02L341.92 507.02L342.64 507.03L343.37 507.03L344.1 507.03L344.82 507.04L345.55 507.04L346.28 507.05L347 507.05L347.73 507.06L348.45 507.07L349.18 507.08L349.91 507.09L350.63 507.1L351.36 507.11L352.09 507.12L352.81 507.14L353.54 507.15L354.27 507.17L354.99 507.19L355.72 507.22L356.44 507.25L357.17 507.28L357.9 507.31L358.62 507.35L359.35 507.39L360.08 507.44L360.8 507.49L361.53 507.55L362.25 507.62L362.98 507.7L363.71 507.78L364.43 507.88L365.16 507.98L365.89 508.1L366.61 508.24L367.34 508.39L368.06 508.56L368.79 508.75L369.52 508.96L370.24 509.19L370.97 509.46L371.7 509.75L372.42 510.08L373.15 510.44L373.87 510.85L374.6 511.31L375.33 511.81L376.05 512.37L376.78 512.99L377.51 513.67L378.23 514.43L378.96 515.27L379.68 516.19L380.41 517.2L381.14 518.31L381.86 519.52L382.59 520.85L383.32 522.29L384.04 523.85L384.77 525.55L385.5 527.37L386.22 529.34L386.95 531.44L387.67 533.7L388.4 536.09L389.13 538.64L389.85 541.33L390.58 544.17L391.31 547.15L392.03 550.27L392.76 553.53L393.48 556.93L394.21 560.45L394.94 564.09L395.66 567.85L396.39 571.72L397.12 575.69L397.84 579.76L398.57 583.91L399.29 588.15L400.02 592.47L400.75 596.86L401.47 601.31L402.2 605.83L402.93 610.39L403.65 615.01L403.95 616.9" fill="none" stroke="#111" stroke-width="1.2"/>
<path d="M288.9 507L289.63 507L290.35 507L291.08 507L291.81 507L292.53 507L293.26 507L293.98 507L294.71 507L295.44 507L296.16 507L296.89 507L297.62 507L298.34 507L299.07 507L299.79 507L300.52 507L301.25 507L301.97 507L302.7 507L303.43 507L304.15 507L304.88 507L305.6 507L306.33 507L307.06 507L307.78 507L308.51 507L309.24 507L309.96 507L310.69 507L311.41 507L312.14 507L312.87 507L313.59 507L314.32 507.01L315.05 507.01L315.77 507.01L316.5 507.01L317.22 507.01L317.95 507.01L318.68 507.01L319.4 507.01L320.13 507.01L320.86 507.01L321.58 507.01L322.31 507.01L323.04 507.01L323.76 507.02L324.49 507.02L325.21 507.02L325.94 507.02L326.67 507.02L327.39 507.02L328.12 507.02L328.85 507.03L329.57 507.03L330.3 507.03L331.02 507.03L331.75 507.04L332.48 507.04L333.2 507.04L333.93 507.05L334.66 507.05L335.38 507.06L336.11 507.06L336.83 507.07L337.56 507.07L338.29 507.08L339.01 507.08L339.74 507.09L340.47 507.1L341.19 507.11L341.92 507.12L342.64 507.13L343.37 507.14L344.1 507.15L344.82 507.16L345.55 507.18L346.28 507.19L347 507.21L347.73 507.23L348.45 507.25L349.18 507.27L349.91 507.29L350.63 507.32L351.36 507.34L352.09 507.37L352.81 507.4L353.54 507.44L354.27 507.48L354.99 507.52L355.72 507.56L356.44 507.61L357.17 507.66L357.9 507.72L358.62 507.78L359.35 507.84L360.08 507.92L360.8 507.99L361.53 508.08L362.25 508.17L362.98 508.27L363.71 508.38L364.43 508.49L365.16 508.62L365.89 508.75L366.61 508.9L367.34 509.06L368.06 509.23L368.79 509.42L369.52 509.62L370.24 509.84L370.97 510.08L371.7 510.33L372.42 510.6L373.15 510.9L373.87 511.22L374.6 511.56L375.33 511.93L376.05 512.33L376.78 512.76L377.51 513.22L378.23 513.72L378.96 514.25L379.68 514.82L380.41 515.43L381.14 516.08L381.86 516.78L382.59 517.53L383.32 518.32L384.04 519.17L384.77 520.07L385.5 521.03L386.22 522.05L386.95 523.13L387.67 524.27L388.4 525.47L389.13 526.75L389.85 528.09L390.58 529.5L391.31 530.98L392.03 532.54L392.76 534.16L393.48 535.86L394.21 537.64L394.94 539.49L395.66 541.41L396.39 543.4L397.12 545.47L397.84 547.61L398.57 549.82L399.29 552.09L400.02 554.44L400.75 556.85L401.47 559.32L402.2 561.86L402.93 564.46L403.65 567.11L404.38 569.82L405.1 572.58L405.83 575.39L406.56 578.25L407.28 581.16L408.01 584.11L408.74 587.11L409.46 590.14L409.56 590.54" fill="none" stroke="#111" stroke-width="1.2"/>
<path d="M288.9 507L289.63 507L290.35 507L291.08 507L291.81 507L292.53 507L293.26 507L293.98 507L294.71 507L295.44 507L296.16 507L296.89 507L297.62 507L298.34 507L299.07 507L299.79 507L300.52 507L301.25 507L301.97 507L302.7 507L303.43 507L304.15 507L304.88 507L305.6 507L306.33 507L307.06 507L307.78 507L308.51 507L309.24 507L309.96 507L310.69 507L311.41 507L312.14 507L312.87 507L313.59 507L314.32 507L315.05 507L315.77 507L316.5 507L317.22 507L317.95 507L318.68 507L319.4 507L320.13 507L320.86 507L321.58 507L322.31 507L323.04 507L323.76 507L324.49 507L325.21 507L325.94 507L326.67 507L327.39 507L328.12 507L328.85 507L329.57 507L330.3 507L331.02 507L331.75 507.01L332.48 507.01L333.2 507.01L333.93 507.01L334.66 507.01L335.38 507.01L336.11 507.01L336.83 507.01L337.56 507.01L338.29 507.01L339.01 507.01L339.74 507.02L340.47 507.02L341.19 507.02L341.92 507.02L342.64 507.02L343.37 507.03L344.1 507.03L344.82 507.03L345.55 507.03L346.28 507.04L347 507.04L347.73 507.05L348.45 507.05L349.18 507.06L349.91 507.06L350.63 507.07L351.36 507.08L352.09 507.08L352.81 507.09L353.54 507.1L354.27 507.11L354.99 507.13L355.72 507.14L356.44 507.15L357.17 507.17L357.9 507.19L358.62 507.2L359.35 507.23L360.08 507.25L360.8 507.27L361.53 507.3L362.25 507.33L362.98 507.37L363.71 507.41L364.43 507.45L365.16 507.49L365.89 507.54L366.61 507.6L367.34 507.66L368.06 507.73L368.79 507.8L369.52 507.88L370.24 507.97L370.97 508.07L371.7 508.18L372.42 508.3L373.15 508.43L373.87 508.58L374.6 508.74L375.33 508.91L376.05 509.11L376.78 509.32L377.51 509.55L378.23 509.8L378.96 510.08L379.68 510.39L380.41 510.72L381.14 511.09L381.86 511.49L382.59 511.93L383.32 512.41L384.04 512.93L384.77 513.49L385.5 514.11L386.22 514.78L386.95 515.51L387.67 516.3L388.4 517.16L389.13 518.08L389.85 519.08L390.58 520.15L391.31 521.3L392.03 522.54L392.76 523.87L393.48 525.29L394.21 526.8L394.94 528.41L395.66 530.12L396.39 531.93L397.12 533.84L397.84 535.86L398.57 537.98L399.29 540.2L400.02 542.53L400.75 544.96L401.47 547.5L402.2 550.13L402.93 552.86L403.65 555.69L404.38 558.61L405.1 561.61L405.83 564.71L406.56 567.88L407.28 571.13L408.01 574.45L408.74 577.85L409.46 581.31L410.19 584.83L410.91 588.41L411.64 592.04L412.37 595.73L412.95 598.71" fill="none" stroke="#111" stroke-width="1"/>
<line x1="318" y1="501.5" x2="318" y2="512.5" stroke="#444" stroke-width="1.3"/>
<line x1="375" y1="505" x2="375" y2="515" stroke="#444" stroke-width="1.3"/>
<line x1="388.8" y1="526" x2="388.8" y2="548" stroke="#444" stroke-width="1.3"/>
<line x1="395.3" y1="540" x2="395.3" y2="560" stroke="#444" stroke-width="1.3"/>
<line x1="399.3" y1="570" x2="399.3" y2="588" stroke="#444" stroke-width="1.3"/>
<line x1="403.8" y1="592" x2="403.8" y2="615" stroke="#444" stroke-width="1.3"/>
<line x1="395.3" y1="509" x2="395.3" y2="528" stroke="#444" stroke-width="1.3"/>
<line x1="408.8" y1="553" x2="408.8" y2="575" stroke="#444" stroke-width="1.3"/>
<line x1="388.8" y1="572" x2="388.8" y2="600" stroke="#444" stroke-width="1.3"/>
<line x1="408.8" y1="578" x2="408.8" y2="600" stroke="#444" stroke-width="1.3"/>
<line x1="399.3" y1="538" x2="399.3" y2="556" stroke="#444" stroke-width="1.3"/>
<line x1="412.4" y1="577" x2="412.4" y2="600" stroke="#444" stroke-width="1.3"/>
<polygon points="318,504.4 321.1,507.8 318,511.2 314.9,507.8" fill="#e0e0e0" stroke="#222" stroke-width="1"/>
<polygon points="374.6,515.6 377.7,519 374.6,522.4 371.5,519" fill="#e0e0e0" stroke="#222" stroke-width="1"/>
<polygon points="388.8,574.6 391.9,578 388.8,581.4 385.7,578" fill="#e0e0e0" stroke="#222" stroke-width="1"/>
<circle cx="318" cy="507.5" r="2.5" fill="#fff" stroke="#111" stroke-width="1"/>
<circle cx="346.8" cy="510.3" r="2.5" fill="#fff" stroke="#111" stroke-width="1"/>
<circle cx="375" cy="511" r="2.5" fill="#fff" stroke="#111" stroke-width="1"/>
<circle cx="388.8" cy="517.5" r="2.5" fill="#fff" stroke="#111" stroke-width="1"/>
<circle cx="395.4" cy="523" r="2.5" fill="#fff" stroke="#111" stroke-width="1"/>
<circle cx="399.4" cy="529.5" r="2.5" fill="#fff" stroke="#111" stroke-width="1"/>
<circle cx="403.8" cy="541" r="2.5" fill="#fff" stroke="#111" stroke-width="1"/>
<circle cx="408.8" cy="565.5" r="2.5" fill="#fff" stroke="#111" stroke-width="1"/>
<circle cx="412.5" cy="595.8" r="2.5" fill="#fff" stroke="#111" stroke-width="1"/>
<rect x="315.6" y="504.9" width="4.8" height="4.8" fill="#6a6a6a" stroke="#222" stroke-width="0.9"/>
<rect x="344.4" y="502.8" width="4.8" height="4.8" fill="#6a6a6a" stroke="#222" stroke-width="0.9"/>
<rect x="372.6" y="508.1" width="4.8" height="4.8" fill="#6a6a6a" stroke="#222" stroke-width="0.9"/>
<rect x="386.6" y="533.6" width="4.8" height="4.8" fill="#6a6a6a" stroke="#222" stroke-width="0.9"/>
<rect x="392.6" y="547.1" width="4.8" height="4.8" fill="#6a6a6a" stroke="#222" stroke-width="0.9"/>
<rect x="396.8" y="574.6" width="4.8" height="4.8" fill="#6a6a6a" stroke="#222" stroke-width="0.9"/>
<rect x="401.4" y="598.1" width="4.8" height="4.8" fill="#6a6a6a" stroke="#222" stroke-width="0.9"/>
<polygon points="318,503.7 321.1,509.3 314.9,509.3" fill="#000" stroke="none" stroke-width="1"/>
<polygon points="346.8,503.2 349.9,508.8 343.7,508.8" fill="#000" stroke="none" stroke-width="1"/>
<polygon points="375,508.2 378.1,513.8 371.9,513.8" fill="#000" stroke="none" stroke-width="1"/>
<polygon points="388.8,522.7 391.9,528.3 385.7,528.3" fill="#000" stroke="none" stroke-width="1"/>
<polygon points="395,530.7 398.1,536.3 391.9,536.3" fill="#000" stroke="none" stroke-width="1"/>
<polygon points="399.4,544.7 402.5,550.3 396.3,550.3" fill="#000" stroke="none" stroke-width="1"/>
<polygon points="403.8,572.2 406.9,577.8 400.7,577.8" fill="#000" stroke="none" stroke-width="1"/>
<polygon points="408.8,583.7 411.9,589.3 405.7,589.3" fill="#000" stroke="none" stroke-width="1"/>
</g>
<polygon points="300,597.7 303.1,603.3 296.9,603.3" fill="#000" stroke="none" stroke-width="1"/>
<line x1="295" y1="601" x2="305" y2="601" stroke="#222" stroke-width="0.9"/>
<polygon points="300,597.7 303.1,603.3 296.9,603.3" fill="#000" stroke="none" stroke-width="1"/>
<text x="310.5" y="603.3" font-size="6.4" font-weight="bold" textLength="39" lengthAdjust="spacingAndGlyphs">MDA-231 SA</text>
<circle cx="300" cy="610" r="2.5" fill="#fff" stroke="#111" stroke-width="1"/>
<line x1="295" y1="610" x2="305" y2="610" stroke="#222" stroke-width="0.9"/>
<text x="310.5" y="612.3" font-size="6.4" font-weight="bold" textLength="29" lengthAdjust="spacingAndGlyphs">MDA-231</text>
<rect x="297.6" y="617.1" width="4.8" height="4.8" fill="#6a6a6a" stroke="#222" stroke-width="0.9"/>
<line x1="295" y1="619.5" x2="305" y2="619.5" stroke="#222" stroke-width="0.9"/>
<rect x="297.6" y="617.1" width="4.8" height="4.8" fill="#6a6a6a" stroke="#222" stroke-width="0.9"/>
<text x="310.5" y="621.8" font-size="6.4" font-weight="bold" textLength="40.5" lengthAdjust="spacingAndGlyphs">MDA-231 BR</text>
<polygon points="300,626.1 303.1,629.5 300,632.9 296.9,629.5" fill="#e0e0e0" stroke="#222" stroke-width="1"/>
<line x1="295" y1="629.5" x2="305" y2="629.5" stroke="#222" stroke-width="0.9"/>
<text x="310.5" y="631.8" font-size="6.4" font-weight="bold" textLength="19" lengthAdjust="spacingAndGlyphs">MCF7</text>
<path d="M468.5 637.5V499.5H614.5V637.5" fill="none" stroke="#000" stroke-width="1.25"/>
<line x1="465" y1="637.5" x2="614.8" y2="637.5" stroke="#000" stroke-width="1.25"/>
<line x1="464.6" y1="512.5" x2="468" y2="512.5" stroke="#111" stroke-width="1"/>
<line x1="464.6" y1="554.5" x2="468" y2="554.5" stroke="#111" stroke-width="1"/>
<line x1="465.8" y1="541.5" x2="468" y2="541.5" stroke="#111" stroke-width="0.9"/>
<line x1="465.8" y1="533.5" x2="468" y2="533.5" stroke="#111" stroke-width="0.9"/>
<line x1="465.8" y1="528.5" x2="468" y2="528.5" stroke="#111" stroke-width="0.9"/>
<line x1="465.8" y1="524.5" x2="468" y2="524.5" stroke="#111" stroke-width="0.9"/>
<line x1="465.8" y1="521.5" x2="468" y2="521.5" stroke="#111" stroke-width="0.9"/>
<line x1="465.8" y1="518.5" x2="468" y2="518.5" stroke="#111" stroke-width="0.9"/>
<line x1="465.8" y1="516.5" x2="468" y2="516.5" stroke="#111" stroke-width="0.9"/>
<line x1="465.8" y1="513.5" x2="468" y2="513.5" stroke="#111" stroke-width="0.9"/>
<line x1="464.6" y1="596.5" x2="468" y2="596.5" stroke="#111" stroke-width="1"/>
<line x1="465.8" y1="583.5" x2="468" y2="583.5" stroke="#111" stroke-width="0.9"/>
<line x1="465.8" y1="575.5" x2="468" y2="575.5" stroke="#111" stroke-width="0.9"/>
<line x1="465.8" y1="570.5" x2="468" y2="570.5" stroke="#111" stroke-width="0.9"/>
<line x1="465.8" y1="566.5" x2="468" y2="566.5" stroke="#111" stroke-width="0.9"/>
<line x1="465.8" y1="563.5" x2="468" y2="563.5" stroke="#111" stroke-width="0.9"/>
<line x1="465.8" y1="560.5" x2="468" y2="560.5" stroke="#111" stroke-width="0.9"/>
<line x1="465.8" y1="558.5" x2="468" y2="558.5" stroke="#111" stroke-width="0.9"/>
<line x1="465.8" y1="555.5" x2="468" y2="555.5" stroke="#111" stroke-width="0.9"/>
<line x1="465.8" y1="625.5" x2="468" y2="625.5" stroke="#111" stroke-width="0.9"/>
<line x1="465.8" y1="617.5" x2="468" y2="617.5" stroke="#111" stroke-width="0.9"/>
<line x1="465.8" y1="612.5" x2="468" y2="612.5" stroke="#111" stroke-width="0.9"/>
<line x1="465.8" y1="608.5" x2="468" y2="608.5" stroke="#111" stroke-width="0.9"/>
<line x1="465.8" y1="605.5" x2="468" y2="605.5" stroke="#111" stroke-width="0.9"/>
<line x1="465.8" y1="602.5" x2="468" y2="602.5" stroke="#111" stroke-width="0.9"/>
<line x1="465.8" y1="600.5" x2="468" y2="600.5" stroke="#111" stroke-width="0.9"/>
<line x1="465.8" y1="597.5" x2="468" y2="597.5" stroke="#111" stroke-width="0.9"/>
<text x="465" y="514.7" font-size="7.5" text-anchor="end">1</text>
<text x="465" y="556.7" font-size="7.5" text-anchor="end">0.1</text>
<text x="465" y="598.7" font-size="7.5" text-anchor="end">0.01</text>
<text x="465" y="640.2" font-size="7.5" text-anchor="end">0.001</text>
<line x1="476.5" y1="637.5" x2="476.5" y2="640.7" stroke="#222" stroke-width="0.9"/>
<text x="476" y="648.5" font-size="7.6" text-anchor="middle" textLength="10.5" lengthAdjust="spacingAndGlyphs">0.0</text>
<line x1="514.5" y1="637.5" x2="514.5" y2="640.7" stroke="#222" stroke-width="0.9"/>
<text x="514.5" y="648.5" font-size="7.6" text-anchor="middle" textLength="10.5" lengthAdjust="spacingAndGlyphs">0.5</text>
<line x1="553.5" y1="637.5" x2="553.5" y2="640.7" stroke="#222" stroke-width="0.9"/>
<text x="553" y="648.5" font-size="7.6" text-anchor="middle" textLength="10.5" lengthAdjust="spacingAndGlyphs">1.0</text>
<line x1="591.5" y1="637.5" x2="591.5" y2="640.7" stroke="#222" stroke-width="0.9"/>
<text x="591.5" y="648.5" font-size="7.6" text-anchor="middle" textLength="10.5" lengthAdjust="spacingAndGlyphs">1.5</text>
<line x1="495.25" y1="637.5" x2="495.25" y2="639.3" stroke="#222" stroke-width="0.6"/>
<line x1="533.75" y1="637.5" x2="533.75" y2="639.3" stroke="#222" stroke-width="0.6"/>
<line x1="572.25" y1="637.5" x2="572.25" y2="639.3" stroke="#222" stroke-width="0.6"/>
<line x1="610.75" y1="637.5" x2="610.75" y2="639.3" stroke="#222" stroke-width="0.6"/>
<line x1="468" y1="525.5" x2="614.3" y2="525.5" stroke="#000" stroke-width="1.15" stroke-dasharray="1.4 2.8"/>
<text x="471" y="535" font-size="10" fill="#6a6a6a" stroke="#6a6a6a" stroke-width="0.15">IC<tspan font-size="6.6" dy="1.4">50</tspan></text>
<text x="450" y="569" font-size="10" text-anchor="middle" textLength="31" lengthAdjust="spacingAndGlyphs" transform="rotate(-90 450 569)" stroke="#000" stroke-width="0.2">Survival</text>
<text x="514" y="661.5" font-size="9" font-weight="bold" fill="#111" textLength="53" lengthAdjust="spacingAndGlyphs">MMC, µg/mL</text>
<path d="M476 512.5L483.7 512.8L495.25 513.3L514.5 514L533.75 515L553 516L591.5 517" fill="none" stroke="#222" stroke-width="1.3"/>
<path d="M476 512.5L483.7 513L495.25 513.6L514.5 514.4L533.75 515.4L553 516.4L591.5 520" fill="none" stroke="#222" stroke-width="1"/>
<path d="M476 512.5L483.7 514L495.25 516.5L514.5 521L533.75 525L553 529L591.5 539.5" fill="none" stroke="#222" stroke-width="1"/>
<line x1="533.75" y1="540" x2="533.75" y2="552" stroke="#444" stroke-width="1.3"/>
<line x1="553" y1="554" x2="553" y2="570" stroke="#444" stroke-width="1.3"/>
<line x1="591.5" y1="597.5" x2="591.5" y2="608.5" stroke="#444" stroke-width="1.3"/>
<line x1="591.5" y1="533" x2="591.5" y2="546" stroke="#444" stroke-width="1.3"/>
<line x1="495.25" y1="515.5" x2="495.25" y2="523.5" stroke="#444" stroke-width="1.3"/>
<circle cx="476" cy="512.5" r="2.38" fill="#fff" stroke="#111" stroke-width="1"/>
<circle cx="483.7" cy="513" r="2.38" fill="#fff" stroke="#111" stroke-width="1"/>
<circle cx="495.25" cy="513.6" r="2.38" fill="#fff" stroke="#111" stroke-width="1"/>
<circle cx="514.5" cy="514.4" r="2.38" fill="#fff" stroke="#111" stroke-width="1"/>
<circle cx="533.75" cy="515.4" r="2.38" fill="#fff" stroke="#111" stroke-width="1"/>
<circle cx="553" cy="516.4" r="2.38" fill="#fff" stroke="#111" stroke-width="1"/>
<circle cx="591.5" cy="520" r="2.38" fill="#fff" stroke="#111" stroke-width="1"/>
<polygon points="476,509.37 478.94,514.68 473.06,514.68" fill="#000" stroke="none" stroke-width="1"/>
<polygon points="483.7,509.66 486.64,514.98 480.75,514.98" fill="#000" stroke="none" stroke-width="1"/>
<polygon points="495.25,510.16 498.19,515.48 492.31,515.48" fill="#000" stroke="none" stroke-width="1"/>
<polygon points="514.5,510.87 517.45,516.18 511.56,516.18" fill="#000" stroke="none" stroke-width="1"/>
<polygon points="533.75,511.87 536.7,517.18 530.8,517.18" fill="#000" stroke="none" stroke-width="1"/>
<polygon points="553,512.87 555.95,518.18 550.05,518.18" fill="#000" stroke="none" stroke-width="1"/>
<polygon points="591.5,513.87 594.45,519.18 588.55,519.18" fill="#000" stroke="none" stroke-width="1"/>
<rect x="473.72" y="510.22" width="4.56" height="4.56" fill="#6a6a6a" stroke="#222" stroke-width="0.9"/>
<rect x="481.42" y="511.72" width="4.56" height="4.56" fill="#6a6a6a" stroke="#222" stroke-width="0.9"/>
<rect x="492.97" y="514.22" width="4.56" height="4.56" fill="#6a6a6a" stroke="#222" stroke-width="0.9"/>
<rect x="512.22" y="518.72" width="4.56" height="4.56" fill="#6a6a6a" stroke="#222" stroke-width="0.9"/>
<rect x="531.47" y="522.72" width="4.56" height="4.56" fill="#6a6a6a" stroke="#222" stroke-width="0.9"/>
<rect x="550.72" y="526.72" width="4.56" height="4.56" fill="#6a6a6a" stroke="#222" stroke-width="0.9"/>
<rect x="589.22" y="537.22" width="4.56" height="4.56" fill="#6a6a6a" stroke="#222" stroke-width="0.9"/>
<polygon points="476,509.27 478.94,512.5 476,515.73 473.06,512.5" fill="#e0e0e0" stroke="#222" stroke-width="1"/>
<polygon points="483.7,512.27 486.64,515.5 483.7,518.73 480.75,515.5" fill="#e0e0e0" stroke="#222" stroke-width="1"/>
<polygon points="495.25,516.27 498.19,519.5 495.25,522.73 492.31,519.5" fill="#e0e0e0" stroke="#222" stroke-width="1"/>
<polygon points="514.5,527.77 517.45,531 514.5,534.23 511.56,531" fill="#e0e0e0" stroke="#222" stroke-width="1"/>
<polygon points="533.75,542.77 536.7,546 533.75,549.23 530.8,546" fill="#e0e0e0" stroke="#222" stroke-width="1"/>
<polygon points="553,558.77 555.95,562 553,565.23 550.05,562" fill="#e0e0e0" stroke="#222" stroke-width="1"/>
<polygon points="591.5,599.77 594.45,603 591.5,606.23 588.55,603" fill="#e0e0e0" stroke="#222" stroke-width="1"/>
<path d="M595.5 522.5H598.5V603.5H595.5" fill="none" stroke="#111" stroke-width="1"/>
<path d="M595.5 516.5H605.5V602.5H602.5" fill="none" stroke="#111" stroke-width="1"/>
<text x="601.5" y="560.69" font-size="10.5" text-anchor="middle" stroke="#000" stroke-width="0.25">*</text>
<text x="610.3" y="560.69" font-size="10.5" text-anchor="middle" stroke="#000" stroke-width="0.25">**</text>
<polygon points="476.5,604.2 479.6,609.8 473.4,609.8" fill="#000" stroke="none" stroke-width="1"/>
<line x1="471.5" y1="607.5" x2="481.5" y2="607.5" stroke="#222" stroke-width="0.9"/>
<polygon points="476.5,604.2 479.6,609.8 473.4,609.8" fill="#000" stroke="none" stroke-width="1"/>
<text x="487" y="609.8" font-size="6.2" font-weight="bold" textLength="38" lengthAdjust="spacingAndGlyphs">MDA-231 SA</text>
<circle cx="476.5" cy="616" r="2.5" fill="#fff" stroke="#111" stroke-width="1"/>
<line x1="471.5" y1="616" x2="481.5" y2="616" stroke="#222" stroke-width="0.9"/>
<text x="487" y="618.3" font-size="6.2" font-weight="bold" textLength="26.5" lengthAdjust="spacingAndGlyphs">MDA-231</text>
<rect x="474.1" y="622.1" width="4.8" height="4.8" fill="#6a6a6a" stroke="#222" stroke-width="0.9"/>
<line x1="471.5" y1="624.5" x2="481.5" y2="624.5" stroke="#222" stroke-width="0.9"/>
<rect x="474.1" y="622.1" width="4.8" height="4.8" fill="#6a6a6a" stroke="#222" stroke-width="0.9"/>
<text x="487" y="626.8" font-size="6.2" font-weight="bold" textLength="37" lengthAdjust="spacingAndGlyphs">MDA-231 BR</text>
<polygon points="476.5,629.1 479.6,632.5 476.5,635.9 473.4,632.5" fill="#e0e0e0" stroke="#222" stroke-width="1"/>
<line x1="471.5" y1="632.5" x2="481.5" y2="632.5" stroke="#222" stroke-width="0.9"/>
<text x="487" y="634.8" font-size="6.2" font-weight="bold" textLength="18" lengthAdjust="spacingAndGlyphs">MCF7</text>
</g>
</svg>
</body></html>
